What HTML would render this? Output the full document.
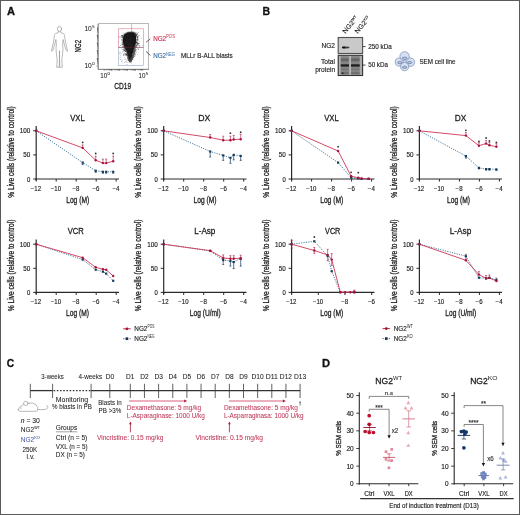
<!DOCTYPE html>
<html><head><meta charset="utf-8"><style>
html,body{margin:0;padding:0;background:#fff;}
body{width:520px;height:515px;overflow:hidden;position:relative;}
svg{display:block;position:absolute;left:0;top:0;will-change:transform;}
text{stroke:currentColor;stroke-width:0.15px;}
text.sm{stroke-width:0;}
text.md{stroke-width:0.28px;}
.lt text{stroke-width:0.06px;}
.frame{position:absolute;left:0;top:0;width:518px;height:513px;border:1px solid #5a5a5a;pointer-events:none;}
</style></head><body>
<svg width="520" height="515" viewBox="0 0 520 515" color="#222" font-family='"Liberation Sans", sans-serif'>
<rect x="0" y="0" width="520" height="515" fill="#fff"/>
<text class="md" x="7.1" y="14.9" font-size="10.5" text-anchor="start" fill="#111" color="#111" font-weight="bold" textLength="8.0" lengthAdjust="spacingAndGlyphs" >A</text>
<text class="md" x="262.5" y="15" font-size="10.5" text-anchor="start" fill="#111" color="#111" font-weight="bold" >B</text>
<text class="md" x="6.8" y="367.3" font-size="10.5" text-anchor="start" fill="#111" color="#111" font-weight="bold" textLength="7.4" lengthAdjust="spacingAndGlyphs" >C</text>
<text class="md" x="322.0" y="367.1" font-size="10.8" text-anchor="start" fill="#111" color="#111" font-weight="bold" textLength="8.1" lengthAdjust="spacingAndGlyphs" >D</text>
<text class="md" x="77.5" y="120.9" font-size="8.7" text-anchor="middle" fill="#222" color="#222" font-weight="normal" textLength="14.5" lengthAdjust="spacingAndGlyphs" >VXL</text>
<text transform="translate(13.600000000000001,152.0) rotate(-90)" x="0" y="0" class="md" font-size="8.5" text-anchor="middle" fill="#222" textLength="91.5" lengthAdjust="spacingAndGlyphs">% Live cells (relative to control)</text>
<line x1="36.2" y1="126" x2="36.2" y2="180.5" stroke="#2a2a2a" stroke-width="1.2" />
<line x1="35.6" y1="179" x2="119" y2="179" stroke="#2a2a2a" stroke-width="1.2" />
<line x1="33.2" y1="179.0" x2="36.2" y2="179.0" stroke="#2a2a2a" stroke-width="1" />
<text x="30.300000000000004" y="181.5" font-size="6.7" text-anchor="end" fill="#222" color="#222" font-weight="normal" textLength="3.3" lengthAdjust="spacingAndGlyphs" >0</text>
<line x1="33.2" y1="154.9" x2="36.2" y2="154.9" stroke="#2a2a2a" stroke-width="1" />
<text x="30.300000000000004" y="157.4" font-size="6.7" text-anchor="end" fill="#222" color="#222" font-weight="normal" textLength="7" lengthAdjust="spacingAndGlyphs" >50</text>
<line x1="33.2" y1="130.8" x2="36.2" y2="130.8" stroke="#2a2a2a" stroke-width="1" />
<text x="30.300000000000004" y="133.3" font-size="6.7" text-anchor="end" fill="#222" color="#222" font-weight="normal" textLength="10.6" lengthAdjust="spacingAndGlyphs" >100</text>
<line x1="36.2" y1="179" x2="36.2" y2="181.6" stroke="#2a2a2a" stroke-width="1" />
<text x="35.900000000000006" y="190.9" font-size="6.6" text-anchor="middle" fill="#222" color="#222" font-weight="normal" textLength="10.2" lengthAdjust="spacingAndGlyphs" >−12</text>
<line x1="56.2" y1="179" x2="56.2" y2="181.6" stroke="#2a2a2a" stroke-width="1" />
<text x="55.900000000000006" y="190.9" font-size="6.6" text-anchor="middle" fill="#222" color="#222" font-weight="normal" textLength="10.2" lengthAdjust="spacingAndGlyphs" >−10</text>
<line x1="76.2" y1="179" x2="76.2" y2="181.6" stroke="#2a2a2a" stroke-width="1" />
<text x="75.9" y="190.9" font-size="6.6" text-anchor="middle" fill="#222" color="#222" font-weight="normal" textLength="7.0" lengthAdjust="spacingAndGlyphs" >−8</text>
<line x1="96.2" y1="179" x2="96.2" y2="181.6" stroke="#2a2a2a" stroke-width="1" />
<text x="95.9" y="190.9" font-size="6.6" text-anchor="middle" fill="#222" color="#222" font-weight="normal" textLength="7.0" lengthAdjust="spacingAndGlyphs" >−6</text>
<line x1="116.2" y1="179" x2="116.2" y2="181.6" stroke="#2a2a2a" stroke-width="1" />
<text x="115.9" y="190.9" font-size="6.6" text-anchor="middle" fill="#222" color="#222" font-weight="normal" textLength="7.0" lengthAdjust="spacingAndGlyphs" >−4</text>
<text class="md" x="77.7" y="202.7" font-size="8.2" text-anchor="middle" fill="#222" color="#222" font-weight="normal" textLength="23" lengthAdjust="spacingAndGlyphs" >Log (M)</text>
<polyline points="36.2,130.8 82.7,162.6 95.7,170.8 102.9,171.8 106.2,171.8 113.2,171.8" fill="none" stroke="#3c7098" stroke-width="1" stroke-dasharray="1.1,1.3"/>
<polyline points="36.2,130.8 82.7,147.9 95.7,160.2 102.9,163.1 106.2,163.1 113.2,161.2" fill="none" stroke="#d2405e" stroke-width="0.95"/>
<line x1="82.7" y1="147.911" x2="82.7" y2="144.911" stroke="#a8163c" stroke-width="0.6" />
<line x1="81.7" y1="144.911" x2="83.7" y2="144.911" stroke="#a8163c" stroke-width="0.6" />
<line x1="95.7" y1="160.202" x2="95.7" y2="156.202" stroke="#a8163c" stroke-width="0.6" />
<line x1="94.7" y1="156.202" x2="96.7" y2="156.202" stroke="#a8163c" stroke-width="0.6" />
<line x1="102.9" y1="163.094" x2="102.9" y2="159.094" stroke="#a8163c" stroke-width="0.6" />
<line x1="101.9" y1="159.094" x2="103.9" y2="159.094" stroke="#a8163c" stroke-width="0.6" />
<line x1="106.2" y1="163.094" x2="106.2" y2="159.094" stroke="#a8163c" stroke-width="0.6" />
<line x1="105.2" y1="159.094" x2="107.2" y2="159.094" stroke="#a8163c" stroke-width="0.6" />
<line x1="113.2" y1="161.166" x2="113.2" y2="156.166" stroke="#a8163c" stroke-width="0.6" />
<line x1="112.2" y1="156.166" x2="114.2" y2="156.166" stroke="#a8163c" stroke-width="0.6" />
<line x1="82.7" y1="162.612" x2="82.7" y2="164.612" stroke="#173a5c" stroke-width="0.7" />
<line x1="81.7" y1="164.612" x2="83.7" y2="164.612" stroke="#173a5c" stroke-width="0.7" />
<line x1="95.7" y1="170.806" x2="95.7" y2="172.306" stroke="#173a5c" stroke-width="0.7" />
<line x1="94.7" y1="172.306" x2="96.7" y2="172.306" stroke="#173a5c" stroke-width="0.7" />
<line x1="102.9" y1="171.77" x2="102.9" y2="173.27" stroke="#173a5c" stroke-width="0.7" />
<line x1="101.9" y1="173.27" x2="103.9" y2="173.27" stroke="#173a5c" stroke-width="0.7" />
<line x1="106.2" y1="171.77" x2="106.2" y2="173.27" stroke="#173a5c" stroke-width="0.7" />
<line x1="105.2" y1="173.27" x2="107.2" y2="173.27" stroke="#173a5c" stroke-width="0.7" />
<line x1="113.2" y1="171.77" x2="113.2" y2="173.27" stroke="#173a5c" stroke-width="0.7" />
<line x1="112.2" y1="173.27" x2="114.2" y2="173.27" stroke="#173a5c" stroke-width="0.7" />
<rect x="35.1" y="129.7" width="2.2" height="2.2" fill="#173a5c"/>
<rect x="81.6" y="161.5" width="2.2" height="2.2" fill="#173a5c"/>
<rect x="94.6" y="169.7" width="2.2" height="2.2" fill="#173a5c"/>
<rect x="101.8" y="170.7" width="2.2" height="2.2" fill="#173a5c"/>
<rect x="105.1" y="170.7" width="2.2" height="2.2" fill="#173a5c"/>
<rect x="112.1" y="170.7" width="2.2" height="2.2" fill="#173a5c"/>
<circle cx="36.2" cy="130.8" r="1.2" fill="#a8163c"/>
<circle cx="82.7" cy="147.9" r="1.2" fill="#a8163c"/>
<circle cx="95.7" cy="160.2" r="1.2" fill="#a8163c"/>
<circle cx="102.9" cy="163.1" r="1.2" fill="#a8163c"/>
<circle cx="106.2" cy="163.1" r="1.2" fill="#a8163c"/>
<circle cx="113.2" cy="161.2" r="1.2" fill="#a8163c"/>
<circle cx="82.7" cy="142.4" r="0.9" fill="#333"/>
<circle cx="95.7" cy="153.5" r="0.9" fill="#333"/>
<circle cx="113.2" cy="153.5" r="0.9" fill="#333"/>
<text class="md" x="204.2" y="120.9" font-size="8.7" text-anchor="middle" fill="#222" color="#222" font-weight="normal" textLength="12.1" lengthAdjust="spacingAndGlyphs" >DX</text>
<text transform="translate(141.1,152.0) rotate(-90)" x="0" y="0" class="md" font-size="8.5" text-anchor="middle" fill="#222" textLength="91.5" lengthAdjust="spacingAndGlyphs">% Live cells (relative to control)</text>
<line x1="163.7" y1="126" x2="163.7" y2="180.5" stroke="#2a2a2a" stroke-width="1.2" />
<line x1="163.1" y1="179" x2="246.5" y2="179" stroke="#2a2a2a" stroke-width="1.2" />
<line x1="160.7" y1="179.0" x2="163.7" y2="179.0" stroke="#2a2a2a" stroke-width="1" />
<text x="157.79999999999998" y="181.5" font-size="6.7" text-anchor="end" fill="#222" color="#222" font-weight="normal" textLength="3.3" lengthAdjust="spacingAndGlyphs" >0</text>
<line x1="160.7" y1="154.9" x2="163.7" y2="154.9" stroke="#2a2a2a" stroke-width="1" />
<text x="157.79999999999998" y="157.4" font-size="6.7" text-anchor="end" fill="#222" color="#222" font-weight="normal" textLength="7" lengthAdjust="spacingAndGlyphs" >50</text>
<line x1="160.7" y1="130.8" x2="163.7" y2="130.8" stroke="#2a2a2a" stroke-width="1" />
<text x="157.79999999999998" y="133.3" font-size="6.7" text-anchor="end" fill="#222" color="#222" font-weight="normal" textLength="10.6" lengthAdjust="spacingAndGlyphs" >100</text>
<line x1="163.7" y1="179" x2="163.7" y2="181.6" stroke="#2a2a2a" stroke-width="1" />
<text x="163.39999999999998" y="190.9" font-size="6.6" text-anchor="middle" fill="#222" color="#222" font-weight="normal" textLength="10.2" lengthAdjust="spacingAndGlyphs" >−12</text>
<line x1="183.7" y1="179" x2="183.7" y2="181.6" stroke="#2a2a2a" stroke-width="1" />
<text x="183.39999999999998" y="190.9" font-size="6.6" text-anchor="middle" fill="#222" color="#222" font-weight="normal" textLength="10.2" lengthAdjust="spacingAndGlyphs" >−10</text>
<line x1="203.7" y1="179" x2="203.7" y2="181.6" stroke="#2a2a2a" stroke-width="1" />
<text x="203.39999999999998" y="190.9" font-size="6.6" text-anchor="middle" fill="#222" color="#222" font-weight="normal" textLength="7.0" lengthAdjust="spacingAndGlyphs" >−8</text>
<line x1="223.7" y1="179" x2="223.7" y2="181.6" stroke="#2a2a2a" stroke-width="1" />
<text x="223.39999999999998" y="190.9" font-size="6.6" text-anchor="middle" fill="#222" color="#222" font-weight="normal" textLength="7.0" lengthAdjust="spacingAndGlyphs" >−6</text>
<line x1="243.7" y1="179" x2="243.7" y2="181.6" stroke="#2a2a2a" stroke-width="1" />
<text x="243.39999999999998" y="190.9" font-size="6.6" text-anchor="middle" fill="#222" color="#222" font-weight="normal" textLength="7.0" lengthAdjust="spacingAndGlyphs" >−4</text>
<text class="md" x="205.1" y="202.7" font-size="8.2" text-anchor="middle" fill="#222" color="#222" font-weight="normal" textLength="23" lengthAdjust="spacingAndGlyphs" >Log (M)</text>
<polyline points="163.7,130.8 210.2,151.5 223.2,155.4 230.4,157.8 233.7,154.9 240.7,155.9" fill="none" stroke="#3c7098" stroke-width="1" stroke-dasharray="1.1,1.3"/>
<polyline points="163.7,130.8 210.2,137.5 223.2,140.2 230.4,140.2 233.7,139.5 240.7,139.2" fill="none" stroke="#d2405e" stroke-width="0.95"/>
<line x1="210.2" y1="137.548" x2="210.2" y2="134.548" stroke="#a8163c" stroke-width="0.6" />
<line x1="209.2" y1="134.548" x2="211.2" y2="134.548" stroke="#a8163c" stroke-width="0.6" />
<line x1="223.2" y1="140.199" x2="223.2" y2="136.199" stroke="#a8163c" stroke-width="0.6" />
<line x1="222.2" y1="136.199" x2="224.2" y2="136.199" stroke="#a8163c" stroke-width="0.6" />
<line x1="230.39999999999998" y1="140.199" x2="230.39999999999998" y2="136.199" stroke="#a8163c" stroke-width="0.6" />
<line x1="229.39999999999998" y1="136.199" x2="231.39999999999998" y2="136.199" stroke="#a8163c" stroke-width="0.6" />
<line x1="233.7" y1="139.476" x2="233.7" y2="135.476" stroke="#a8163c" stroke-width="0.6" />
<line x1="232.7" y1="135.476" x2="234.7" y2="135.476" stroke="#a8163c" stroke-width="0.6" />
<line x1="240.7" y1="139.235" x2="240.7" y2="134.235" stroke="#a8163c" stroke-width="0.6" />
<line x1="239.7" y1="134.235" x2="241.7" y2="134.235" stroke="#a8163c" stroke-width="0.6" />
<line x1="210.2" y1="151.526" x2="210.2" y2="157.026" stroke="#173a5c" stroke-width="0.7" />
<line x1="209.2" y1="157.026" x2="211.2" y2="157.026" stroke="#173a5c" stroke-width="0.7" />
<line x1="223.2" y1="155.382" x2="223.2" y2="160.382" stroke="#173a5c" stroke-width="0.7" />
<line x1="222.2" y1="160.382" x2="224.2" y2="160.382" stroke="#173a5c" stroke-width="0.7" />
<line x1="230.39999999999998" y1="157.792" x2="230.39999999999998" y2="163.292" stroke="#173a5c" stroke-width="0.7" />
<line x1="229.39999999999998" y1="163.292" x2="231.39999999999998" y2="163.292" stroke="#173a5c" stroke-width="0.7" />
<line x1="233.7" y1="154.9" x2="233.7" y2="159.9" stroke="#173a5c" stroke-width="0.7" />
<line x1="232.7" y1="159.9" x2="234.7" y2="159.9" stroke="#173a5c" stroke-width="0.7" />
<line x1="240.7" y1="155.864" x2="240.7" y2="160.364" stroke="#173a5c" stroke-width="0.7" />
<line x1="239.7" y1="160.364" x2="241.7" y2="160.364" stroke="#173a5c" stroke-width="0.7" />
<rect x="162.6" y="129.7" width="2.2" height="2.2" fill="#173a5c"/>
<rect x="209.1" y="150.4" width="2.2" height="2.2" fill="#173a5c"/>
<rect x="222.1" y="154.3" width="2.2" height="2.2" fill="#173a5c"/>
<rect x="229.3" y="156.7" width="2.2" height="2.2" fill="#173a5c"/>
<rect x="232.6" y="153.8" width="2.2" height="2.2" fill="#173a5c"/>
<rect x="239.6" y="154.8" width="2.2" height="2.2" fill="#173a5c"/>
<circle cx="163.7" cy="130.8" r="1.2" fill="#a8163c"/>
<circle cx="210.2" cy="137.5" r="1.2" fill="#a8163c"/>
<circle cx="223.2" cy="140.2" r="1.2" fill="#a8163c"/>
<circle cx="230.4" cy="140.2" r="1.2" fill="#a8163c"/>
<circle cx="233.7" cy="139.5" r="1.2" fill="#a8163c"/>
<circle cx="240.7" cy="139.2" r="1.2" fill="#a8163c"/>
<circle cx="230.4" cy="133.2" r="0.9" fill="#333"/>
<circle cx="240.7" cy="132.2" r="0.9" fill="#333"/>
<text class="md" x="75.8" y="234.29999999999998" font-size="8.7" text-anchor="middle" fill="#222" color="#222" font-weight="normal" textLength="16.0" lengthAdjust="spacingAndGlyphs" >VCR</text>
<text transform="translate(13.600000000000001,265.4) rotate(-90)" x="0" y="0" class="md" font-size="8.5" text-anchor="middle" fill="#222" textLength="91.5" lengthAdjust="spacingAndGlyphs">% Live cells (relative to control)</text>
<line x1="36.2" y1="239.39999999999998" x2="36.2" y2="293.9" stroke="#2a2a2a" stroke-width="1.2" />
<line x1="35.6" y1="292.4" x2="119" y2="292.4" stroke="#2a2a2a" stroke-width="1.2" />
<line x1="33.2" y1="292.4" x2="36.2" y2="292.4" stroke="#2a2a2a" stroke-width="1" />
<text x="30.300000000000004" y="294.9" font-size="6.7" text-anchor="end" fill="#222" color="#222" font-weight="normal" textLength="3.3" lengthAdjust="spacingAndGlyphs" >0</text>
<line x1="33.2" y1="268.29999999999995" x2="36.2" y2="268.29999999999995" stroke="#2a2a2a" stroke-width="1" />
<text x="30.300000000000004" y="270.79999999999995" font-size="6.7" text-anchor="end" fill="#222" color="#222" font-weight="normal" textLength="7" lengthAdjust="spacingAndGlyphs" >50</text>
<line x1="33.2" y1="244.2" x2="36.2" y2="244.2" stroke="#2a2a2a" stroke-width="1" />
<text x="30.300000000000004" y="246.7" font-size="6.7" text-anchor="end" fill="#222" color="#222" font-weight="normal" textLength="10.6" lengthAdjust="spacingAndGlyphs" >100</text>
<line x1="36.2" y1="292.4" x2="36.2" y2="295.0" stroke="#2a2a2a" stroke-width="1" />
<text x="35.900000000000006" y="304.29999999999995" font-size="6.6" text-anchor="middle" fill="#222" color="#222" font-weight="normal" textLength="10.2" lengthAdjust="spacingAndGlyphs" >−12</text>
<line x1="56.2" y1="292.4" x2="56.2" y2="295.0" stroke="#2a2a2a" stroke-width="1" />
<text x="55.900000000000006" y="304.29999999999995" font-size="6.6" text-anchor="middle" fill="#222" color="#222" font-weight="normal" textLength="10.2" lengthAdjust="spacingAndGlyphs" >−10</text>
<line x1="76.2" y1="292.4" x2="76.2" y2="295.0" stroke="#2a2a2a" stroke-width="1" />
<text x="75.9" y="304.29999999999995" font-size="6.6" text-anchor="middle" fill="#222" color="#222" font-weight="normal" textLength="7.0" lengthAdjust="spacingAndGlyphs" >−8</text>
<line x1="96.2" y1="292.4" x2="96.2" y2="295.0" stroke="#2a2a2a" stroke-width="1" />
<text x="95.9" y="304.29999999999995" font-size="6.6" text-anchor="middle" fill="#222" color="#222" font-weight="normal" textLength="7.0" lengthAdjust="spacingAndGlyphs" >−6</text>
<line x1="116.2" y1="292.4" x2="116.2" y2="295.0" stroke="#2a2a2a" stroke-width="1" />
<text x="115.9" y="304.29999999999995" font-size="6.6" text-anchor="middle" fill="#222" color="#222" font-weight="normal" textLength="7.0" lengthAdjust="spacingAndGlyphs" >−4</text>
<text class="md" x="77.6" y="316.09999999999997" font-size="8.2" text-anchor="middle" fill="#222" color="#222" font-weight="normal" textLength="23" lengthAdjust="spacingAndGlyphs" >Log (M)</text>
<polyline points="36.2,244.2 82.7,259.6 95.7,269.7 102.9,271.7 106.2,273.6 113.2,280.8" fill="none" stroke="#3c7098" stroke-width="1" stroke-dasharray="1.1,1.3"/>
<polyline points="36.2,244.2 82.7,257.7 95.7,267.3 102.9,269.3 106.2,269.7 113.2,276.0" fill="none" stroke="#d2405e" stroke-width="0.95"/>
<rect x="35.1" y="243.1" width="2.2" height="2.2" fill="#173a5c"/>
<rect x="81.6" y="258.5" width="2.2" height="2.2" fill="#173a5c"/>
<rect x="94.6" y="268.6" width="2.2" height="2.2" fill="#173a5c"/>
<rect x="101.8" y="270.6" width="2.2" height="2.2" fill="#173a5c"/>
<rect x="105.1" y="272.5" width="2.2" height="2.2" fill="#173a5c"/>
<rect x="112.1" y="279.7" width="2.2" height="2.2" fill="#173a5c"/>
<circle cx="36.2" cy="244.2" r="1.2" fill="#a8163c"/>
<circle cx="82.7" cy="257.7" r="1.2" fill="#a8163c"/>
<circle cx="95.7" cy="267.3" r="1.2" fill="#a8163c"/>
<circle cx="102.9" cy="269.3" r="1.2" fill="#a8163c"/>
<circle cx="106.2" cy="269.7" r="1.2" fill="#a8163c"/>
<circle cx="113.2" cy="276.0" r="1.2" fill="#a8163c"/>
<text class="md" x="204.8" y="234.29999999999998" font-size="8.7" text-anchor="middle" fill="#222" color="#222" font-weight="normal" textLength="21.2" lengthAdjust="spacingAndGlyphs" >L-Asp</text>
<text transform="translate(141.1,265.4) rotate(-90)" x="0" y="0" class="md" font-size="8.5" text-anchor="middle" fill="#222" textLength="91.5" lengthAdjust="spacingAndGlyphs">% Live cells (relative to control)</text>
<line x1="163.7" y1="239.39999999999998" x2="163.7" y2="293.9" stroke="#2a2a2a" stroke-width="1.2" />
<line x1="163.1" y1="292.4" x2="246.5" y2="292.4" stroke="#2a2a2a" stroke-width="1.2" />
<line x1="160.7" y1="292.4" x2="163.7" y2="292.4" stroke="#2a2a2a" stroke-width="1" />
<text x="157.79999999999998" y="294.9" font-size="6.7" text-anchor="end" fill="#222" color="#222" font-weight="normal" textLength="3.3" lengthAdjust="spacingAndGlyphs" >0</text>
<line x1="160.7" y1="268.29999999999995" x2="163.7" y2="268.29999999999995" stroke="#2a2a2a" stroke-width="1" />
<text x="157.79999999999998" y="270.79999999999995" font-size="6.7" text-anchor="end" fill="#222" color="#222" font-weight="normal" textLength="7" lengthAdjust="spacingAndGlyphs" >50</text>
<line x1="160.7" y1="244.2" x2="163.7" y2="244.2" stroke="#2a2a2a" stroke-width="1" />
<text x="157.79999999999998" y="246.7" font-size="6.7" text-anchor="end" fill="#222" color="#222" font-weight="normal" textLength="10.6" lengthAdjust="spacingAndGlyphs" >100</text>
<line x1="163.7" y1="292.4" x2="163.7" y2="295.0" stroke="#2a2a2a" stroke-width="1" />
<text x="163.39999999999998" y="304.29999999999995" font-size="6.6" text-anchor="middle" fill="#222" color="#222" font-weight="normal" textLength="10.2" lengthAdjust="spacingAndGlyphs" >−12</text>
<line x1="183.7" y1="292.4" x2="183.7" y2="295.0" stroke="#2a2a2a" stroke-width="1" />
<text x="183.39999999999998" y="304.29999999999995" font-size="6.6" text-anchor="middle" fill="#222" color="#222" font-weight="normal" textLength="10.2" lengthAdjust="spacingAndGlyphs" >−10</text>
<line x1="203.7" y1="292.4" x2="203.7" y2="295.0" stroke="#2a2a2a" stroke-width="1" />
<text x="203.39999999999998" y="304.29999999999995" font-size="6.6" text-anchor="middle" fill="#222" color="#222" font-weight="normal" textLength="7.0" lengthAdjust="spacingAndGlyphs" >−8</text>
<line x1="223.7" y1="292.4" x2="223.7" y2="295.0" stroke="#2a2a2a" stroke-width="1" />
<text x="223.39999999999998" y="304.29999999999995" font-size="6.6" text-anchor="middle" fill="#222" color="#222" font-weight="normal" textLength="7.0" lengthAdjust="spacingAndGlyphs" >−6</text>
<line x1="243.7" y1="292.4" x2="243.7" y2="295.0" stroke="#2a2a2a" stroke-width="1" />
<text x="243.39999999999998" y="304.29999999999995" font-size="6.6" text-anchor="middle" fill="#222" color="#222" font-weight="normal" textLength="7.0" lengthAdjust="spacingAndGlyphs" >−4</text>
<text class="md" x="205.3" y="316.09999999999997" font-size="8.2" text-anchor="middle" fill="#222" color="#222" font-weight="normal" textLength="31" lengthAdjust="spacingAndGlyphs" >Log (U/ml)</text>
<polyline points="163.7,244.2 210.2,250.9 223.2,260.1 230.4,261.1 233.7,262.0 240.7,258.7" fill="none" stroke="#3c7098" stroke-width="1" stroke-dasharray="1.1,1.3"/>
<polyline points="163.7,244.2 210.2,250.7 223.2,257.9 230.4,258.7 233.7,258.7 240.7,258.2" fill="none" stroke="#d2405e" stroke-width="0.95"/>
<line x1="223.2" y1="257.93699999999995" x2="223.2" y2="254.93699999999995" stroke="#a8163c" stroke-width="0.6" />
<line x1="222.2" y1="254.93699999999995" x2="224.2" y2="254.93699999999995" stroke="#a8163c" stroke-width="0.6" />
<line x1="230.39999999999998" y1="258.65999999999997" x2="230.39999999999998" y2="255.65999999999997" stroke="#a8163c" stroke-width="0.6" />
<line x1="229.39999999999998" y1="255.65999999999997" x2="231.39999999999998" y2="255.65999999999997" stroke="#a8163c" stroke-width="0.6" />
<line x1="233.7" y1="258.65999999999997" x2="233.7" y2="255.65999999999997" stroke="#a8163c" stroke-width="0.6" />
<line x1="232.7" y1="255.65999999999997" x2="234.7" y2="255.65999999999997" stroke="#a8163c" stroke-width="0.6" />
<line x1="240.7" y1="258.178" x2="240.7" y2="255.178" stroke="#a8163c" stroke-width="0.6" />
<line x1="239.7" y1="255.178" x2="241.7" y2="255.178" stroke="#a8163c" stroke-width="0.6" />
<line x1="223.2" y1="260.106" x2="223.2" y2="264.606" stroke="#173a5c" stroke-width="0.7" />
<line x1="222.2" y1="264.606" x2="224.2" y2="264.606" stroke="#173a5c" stroke-width="0.7" />
<line x1="230.39999999999998" y1="261.07" x2="230.39999999999998" y2="266.07" stroke="#173a5c" stroke-width="0.7" />
<line x1="229.39999999999998" y1="266.07" x2="231.39999999999998" y2="266.07" stroke="#173a5c" stroke-width="0.7" />
<line x1="233.7" y1="262.034" x2="233.7" y2="268.534" stroke="#173a5c" stroke-width="0.7" />
<line x1="232.7" y1="268.534" x2="234.7" y2="268.534" stroke="#173a5c" stroke-width="0.7" />
<line x1="240.7" y1="258.65999999999997" x2="240.7" y2="266.15999999999997" stroke="#173a5c" stroke-width="0.7" />
<line x1="239.7" y1="266.15999999999997" x2="241.7" y2="266.15999999999997" stroke="#173a5c" stroke-width="0.7" />
<rect x="162.6" y="243.1" width="2.2" height="2.2" fill="#173a5c"/>
<rect x="209.1" y="249.8" width="2.2" height="2.2" fill="#173a5c"/>
<rect x="222.1" y="259.0" width="2.2" height="2.2" fill="#173a5c"/>
<rect x="229.3" y="260.0" width="2.2" height="2.2" fill="#173a5c"/>
<rect x="232.6" y="260.9" width="2.2" height="2.2" fill="#173a5c"/>
<rect x="239.6" y="257.6" width="2.2" height="2.2" fill="#173a5c"/>
<circle cx="163.7" cy="244.2" r="1.2" fill="#a8163c"/>
<circle cx="210.2" cy="250.7" r="1.2" fill="#a8163c"/>
<circle cx="223.2" cy="257.9" r="1.2" fill="#a8163c"/>
<circle cx="230.4" cy="258.7" r="1.2" fill="#a8163c"/>
<circle cx="233.7" cy="258.7" r="1.2" fill="#a8163c"/>
<circle cx="240.7" cy="258.2" r="1.2" fill="#a8163c"/>
<text class="md" x="331.5" y="120.9" font-size="8.7" text-anchor="middle" fill="#222" color="#222" font-weight="normal" textLength="14.6" lengthAdjust="spacingAndGlyphs" >VXL</text>
<text transform="translate(269.0,152.0) rotate(-90)" x="0" y="0" class="md" font-size="8.5" text-anchor="middle" fill="#222" textLength="91.5" lengthAdjust="spacingAndGlyphs">% Live cells (relative to control)</text>
<line x1="291.6" y1="126" x2="291.6" y2="180.5" stroke="#2a2a2a" stroke-width="1.2" />
<line x1="291.0" y1="179" x2="374.5" y2="179" stroke="#2a2a2a" stroke-width="1.2" />
<line x1="288.6" y1="179.0" x2="291.6" y2="179.0" stroke="#2a2a2a" stroke-width="1" />
<text x="285.70000000000005" y="181.5" font-size="6.7" text-anchor="end" fill="#222" color="#222" font-weight="normal" textLength="3.3" lengthAdjust="spacingAndGlyphs" >0</text>
<line x1="288.6" y1="154.9" x2="291.6" y2="154.9" stroke="#2a2a2a" stroke-width="1" />
<text x="285.70000000000005" y="157.4" font-size="6.7" text-anchor="end" fill="#222" color="#222" font-weight="normal" textLength="7" lengthAdjust="spacingAndGlyphs" >50</text>
<line x1="288.6" y1="130.8" x2="291.6" y2="130.8" stroke="#2a2a2a" stroke-width="1" />
<text x="285.70000000000005" y="133.3" font-size="6.7" text-anchor="end" fill="#222" color="#222" font-weight="normal" textLength="10.6" lengthAdjust="spacingAndGlyphs" >100</text>
<line x1="291.6" y1="179" x2="291.6" y2="181.6" stroke="#2a2a2a" stroke-width="1" />
<text x="291.3" y="190.9" font-size="6.6" text-anchor="middle" fill="#222" color="#222" font-weight="normal" textLength="10.2" lengthAdjust="spacingAndGlyphs" >−12</text>
<line x1="311.6" y1="179" x2="311.6" y2="181.6" stroke="#2a2a2a" stroke-width="1" />
<text x="311.3" y="190.9" font-size="6.6" text-anchor="middle" fill="#222" color="#222" font-weight="normal" textLength="10.2" lengthAdjust="spacingAndGlyphs" >−10</text>
<line x1="331.6" y1="179" x2="331.6" y2="181.6" stroke="#2a2a2a" stroke-width="1" />
<text x="331.3" y="190.9" font-size="6.6" text-anchor="middle" fill="#222" color="#222" font-weight="normal" textLength="7.0" lengthAdjust="spacingAndGlyphs" >−8</text>
<line x1="351.6" y1="179" x2="351.6" y2="181.6" stroke="#2a2a2a" stroke-width="1" />
<text x="351.3" y="190.9" font-size="6.6" text-anchor="middle" fill="#222" color="#222" font-weight="normal" textLength="7.0" lengthAdjust="spacingAndGlyphs" >−6</text>
<line x1="371.6" y1="179" x2="371.6" y2="181.6" stroke="#2a2a2a" stroke-width="1" />
<text x="371.3" y="190.9" font-size="6.6" text-anchor="middle" fill="#222" color="#222" font-weight="normal" textLength="7.0" lengthAdjust="spacingAndGlyphs" >−4</text>
<text class="md" x="331.7" y="202.7" font-size="8.2" text-anchor="middle" fill="#222" color="#222" font-weight="normal" textLength="23" lengthAdjust="spacingAndGlyphs" >Log (M)</text>
<polyline points="291.6,130.8 338.1,162.6 351.1,177.6 358.3,178.3 361.6,178.8 368.6,178.9" fill="none" stroke="#3c7098" stroke-width="1" stroke-dasharray="1.1,1.3"/>
<polyline points="291.6,130.8 338.1,151.0 351.1,176.1 358.3,177.8 361.6,178.5 368.6,178.8" fill="none" stroke="#d2405e" stroke-width="0.95"/>
<rect x="290.5" y="129.7" width="2.2" height="2.2" fill="#173a5c"/>
<rect x="337.0" y="161.5" width="2.2" height="2.2" fill="#173a5c"/>
<rect x="350.0" y="176.5" width="2.2" height="2.2" fill="#173a5c"/>
<rect x="357.2" y="177.2" width="2.2" height="2.2" fill="#173a5c"/>
<rect x="360.5" y="177.7" width="2.2" height="2.2" fill="#173a5c"/>
<rect x="367.5" y="177.8" width="2.2" height="2.2" fill="#173a5c"/>
<circle cx="291.6" cy="130.8" r="1.2" fill="#a8163c"/>
<circle cx="338.1" cy="151.0" r="1.2" fill="#a8163c"/>
<circle cx="351.1" cy="176.1" r="1.2" fill="#a8163c"/>
<circle cx="358.3" cy="177.8" r="1.2" fill="#a8163c"/>
<circle cx="361.6" cy="178.5" r="1.2" fill="#a8163c"/>
<circle cx="368.6" cy="178.8" r="1.2" fill="#a8163c"/>
<circle cx="338.1" cy="146.7" r="0.9" fill="#333"/>
<circle cx="351.1" cy="172.3" r="0.9" fill="#333"/>
<circle cx="358.3" cy="172.7" r="0.9" fill="#333"/>
<text class="md" x="460.6" y="120.9" font-size="8.7" text-anchor="middle" fill="#222" color="#222" font-weight="normal" textLength="11.6" lengthAdjust="spacingAndGlyphs" >DX</text>
<text transform="translate(396.79999999999995,152.0) rotate(-90)" x="0" y="0" class="md" font-size="8.5" text-anchor="middle" fill="#222" textLength="91.5" lengthAdjust="spacingAndGlyphs">% Live cells (relative to control)</text>
<line x1="419.4" y1="126" x2="419.4" y2="180.5" stroke="#2a2a2a" stroke-width="1.2" />
<line x1="418.79999999999995" y1="179" x2="502" y2="179" stroke="#2a2a2a" stroke-width="1.2" />
<line x1="416.4" y1="179.0" x2="419.4" y2="179.0" stroke="#2a2a2a" stroke-width="1" />
<text x="413.5" y="181.5" font-size="6.7" text-anchor="end" fill="#222" color="#222" font-weight="normal" textLength="3.3" lengthAdjust="spacingAndGlyphs" >0</text>
<line x1="416.4" y1="154.9" x2="419.4" y2="154.9" stroke="#2a2a2a" stroke-width="1" />
<text x="413.5" y="157.4" font-size="6.7" text-anchor="end" fill="#222" color="#222" font-weight="normal" textLength="7" lengthAdjust="spacingAndGlyphs" >50</text>
<line x1="416.4" y1="130.8" x2="419.4" y2="130.8" stroke="#2a2a2a" stroke-width="1" />
<text x="413.5" y="133.3" font-size="6.7" text-anchor="end" fill="#222" color="#222" font-weight="normal" textLength="10.6" lengthAdjust="spacingAndGlyphs" >100</text>
<line x1="419.4" y1="179" x2="419.4" y2="181.6" stroke="#2a2a2a" stroke-width="1" />
<text x="419.09999999999997" y="190.9" font-size="6.6" text-anchor="middle" fill="#222" color="#222" font-weight="normal" textLength="10.2" lengthAdjust="spacingAndGlyphs" >−12</text>
<line x1="439.4" y1="179" x2="439.4" y2="181.6" stroke="#2a2a2a" stroke-width="1" />
<text x="439.09999999999997" y="190.9" font-size="6.6" text-anchor="middle" fill="#222" color="#222" font-weight="normal" textLength="10.2" lengthAdjust="spacingAndGlyphs" >−10</text>
<line x1="459.4" y1="179" x2="459.4" y2="181.6" stroke="#2a2a2a" stroke-width="1" />
<text x="459.09999999999997" y="190.9" font-size="6.6" text-anchor="middle" fill="#222" color="#222" font-weight="normal" textLength="7.0" lengthAdjust="spacingAndGlyphs" >−8</text>
<line x1="479.4" y1="179" x2="479.4" y2="181.6" stroke="#2a2a2a" stroke-width="1" />
<text x="479.09999999999997" y="190.9" font-size="6.6" text-anchor="middle" fill="#222" color="#222" font-weight="normal" textLength="7.0" lengthAdjust="spacingAndGlyphs" >−6</text>
<line x1="499.4" y1="179" x2="499.4" y2="181.6" stroke="#2a2a2a" stroke-width="1" />
<text x="499.09999999999997" y="190.9" font-size="6.6" text-anchor="middle" fill="#222" color="#222" font-weight="normal" textLength="7.0" lengthAdjust="spacingAndGlyphs" >−4</text>
<text class="md" x="458.5" y="202.7" font-size="8.2" text-anchor="middle" fill="#222" color="#222" font-weight="normal" textLength="23" lengthAdjust="spacingAndGlyphs" >Log (M)</text>
<polyline points="419.4,130.8 465.9,156.1 478.9,167.9 486.1,169.1 489.4,169.1 496.4,169.4" fill="none" stroke="#3c7098" stroke-width="1" stroke-dasharray="1.1,1.3"/>
<polyline points="419.4,130.8 465.9,135.6 478.9,145.7 486.1,143.6 489.4,145.3 496.4,146.7" fill="none" stroke="#d2405e" stroke-width="0.95"/>
<line x1="465.9" y1="135.62" x2="465.9" y2="132.62" stroke="#a8163c" stroke-width="0.6" />
<line x1="464.9" y1="132.62" x2="466.9" y2="132.62" stroke="#a8163c" stroke-width="0.6" />
<line x1="478.9" y1="145.74200000000002" x2="478.9" y2="142.74200000000002" stroke="#a8163c" stroke-width="0.6" />
<line x1="477.9" y1="142.74200000000002" x2="479.9" y2="142.74200000000002" stroke="#a8163c" stroke-width="0.6" />
<line x1="486.09999999999997" y1="143.573" x2="486.09999999999997" y2="140.573" stroke="#a8163c" stroke-width="0.6" />
<line x1="485.09999999999997" y1="140.573" x2="487.09999999999997" y2="140.573" stroke="#a8163c" stroke-width="0.6" />
<line x1="489.4" y1="145.26" x2="489.4" y2="142.26" stroke="#a8163c" stroke-width="0.6" />
<line x1="488.4" y1="142.26" x2="490.4" y2="142.26" stroke="#a8163c" stroke-width="0.6" />
<line x1="496.4" y1="146.70600000000002" x2="496.4" y2="143.70600000000002" stroke="#a8163c" stroke-width="0.6" />
<line x1="495.4" y1="143.70600000000002" x2="497.4" y2="143.70600000000002" stroke="#a8163c" stroke-width="0.6" />
<line x1="465.9" y1="156.105" x2="465.9" y2="158.105" stroke="#173a5c" stroke-width="0.7" />
<line x1="464.9" y1="158.105" x2="466.9" y2="158.105" stroke="#173a5c" stroke-width="0.7" />
<line x1="478.9" y1="167.914" x2="478.9" y2="168.914" stroke="#173a5c" stroke-width="0.7" />
<line x1="477.9" y1="168.914" x2="479.9" y2="168.914" stroke="#173a5c" stroke-width="0.7" />
<line x1="486.09999999999997" y1="169.119" x2="486.09999999999997" y2="170.119" stroke="#173a5c" stroke-width="0.7" />
<line x1="485.09999999999997" y1="170.119" x2="487.09999999999997" y2="170.119" stroke="#173a5c" stroke-width="0.7" />
<line x1="489.4" y1="169.119" x2="489.4" y2="170.119" stroke="#173a5c" stroke-width="0.7" />
<line x1="488.4" y1="170.119" x2="490.4" y2="170.119" stroke="#173a5c" stroke-width="0.7" />
<line x1="496.4" y1="169.36" x2="496.4" y2="170.36" stroke="#173a5c" stroke-width="0.7" />
<line x1="495.4" y1="170.36" x2="497.4" y2="170.36" stroke="#173a5c" stroke-width="0.7" />
<rect x="418.3" y="129.7" width="2.2" height="2.2" fill="#173a5c"/>
<rect x="464.8" y="155.0" width="2.2" height="2.2" fill="#173a5c"/>
<rect x="477.8" y="166.8" width="2.2" height="2.2" fill="#173a5c"/>
<rect x="485.0" y="168.0" width="2.2" height="2.2" fill="#173a5c"/>
<rect x="488.3" y="168.0" width="2.2" height="2.2" fill="#173a5c"/>
<rect x="495.3" y="168.3" width="2.2" height="2.2" fill="#173a5c"/>
<circle cx="419.4" cy="130.8" r="1.2" fill="#a8163c"/>
<circle cx="465.9" cy="135.6" r="1.2" fill="#a8163c"/>
<circle cx="478.9" cy="145.7" r="1.2" fill="#a8163c"/>
<circle cx="486.1" cy="143.6" r="1.2" fill="#a8163c"/>
<circle cx="489.4" cy="145.3" r="1.2" fill="#a8163c"/>
<circle cx="496.4" cy="146.7" r="1.2" fill="#a8163c"/>
<circle cx="465.9" cy="130.3" r="0.9" fill="#333"/>
<circle cx="478.9" cy="141.4" r="0.9" fill="#333"/>
<circle cx="486.1" cy="138.0" r="0.9" fill="#333"/>
<circle cx="489.4" cy="140.9" r="0.9" fill="#333"/>
<circle cx="496.4" cy="142.4" r="0.9" fill="#333"/>
<text class="md" x="332.7" y="234.29999999999998" font-size="8.7" text-anchor="middle" fill="#222" color="#222" font-weight="normal" textLength="15.2" lengthAdjust="spacingAndGlyphs" >VCR</text>
<text transform="translate(269.0,265.4) rotate(-90)" x="0" y="0" class="md" font-size="8.5" text-anchor="middle" fill="#222" textLength="91.5" lengthAdjust="spacingAndGlyphs">% Live cells (relative to control)</text>
<line x1="291.6" y1="239.39999999999998" x2="291.6" y2="293.9" stroke="#2a2a2a" stroke-width="1.2" />
<line x1="291.0" y1="292.4" x2="374.5" y2="292.4" stroke="#2a2a2a" stroke-width="1.2" />
<line x1="288.6" y1="292.4" x2="291.6" y2="292.4" stroke="#2a2a2a" stroke-width="1" />
<text x="285.70000000000005" y="294.9" font-size="6.7" text-anchor="end" fill="#222" color="#222" font-weight="normal" textLength="3.3" lengthAdjust="spacingAndGlyphs" >0</text>
<line x1="288.6" y1="268.29999999999995" x2="291.6" y2="268.29999999999995" stroke="#2a2a2a" stroke-width="1" />
<text x="285.70000000000005" y="270.79999999999995" font-size="6.7" text-anchor="end" fill="#222" color="#222" font-weight="normal" textLength="7" lengthAdjust="spacingAndGlyphs" >50</text>
<line x1="288.6" y1="244.2" x2="291.6" y2="244.2" stroke="#2a2a2a" stroke-width="1" />
<text x="285.70000000000005" y="246.7" font-size="6.7" text-anchor="end" fill="#222" color="#222" font-weight="normal" textLength="10.6" lengthAdjust="spacingAndGlyphs" >100</text>
<line x1="291.6" y1="292.4" x2="291.6" y2="295.0" stroke="#2a2a2a" stroke-width="1" />
<text x="291.3" y="304.29999999999995" font-size="6.6" text-anchor="middle" fill="#222" color="#222" font-weight="normal" textLength="10.2" lengthAdjust="spacingAndGlyphs" >−12</text>
<line x1="318.3" y1="292.4" x2="318.3" y2="295.0" stroke="#2a2a2a" stroke-width="1" />
<text x="318.0" y="304.29999999999995" font-size="6.6" text-anchor="middle" fill="#222" color="#222" font-weight="normal" textLength="10.2" lengthAdjust="spacingAndGlyphs" >−10</text>
<line x1="345.0" y1="292.4" x2="345.0" y2="295.0" stroke="#2a2a2a" stroke-width="1" />
<text x="344.7" y="304.29999999999995" font-size="6.6" text-anchor="middle" fill="#222" color="#222" font-weight="normal" textLength="7.0" lengthAdjust="spacingAndGlyphs" >−8</text>
<line x1="371.70000000000005" y1="292.4" x2="371.70000000000005" y2="295.0" stroke="#2a2a2a" stroke-width="1" />
<text x="371.40000000000003" y="304.29999999999995" font-size="6.6" text-anchor="middle" fill="#222" color="#222" font-weight="normal" textLength="7.0" lengthAdjust="spacingAndGlyphs" >−6</text>
<text class="md" x="331.8" y="316.09999999999997" font-size="8.2" text-anchor="middle" fill="#222" color="#222" font-weight="normal" textLength="23" lengthAdjust="spacingAndGlyphs" >Log (M)</text>
<polyline points="291.6,244.2 314.3,241.3 327.6,255.8 331.7,271.2 340.3,292.2 354.3,292.2" fill="none" stroke="#3c7098" stroke-width="1" stroke-dasharray="1.1,1.3"/>
<polyline points="291.6,244.2 314.3,250.5 327.6,255.0 331.7,259.6 340.3,292.2 345.0,292.2 350.3,292.2 354.3,291.7" fill="none" stroke="#d2405e" stroke-width="0.95"/>
<line x1="291.6" y1="244.2" x2="291.6" y2="240.2" stroke="#a8163c" stroke-width="0.6" />
<line x1="290.6" y1="240.2" x2="292.6" y2="240.2" stroke="#a8163c" stroke-width="0.6" />
<line x1="291.6" y1="244.2" x2="291.6" y2="248.2" stroke="#a8163c" stroke-width="0.6" />
<line x1="290.6" y1="248.2" x2="292.6" y2="248.2" stroke="#a8163c" stroke-width="0.6" />
<line x1="314.295" y1="250.46599999999998" x2="314.295" y2="247.46599999999998" stroke="#a8163c" stroke-width="0.6" />
<line x1="313.295" y1="247.46599999999998" x2="315.295" y2="247.46599999999998" stroke="#a8163c" stroke-width="0.6" />
<line x1="314.295" y1="250.46599999999998" x2="314.295" y2="253.46599999999998" stroke="#a8163c" stroke-width="0.6" />
<line x1="313.295" y1="253.46599999999998" x2="315.295" y2="253.46599999999998" stroke="#a8163c" stroke-width="0.6" />
<line x1="327.645" y1="255.045" x2="327.645" y2="249.345" stroke="#a8163c" stroke-width="0.6" />
<line x1="326.645" y1="249.345" x2="328.645" y2="249.345" stroke="#a8163c" stroke-width="0.6" />
<line x1="327.645" y1="255.045" x2="327.645" y2="260.745" stroke="#a8163c" stroke-width="0.6" />
<line x1="326.645" y1="260.745" x2="328.645" y2="260.745" stroke="#a8163c" stroke-width="0.6" />
<line x1="331.65000000000003" y1="259.62399999999997" x2="331.65000000000003" y2="253.62399999999997" stroke="#a8163c" stroke-width="0.6" />
<line x1="330.65000000000003" y1="253.62399999999997" x2="332.65000000000003" y2="253.62399999999997" stroke="#a8163c" stroke-width="0.6" />
<line x1="331.65000000000003" y1="259.62399999999997" x2="331.65000000000003" y2="265.62399999999997" stroke="#a8163c" stroke-width="0.6" />
<line x1="330.65000000000003" y1="265.62399999999997" x2="332.65000000000003" y2="265.62399999999997" stroke="#a8163c" stroke-width="0.6" />
<line x1="354.345" y1="291.67699999999996" x2="354.345" y2="290.17699999999996" stroke="#a8163c" stroke-width="0.6" />
<line x1="353.345" y1="290.17699999999996" x2="355.345" y2="290.17699999999996" stroke="#a8163c" stroke-width="0.6" />
<line x1="354.345" y1="291.67699999999996" x2="354.345" y2="293.17699999999996" stroke="#a8163c" stroke-width="0.6" />
<line x1="353.345" y1="293.17699999999996" x2="355.345" y2="293.17699999999996" stroke="#a8163c" stroke-width="0.6" />
<rect x="290.5" y="243.1" width="2.2" height="2.2" fill="#173a5c"/>
<rect x="313.2" y="240.2" width="2.2" height="2.2" fill="#173a5c"/>
<rect x="326.5" y="254.7" width="2.2" height="2.2" fill="#173a5c"/>
<rect x="330.6" y="270.1" width="2.2" height="2.2" fill="#173a5c"/>
<rect x="339.2" y="291.1" width="2.2" height="2.2" fill="#173a5c"/>
<rect x="353.2" y="291.1" width="2.2" height="2.2" fill="#173a5c"/>
<circle cx="291.6" cy="244.2" r="1.2" fill="#a8163c"/>
<circle cx="314.3" cy="250.5" r="1.2" fill="#a8163c"/>
<circle cx="327.6" cy="255.0" r="1.2" fill="#a8163c"/>
<circle cx="331.7" cy="259.6" r="1.2" fill="#a8163c"/>
<circle cx="340.3" cy="292.2" r="1.2" fill="#a8163c"/>
<circle cx="345.0" cy="292.2" r="1.2" fill="#a8163c"/>
<circle cx="350.3" cy="292.2" r="1.2" fill="#a8163c"/>
<circle cx="354.3" cy="291.7" r="1.2" fill="#a8163c"/>
<circle cx="314.3" cy="237.0" r="0.9" fill="#333"/>
<text class="md" x="460.5" y="234.29999999999998" font-size="8.7" text-anchor="middle" fill="#222" color="#222" font-weight="normal" textLength="21.6" lengthAdjust="spacingAndGlyphs" >L-Asp</text>
<text transform="translate(396.79999999999995,265.4) rotate(-90)" x="0" y="0" class="md" font-size="8.5" text-anchor="middle" fill="#222" textLength="91.5" lengthAdjust="spacingAndGlyphs">% Live cells (relative to control)</text>
<line x1="419.4" y1="239.39999999999998" x2="419.4" y2="293.9" stroke="#2a2a2a" stroke-width="1.2" />
<line x1="418.79999999999995" y1="292.4" x2="502" y2="292.4" stroke="#2a2a2a" stroke-width="1.2" />
<line x1="416.4" y1="292.4" x2="419.4" y2="292.4" stroke="#2a2a2a" stroke-width="1" />
<text x="413.5" y="294.9" font-size="6.7" text-anchor="end" fill="#222" color="#222" font-weight="normal" textLength="3.3" lengthAdjust="spacingAndGlyphs" >0</text>
<line x1="416.4" y1="268.29999999999995" x2="419.4" y2="268.29999999999995" stroke="#2a2a2a" stroke-width="1" />
<text x="413.5" y="270.79999999999995" font-size="6.7" text-anchor="end" fill="#222" color="#222" font-weight="normal" textLength="7" lengthAdjust="spacingAndGlyphs" >50</text>
<line x1="416.4" y1="244.2" x2="419.4" y2="244.2" stroke="#2a2a2a" stroke-width="1" />
<text x="413.5" y="246.7" font-size="6.7" text-anchor="end" fill="#222" color="#222" font-weight="normal" textLength="10.6" lengthAdjust="spacingAndGlyphs" >100</text>
<line x1="419.4" y1="292.4" x2="419.4" y2="295.0" stroke="#2a2a2a" stroke-width="1" />
<text x="419.09999999999997" y="304.29999999999995" font-size="6.6" text-anchor="middle" fill="#222" color="#222" font-weight="normal" textLength="10.2" lengthAdjust="spacingAndGlyphs" >−12</text>
<line x1="439.4" y1="292.4" x2="439.4" y2="295.0" stroke="#2a2a2a" stroke-width="1" />
<text x="439.09999999999997" y="304.29999999999995" font-size="6.6" text-anchor="middle" fill="#222" color="#222" font-weight="normal" textLength="10.2" lengthAdjust="spacingAndGlyphs" >−10</text>
<line x1="459.4" y1="292.4" x2="459.4" y2="295.0" stroke="#2a2a2a" stroke-width="1" />
<text x="459.09999999999997" y="304.29999999999995" font-size="6.6" text-anchor="middle" fill="#222" color="#222" font-weight="normal" textLength="7.0" lengthAdjust="spacingAndGlyphs" >−8</text>
<line x1="479.4" y1="292.4" x2="479.4" y2="295.0" stroke="#2a2a2a" stroke-width="1" />
<text x="479.09999999999997" y="304.29999999999995" font-size="6.6" text-anchor="middle" fill="#222" color="#222" font-weight="normal" textLength="7.0" lengthAdjust="spacingAndGlyphs" >−6</text>
<line x1="499.4" y1="292.4" x2="499.4" y2="295.0" stroke="#2a2a2a" stroke-width="1" />
<text x="499.09999999999997" y="304.29999999999995" font-size="6.6" text-anchor="middle" fill="#222" color="#222" font-weight="normal" textLength="7.0" lengthAdjust="spacingAndGlyphs" >−4</text>
<text class="md" x="460.79999999999995" y="316.09999999999997" font-size="8.2" text-anchor="middle" fill="#222" color="#222" font-weight="normal" textLength="31" lengthAdjust="spacingAndGlyphs" >Log (U/ml)</text>
<polyline points="419.4,244.2 465.9,256.2 478.9,277.7 486.1,278.4 489.4,277.9 496.4,279.9" fill="none" stroke="#3c7098" stroke-width="1" stroke-dasharray="1.1,1.3"/>
<polyline points="419.4,244.2 465.9,260.3 478.9,274.6 486.1,278.4 489.4,277.9 496.4,281.1" fill="none" stroke="#d2405e" stroke-width="0.95"/>
<line x1="465.9" y1="260.347" x2="465.9" y2="254.34699999999998" stroke="#a8163c" stroke-width="0.6" />
<line x1="464.9" y1="254.34699999999998" x2="466.9" y2="254.34699999999998" stroke="#a8163c" stroke-width="0.6" />
<line x1="478.9" y1="274.566" x2="478.9" y2="271.566" stroke="#a8163c" stroke-width="0.6" />
<line x1="477.9" y1="271.566" x2="479.9" y2="271.566" stroke="#a8163c" stroke-width="0.6" />
<line x1="486.09999999999997" y1="278.42199999999997" x2="486.09999999999997" y2="275.42199999999997" stroke="#a8163c" stroke-width="0.6" />
<line x1="485.09999999999997" y1="275.42199999999997" x2="487.09999999999997" y2="275.42199999999997" stroke="#a8163c" stroke-width="0.6" />
<line x1="489.4" y1="277.94" x2="489.4" y2="274.94" stroke="#a8163c" stroke-width="0.6" />
<line x1="488.4" y1="274.94" x2="490.4" y2="274.94" stroke="#a8163c" stroke-width="0.6" />
<line x1="496.4" y1="281.073" x2="496.4" y2="278.073" stroke="#a8163c" stroke-width="0.6" />
<line x1="495.4" y1="278.073" x2="497.4" y2="278.073" stroke="#a8163c" stroke-width="0.6" />
<rect x="418.3" y="243.1" width="2.2" height="2.2" fill="#173a5c"/>
<rect x="464.8" y="255.2" width="2.2" height="2.2" fill="#173a5c"/>
<rect x="477.8" y="276.6" width="2.2" height="2.2" fill="#173a5c"/>
<rect x="485.0" y="277.3" width="2.2" height="2.2" fill="#173a5c"/>
<rect x="488.3" y="276.8" width="2.2" height="2.2" fill="#173a5c"/>
<rect x="495.3" y="278.8" width="2.2" height="2.2" fill="#173a5c"/>
<circle cx="419.4" cy="244.2" r="1.2" fill="#a8163c"/>
<circle cx="465.9" cy="260.3" r="1.2" fill="#a8163c"/>
<circle cx="478.9" cy="274.6" r="1.2" fill="#a8163c"/>
<circle cx="486.1" cy="278.4" r="1.2" fill="#a8163c"/>
<circle cx="489.4" cy="277.9" r="1.2" fill="#a8163c"/>
<circle cx="496.4" cy="281.1" r="1.2" fill="#a8163c"/>
<g fill="none" stroke="#8c8c8c" stroke-width="0.6" stroke-linejoin="round" stroke-linecap="round">
<ellipse cx="59.5" cy="28.9" rx="2.1" ry="2.5"/>
<path d="M58.4,31.3 L58.3,32.6 L55.6,33.5 Q54.6,34 54.5,35.5 L53.3,43 L51.8,49.2 Q51.2,50.6 51.5,51.2 Q52.5,51.4 53,50 L54.8,44 L55.9,39.5 L56.4,44.5 L56,48.5 L56.6,56 L57.1,58.5 L57.0,63.5 L56.6,67.2 L59.2,67.4 L59.3,63.5 L59.5,58.5 L59.6,51 "/>
<path d="M60.6,31.3 L60.7,32.6 L63.4,33.5 Q64.4,34 64.5,35.5 L65.7,43 L67.2,49.2 Q67.8,50.6 67.5,51.2 Q66.5,51.4 66,50 L64.2,44 L63.1,39.5 L62.6,44.5 L63,48.5 L62.4,56 L61.9,58.5 L62.0,63.5 L62.4,67.2 L59.8,67.4 L59.7,63.5 L59.5,58.5 L59.4,51 "/>
</g>
<rect x="98.3" y="23.7" width="50.4" height="45.5" fill="none" stroke="#8a8a8a" stroke-width="0.6"/>
<line x1="98.0" y1="24.0" x2="98.0" y2="69.4" stroke="#6a6a6a" stroke-width="0.7" />
<line x1="96.5" y1="66.0" x2="98.0" y2="66.0" stroke="#444" stroke-width="0.55" />
<line x1="97.1" y1="63.68808963330063" x2="98.0" y2="63.68808963330063" stroke="#444" stroke-width="0.55" />
<line x1="97.1" y1="62.33570876375299" x2="98.0" y2="62.33570876375299" stroke="#444" stroke-width="0.55" />
<line x1="97.1" y1="61.37617926660125" x2="98.0" y2="61.37617926660125" stroke="#444" stroke-width="0.55" />
<line x1="97.1" y1="60.63191036669937" x2="98.0" y2="60.63191036669937" stroke="#444" stroke-width="0.55" />
<line x1="97.1" y1="60.02379839705362" x2="98.0" y2="60.02379839705362" stroke="#444" stroke-width="0.55" />
<line x1="97.1" y1="59.50964705269051" x2="98.0" y2="59.50964705269051" stroke="#444" stroke-width="0.55" />
<line x1="97.1" y1="59.064268899901876" x2="98.0" y2="59.064268899901876" stroke="#444" stroke-width="0.55" />
<line x1="97.1" y1="58.67141752750599" x2="98.0" y2="58.67141752750599" stroke="#444" stroke-width="0.55" />
<line x1="96.5" y1="58.32" x2="98.0" y2="58.32" stroke="#444" stroke-width="0.55" />
<line x1="97.1" y1="56.00808963330063" x2="98.0" y2="56.00808963330063" stroke="#444" stroke-width="0.55" />
<line x1="97.1" y1="54.655708763753" x2="98.0" y2="54.655708763753" stroke="#444" stroke-width="0.55" />
<line x1="97.1" y1="53.69617926660125" x2="98.0" y2="53.69617926660125" stroke="#444" stroke-width="0.55" />
<line x1="97.1" y1="52.95191036669938" x2="98.0" y2="52.95191036669938" stroke="#444" stroke-width="0.55" />
<line x1="97.1" y1="52.34379839705362" x2="98.0" y2="52.34379839705362" stroke="#444" stroke-width="0.55" />
<line x1="97.1" y1="51.829647052690504" x2="98.0" y2="51.829647052690504" stroke="#444" stroke-width="0.55" />
<line x1="97.1" y1="51.384268899901876" x2="98.0" y2="51.384268899901876" stroke="#444" stroke-width="0.55" />
<line x1="97.1" y1="50.99141752750599" x2="98.0" y2="50.99141752750599" stroke="#444" stroke-width="0.55" />
<line x1="96.5" y1="50.64" x2="98.0" y2="50.64" stroke="#444" stroke-width="0.55" />
<line x1="97.1" y1="48.32808963330062" x2="98.0" y2="48.32808963330062" stroke="#444" stroke-width="0.55" />
<line x1="97.1" y1="46.97570876375299" x2="98.0" y2="46.97570876375299" stroke="#444" stroke-width="0.55" />
<line x1="97.1" y1="46.01617926660125" x2="98.0" y2="46.01617926660125" stroke="#444" stroke-width="0.55" />
<line x1="97.1" y1="45.27191036669937" x2="98.0" y2="45.27191036669937" stroke="#444" stroke-width="0.55" />
<line x1="97.1" y1="44.66379839705361" x2="98.0" y2="44.66379839705361" stroke="#444" stroke-width="0.55" />
<line x1="97.1" y1="44.14964705269051" x2="98.0" y2="44.14964705269051" stroke="#444" stroke-width="0.55" />
<line x1="97.1" y1="43.70426889990188" x2="98.0" y2="43.70426889990188" stroke="#444" stroke-width="0.55" />
<line x1="97.1" y1="43.31141752750599" x2="98.0" y2="43.31141752750599" stroke="#444" stroke-width="0.55" />
<line x1="96.5" y1="42.96" x2="98.0" y2="42.96" stroke="#444" stroke-width="0.55" />
<line x1="97.1" y1="40.64808963330063" x2="98.0" y2="40.64808963330063" stroke="#444" stroke-width="0.55" />
<line x1="97.1" y1="39.29570876375299" x2="98.0" y2="39.29570876375299" stroke="#444" stroke-width="0.55" />
<line x1="97.1" y1="38.33617926660125" x2="98.0" y2="38.33617926660125" stroke="#444" stroke-width="0.55" />
<line x1="97.1" y1="37.59191036669938" x2="98.0" y2="37.59191036669938" stroke="#444" stroke-width="0.55" />
<line x1="97.1" y1="36.98379839705362" x2="98.0" y2="36.98379839705362" stroke="#444" stroke-width="0.55" />
<line x1="97.1" y1="36.469647052690505" x2="98.0" y2="36.469647052690505" stroke="#444" stroke-width="0.55" />
<line x1="97.1" y1="36.02426889990187" x2="98.0" y2="36.02426889990187" stroke="#444" stroke-width="0.55" />
<line x1="97.1" y1="35.63141752750599" x2="98.0" y2="35.63141752750599" stroke="#444" stroke-width="0.55" />
<line x1="96.5" y1="35.28" x2="98.0" y2="35.28" stroke="#444" stroke-width="0.55" />
<line x1="97.1" y1="32.96808963330062" x2="98.0" y2="32.96808963330062" stroke="#444" stroke-width="0.55" />
<line x1="97.1" y1="31.61570876375299" x2="98.0" y2="31.61570876375299" stroke="#444" stroke-width="0.55" />
<line x1="97.1" y1="30.65617926660125" x2="98.0" y2="30.65617926660125" stroke="#444" stroke-width="0.55" />
<line x1="97.1" y1="29.91191036669938" x2="98.0" y2="29.91191036669938" stroke="#444" stroke-width="0.55" />
<line x1="97.1" y1="29.30379839705362" x2="98.0" y2="29.30379839705362" stroke="#444" stroke-width="0.55" />
<line x1="97.1" y1="28.789647052690505" x2="98.0" y2="28.789647052690505" stroke="#444" stroke-width="0.55" />
<line x1="97.1" y1="28.34426889990187" x2="98.0" y2="28.34426889990187" stroke="#444" stroke-width="0.55" />
<line x1="97.1" y1="27.95141752750598" x2="98.0" y2="27.95141752750598" stroke="#444" stroke-width="0.55" />
<line x1="98.0" y1="69.4" x2="148.7" y2="69.4" stroke="#6a6a6a" stroke-width="0.7" />
<line x1="104.2" y1="69.4" x2="104.2" y2="70.9" stroke="#444" stroke-width="0.55" />
<line x1="106.54803396617906" y1="69.4" x2="106.54803396617906" y2="70.30000000000001" stroke="#444" stroke-width="0.55" />
<line x1="107.92154578681337" y1="69.4" x2="107.92154578681337" y2="70.30000000000001" stroke="#444" stroke-width="0.55" />
<line x1="108.89606793235811" y1="69.4" x2="108.89606793235811" y2="70.30000000000001" stroke="#444" stroke-width="0.55" />
<line x1="109.65196603382095" y1="69.4" x2="109.65196603382095" y2="70.30000000000001" stroke="#444" stroke-width="0.55" />
<line x1="110.26957975299243" y1="69.4" x2="110.26957975299243" y2="70.30000000000001" stroke="#444" stroke-width="0.55" />
<line x1="110.7917647121112" y1="69.4" x2="110.7917647121112" y2="70.30000000000001" stroke="#444" stroke-width="0.55" />
<line x1="111.24410189853717" y1="69.4" x2="111.24410189853717" y2="70.30000000000001" stroke="#444" stroke-width="0.55" />
<line x1="111.64309157362673" y1="69.4" x2="111.64309157362673" y2="70.30000000000001" stroke="#444" stroke-width="0.55" />
<line x1="112.0" y1="69.4" x2="112.0" y2="70.9" stroke="#444" stroke-width="0.55" />
<line x1="114.34803396617906" y1="69.4" x2="114.34803396617906" y2="70.30000000000001" stroke="#444" stroke-width="0.55" />
<line x1="115.72154578681337" y1="69.4" x2="115.72154578681337" y2="70.30000000000001" stroke="#444" stroke-width="0.55" />
<line x1="116.6960679323581" y1="69.4" x2="116.6960679323581" y2="70.30000000000001" stroke="#444" stroke-width="0.55" />
<line x1="117.45196603382095" y1="69.4" x2="117.45196603382095" y2="70.30000000000001" stroke="#444" stroke-width="0.55" />
<line x1="118.06957975299242" y1="69.4" x2="118.06957975299242" y2="70.30000000000001" stroke="#444" stroke-width="0.55" />
<line x1="118.5917647121112" y1="69.4" x2="118.5917647121112" y2="70.30000000000001" stroke="#444" stroke-width="0.55" />
<line x1="119.04410189853716" y1="69.4" x2="119.04410189853716" y2="70.30000000000001" stroke="#444" stroke-width="0.55" />
<line x1="119.44309157362673" y1="69.4" x2="119.44309157362673" y2="70.30000000000001" stroke="#444" stroke-width="0.55" />
<line x1="119.8" y1="69.4" x2="119.8" y2="70.9" stroke="#444" stroke-width="0.55" />
<line x1="122.14803396617906" y1="69.4" x2="122.14803396617906" y2="70.30000000000001" stroke="#444" stroke-width="0.55" />
<line x1="123.52154578681336" y1="69.4" x2="123.52154578681336" y2="70.30000000000001" stroke="#444" stroke-width="0.55" />
<line x1="124.4960679323581" y1="69.4" x2="124.4960679323581" y2="70.30000000000001" stroke="#444" stroke-width="0.55" />
<line x1="125.25196603382095" y1="69.4" x2="125.25196603382095" y2="70.30000000000001" stroke="#444" stroke-width="0.55" />
<line x1="125.86957975299242" y1="69.4" x2="125.86957975299242" y2="70.30000000000001" stroke="#444" stroke-width="0.55" />
<line x1="126.39176471211121" y1="69.4" x2="126.39176471211121" y2="70.30000000000001" stroke="#444" stroke-width="0.55" />
<line x1="126.84410189853716" y1="69.4" x2="126.84410189853716" y2="70.30000000000001" stroke="#444" stroke-width="0.55" />
<line x1="127.24309157362674" y1="69.4" x2="127.24309157362674" y2="70.30000000000001" stroke="#444" stroke-width="0.55" />
<line x1="127.6" y1="69.4" x2="127.6" y2="70.9" stroke="#444" stroke-width="0.55" />
<line x1="129.94803396617905" y1="69.4" x2="129.94803396617905" y2="70.30000000000001" stroke="#444" stroke-width="0.55" />
<line x1="131.32154578681337" y1="69.4" x2="131.32154578681337" y2="70.30000000000001" stroke="#444" stroke-width="0.55" />
<line x1="132.2960679323581" y1="69.4" x2="132.2960679323581" y2="70.30000000000001" stroke="#444" stroke-width="0.55" />
<line x1="133.05196603382095" y1="69.4" x2="133.05196603382095" y2="70.30000000000001" stroke="#444" stroke-width="0.55" />
<line x1="133.66957975299243" y1="69.4" x2="133.66957975299243" y2="70.30000000000001" stroke="#444" stroke-width="0.55" />
<line x1="134.1917647121112" y1="69.4" x2="134.1917647121112" y2="70.30000000000001" stroke="#444" stroke-width="0.55" />
<line x1="134.64410189853717" y1="69.4" x2="134.64410189853717" y2="70.30000000000001" stroke="#444" stroke-width="0.55" />
<line x1="135.04309157362673" y1="69.4" x2="135.04309157362673" y2="70.30000000000001" stroke="#444" stroke-width="0.55" />
<line x1="135.4" y1="69.4" x2="135.4" y2="70.9" stroke="#444" stroke-width="0.55" />
<line x1="137.74803396617907" y1="69.4" x2="137.74803396617907" y2="70.30000000000001" stroke="#444" stroke-width="0.55" />
<line x1="139.12154578681339" y1="69.4" x2="139.12154578681339" y2="70.30000000000001" stroke="#444" stroke-width="0.55" />
<line x1="140.0960679323581" y1="69.4" x2="140.0960679323581" y2="70.30000000000001" stroke="#444" stroke-width="0.55" />
<line x1="140.85196603382096" y1="69.4" x2="140.85196603382096" y2="70.30000000000001" stroke="#444" stroke-width="0.55" />
<line x1="141.46957975299242" y1="69.4" x2="141.46957975299242" y2="70.30000000000001" stroke="#444" stroke-width="0.55" />
<line x1="141.9917647121112" y1="69.4" x2="141.9917647121112" y2="70.30000000000001" stroke="#444" stroke-width="0.55" />
<line x1="142.44410189853716" y1="69.4" x2="142.44410189853716" y2="70.30000000000001" stroke="#444" stroke-width="0.55" />
<line x1="142.84309157362674" y1="69.4" x2="142.84309157362674" y2="70.30000000000001" stroke="#444" stroke-width="0.55" />
<rect x="118.3" y="28.8" width="25.3" height="18.5" fill="none" stroke="#d9808f" stroke-width="0.6"/>
<rect x="118.3" y="47.3" width="25.3" height="18.1" fill="none" stroke="#90a8cc" stroke-width="0.6"/>
<defs><filter id="bl" x="-20%" y="-20%" width="140%" height="140%"><feGaussianBlur stdDeviation="0.45"/></filter></defs>
<path fill="#141414" filter="url(#bl)" d="M127.5,32.6 L126.3,33.3 L125.0,34.0 L124.3,34.7 L123.7,35.4 L123.3,36.1 L123.2,36.8 L123.2,37.5 L123.1,38.2 L123.1,38.9 L123.0,39.6 L123.0,40.3 L122.9,41.0 L123.0,41.7 L123.1,42.4 L123.2,43.1 L123.4,43.8 L123.5,44.5 L123.8,45.2 L124.1,45.9 L124.3,46.6 L124.6,47.3 L125.0,48.0 L125.3,48.7 L125.6,49.4 L126.0,50.1 L126.3,50.8 L126.6,51.5 L126.9,52.2 L127.2,52.9 L127.4,53.6 L127.7,54.3 L127.9,55.0 L128.2,55.7 L128.5,56.4 L128.7,57.1 L129.0,57.8 L129.3,58.5 L129.5,59.2 L129.7,59.9 L130.1,59.9 L130.4,59.2 L130.7,58.5 L131.1,57.8 L131.4,57.1 L131.7,56.4 L131.9,55.7 L132.1,55.0 L132.3,54.3 L132.5,53.6 L132.7,52.9 L132.9,52.2 L133.1,51.5 L133.3,50.8 L133.5,50.1 L133.7,49.4 L133.8,48.7 L134.0,48.0 L134.2,47.3 L134.5,46.6 L134.8,45.9 L135.2,45.2 L135.5,44.5 L135.7,43.8 L135.8,43.1 L136.0,42.4 L136.2,41.7 L136.3,41.0 L136.2,40.3 L136.2,39.6 L136.1,38.9 L136.1,38.2 L136.0,37.5 L136.0,36.8 L135.9,36.1 L135.7,35.4 L135.3,34.7 L135.0,34.0 L134.3,33.3 L133.5,32.6 Z"/>
<path fill="#1a1a1a" fill-opacity="0.8" d="M133.9,41.4h.6v.6h-.6zM134.8,33.8h.6v.6h-.6zM128.6,47.9h.6v.6h-.6zM130.5,47.0h.6v.6h-.6zM129.4,32.7h.6v.6h-.6zM130.6,34.4h.6v.6h-.6zM130.6,44.5h.6v.6h-.6zM127.3,38.4h.6v.6h-.6zM133.8,50.7h.6v.6h-.6zM127.5,43.7h.6v.6h-.6zM132.4,36.0h.6v.6h-.6zM126.7,35.2h.6v.6h-.6zM127.0,51.0h.6v.6h-.6zM133.5,33.5h.6v.6h-.6zM131.7,33.4h.6v.6h-.6zM136.3,44.6h.6v.6h-.6zM124.7,41.2h.6v.6h-.6zM126.7,40.7h.6v.6h-.6zM129.5,55.7h.6v.6h-.6zM127.0,49.1h.6v.6h-.6zM134.0,47.6h.6v.6h-.6zM123.8,40.4h.6v.6h-.6zM130.3,61.4h.6v.6h-.6zM131.7,54.6h.6v.6h-.6zM128.2,36.2h.6v.6h-.6zM130.0,51.9h.6v.6h-.6zM127.4,52.7h.6v.6h-.6zM126.3,49.7h.6v.6h-.6zM129.0,57.1h.6v.6h-.6zM128.4,60.3h.6v.6h-.6zM131.1,33.4h.6v.6h-.6zM124.6,52.9h.6v.6h-.6zM133.2,51.9h.6v.6h-.6zM130.4,36.7h.6v.6h-.6zM137.1,35.2h.6v.6h-.6zM132.6,35.5h.6v.6h-.6zM121.7,39.1h.6v.6h-.6zM135.3,34.0h.6v.6h-.6zM120.5,45.3h.6v.6h-.6zM128.9,57.9h.6v.6h-.6zM125.5,40.1h.6v.6h-.6zM130.8,58.5h.6v.6h-.6zM130.2,60.7h.6v.6h-.6zM132.2,38.7h.6v.6h-.6zM122.9,38.7h.6v.6h-.6zM130.2,39.6h.6v.6h-.6zM129.2,31.7h.6v.6h-.6zM131.3,48.8h.6v.6h-.6zM129.5,60.6h.6v.6h-.6zM126.0,50.4h.6v.6h-.6zM135.9,52.2h.6v.6h-.6zM131.2,58.2h.6v.6h-.6zM128.3,55.9h.6v.6h-.6zM132.7,34.7h.6v.6h-.6zM130.9,50.9h.6v.6h-.6zM130.3,37.9h.6v.6h-.6zM128.7,36.5h.6v.6h-.6zM131.4,31.6h.6v.6h-.6zM133.4,36.2h.6v.6h-.6zM132.2,32.4h.6v.6h-.6zM129.3,58.2h.6v.6h-.6zM127.7,39.3h.6v.6h-.6zM127.9,42.2h.6v.6h-.6zM130.8,57.4h.6v.6h-.6zM129.4,61.8h.6v.6h-.6zM131.0,34.2h.6v.6h-.6zM127.9,34.7h.6v.6h-.6zM131.4,56.8h.6v.6h-.6zM131.4,36.1h.6v.6h-.6zM134.1,48.1h.6v.6h-.6zM130.0,61.3h.6v.6h-.6zM129.6,57.8h.6v.6h-.6zM125.9,42.7h.6v.6h-.6zM130.4,36.7h.6v.6h-.6zM127.2,55.3h.6v.6h-.6zM131.2,41.6h.6v.6h-.6zM130.8,61.5h.6v.6h-.6zM131.6,56.1h.6v.6h-.6zM122.1,38.5h.6v.6h-.6zM128.8,47.3h.6v.6h-.6zM131.1,32.4h.6v.6h-.6zM129.1,40.1h.6v.6h-.6zM131.3,60.7h.6v.6h-.6zM142.0,45.2h.6v.6h-.6zM123.8,42.7h.6v.6h-.6zM130.1,38.3h.6v.6h-.6zM132.9,37.8h.6v.6h-.6zM134.9,50.6h.6v.6h-.6zM124.6,46.2h.6v.6h-.6zM130.3,51.5h.6v.6h-.6zM128.7,51.7h.6v.6h-.6zM130.4,59.3h.6v.6h-.6zM122.4,46.1h.6v.6h-.6zM130.7,37.0h.6v.6h-.6zM128.1,55.9h.6v.6h-.6zM129.3,61.1h.6v.6h-.6zM130.5,60.4h.6v.6h-.6zM130.6,53.6h.6v.6h-.6zM131.9,36.2h.6v.6h-.6zM130.2,59.1h.6v.6h-.6zM129.0,56.7h.6v.6h-.6zM129.6,61.4h.6v.6h-.6zM126.6,48.3h.6v.6h-.6zM130.4,47.6h.6v.6h-.6zM127.7,60.0h.6v.6h-.6zM133.7,38.0h.6v.6h-.6zM128.6,39.3h.6v.6h-.6zM132.2,49.4h.6v.6h-.6zM127.2,39.5h.6v.6h-.6zM130.3,59.3h.6v.6h-.6zM123.2,42.4h.6v.6h-.6zM130.4,59.1h.6v.6h-.6zM134.4,44.4h.6v.6h-.6zM127.2,47.8h.6v.6h-.6zM133.7,47.5h.6v.6h-.6zM130.2,37.2h.6v.6h-.6zM131.2,31.7h.6v.6h-.6zM126.9,46.0h.6v.6h-.6zM127.8,53.6h.6v.6h-.6zM128.2,47.4h.6v.6h-.6zM129.9,48.5h.6v.6h-.6zM127.8,48.6h.6v.6h-.6zM128.1,39.2h.6v.6h-.6zM132.3,54.7h.6v.6h-.6zM127.8,50.2h.6v.6h-.6zM123.1,47.0h.6v.6h-.6zM128.9,45.4h.6v.6h-.6zM130.6,58.2h.6v.6h-.6zM129.8,60.2h.6v.6h-.6zM131.3,60.3h.6v.6h-.6zM130.7,57.1h.6v.6h-.6zM131.3,45.0h.6v.6h-.6zM130.2,33.8h.6v.6h-.6zM131.1,52.0h.6v.6h-.6zM131.1,55.4h.6v.6h-.6zM129.0,53.4h.6v.6h-.6zM133.8,51.7h.6v.6h-.6zM131.1,61.0h.6v.6h-.6zM134.4,38.3h.6v.6h-.6zM128.2,46.4h.6v.6h-.6zM130.0,61.7h.6v.6h-.6zM127.1,44.7h.6v.6h-.6zM128.0,47.3h.6v.6h-.6zM132.5,41.3h.6v.6h-.6zM133.3,53.6h.6v.6h-.6zM130.2,45.0h.6v.6h-.6zM129.0,32.1h.6v.6h-.6zM134.3,47.2h.6v.6h-.6zM136.8,33.6h.6v.6h-.6zM129.1,34.8h.6v.6h-.6zM131.7,35.5h.6v.6h-.6zM137.0,44.4h.6v.6h-.6zM124.6,39.5h.6v.6h-.6zM135.2,36.1h.6v.6h-.6zM128.2,52.9h.6v.6h-.6zM136.0,34.3h.6v.6h-.6zM132.1,44.5h.6v.6h-.6zM135.3,33.8h.6v.6h-.6zM128.9,56.0h.6v.6h-.6zM130.9,34.1h.6v.6h-.6zM129.5,57.8h.6v.6h-.6zM126.4,45.4h.6v.6h-.6zM131.2,59.8h.6v.6h-.6zM133.9,39.7h.6v.6h-.6zM134.1,38.8h.6v.6h-.6zM130.6,34.9h.6v.6h-.6zM131.0,37.7h.6v.6h-.6zM126.7,41.1h.6v.6h-.6zM137.7,40.4h.6v.6h-.6zM131.1,46.8h.6v.6h-.6zM132.7,32.2h.6v.6h-.6zM137.8,39.2h.6v.6h-.6zM130.1,48.4h.6v.6h-.6zM130.9,56.5h.6v.6h-.6zM129.6,47.0h.6v.6h-.6zM132.5,52.5h.6v.6h-.6zM129.9,56.9h.6v.6h-.6zM128.1,53.1h.6v.6h-.6zM125.7,42.2h.6v.6h-.6zM131.2,33.3h.6v.6h-.6zM130.7,54.1h.6v.6h-.6zM130.7,39.4h.6v.6h-.6zM130.8,57.2h.6v.6h-.6zM129.4,58.1h.6v.6h-.6zM126.0,39.0h.6v.6h-.6zM126.7,40.5h.6v.6h-.6zM130.1,45.2h.6v.6h-.6zM126.4,39.0h.6v.6h-.6zM129.6,61.0h.6v.6h-.6zM132.5,31.6h.6v.6h-.6zM123.8,43.2h.6v.6h-.6zM130.5,37.7h.6v.6h-.6zM132.6,46.9h.6v.6h-.6zM130.0,34.3h.6v.6h-.6zM130.5,43.7h.6v.6h-.6zM129.9,40.8h.6v.6h-.6zM124.3,38.7h.6v.6h-.6zM128.4,54.4h.6v.6h-.6zM128.5,51.6h.6v.6h-.6zM130.4,61.5h.6v.6h-.6zM133.9,51.2h.6v.6h-.6zM133.9,32.9h.6v.6h-.6zM131.7,56.3h.6v.6h-.6zM133.2,46.9h.6v.6h-.6zM131.3,57.0h.6v.6h-.6zM123.4,49.4h.6v.6h-.6zM129.2,52.4h.6v.6h-.6zM128.6,32.5h.6v.6h-.6zM128.2,35.6h.6v.6h-.6zM130.8,57.0h.6v.6h-.6zM125.9,48.6h.6v.6h-.6zM127.0,52.3h.6v.6h-.6zM129.6,46.9h.6v.6h-.6zM128.7,47.9h.6v.6h-.6zM129.2,54.0h.6v.6h-.6zM133.2,39.3h.6v.6h-.6zM130.9,53.8h.6v.6h-.6zM128.7,37.8h.6v.6h-.6zM126.5,46.2h.6v.6h-.6zM124.5,50.4h.6v.6h-.6zM131.4,51.1h.6v.6h-.6zM130.9,39.3h.6v.6h-.6zM128.9,54.2h.6v.6h-.6zM133.5,32.0h.6v.6h-.6zM129.6,33.4h.6v.6h-.6zM134.2,52.6h.6v.6h-.6zM129.0,52.1h.6v.6h-.6zM134.6,45.7h.6v.6h-.6zM136.3,45.8h.6v.6h-.6zM136.8,37.7h.6v.6h-.6zM130.0,61.3h.6v.6h-.6zM129.1,45.6h.6v.6h-.6zM132.3,56.5h.6v.6h-.6zM128.5,39.8h.6v.6h-.6zM132.9,38.0h.6v.6h-.6zM128.8,49.3h.6v.6h-.6zM129.3,56.5h.6v.6h-.6zM134.2,47.1h.6v.6h-.6zM124.5,38.6h.6v.6h-.6zM129.6,58.9h.6v.6h-.6zM130.9,31.7h.6v.6h-.6zM126.0,46.5h.6v.6h-.6zM130.9,35.9h.6v.6h-.6zM125.7,42.1h.6v.6h-.6zM134.1,31.7h.6v.6h-.6zM133.3,57.1h.6v.6h-.6zM134.2,53.3h.6v.6h-.6zM129.6,59.0h.6v.6h-.6zM134.1,43.5h.6v.6h-.6zM129.6,62.0h.6v.6h-.6zM127.1,44.6h.6v.6h-.6zM131.9,40.0h.6v.6h-.6zM130.4,57.0h.6v.6h-.6zM133.2,40.3h.6v.6h-.6zM128.1,39.7h.6v.6h-.6zM130.9,47.1h.6v.6h-.6zM130.7,60.7h.6v.6h-.6zM130.8,58.5h.6v.6h-.6zM128.2,59.4h.6v.6h-.6zM128.2,60.2h.6v.6h-.6zM128.7,33.1h.6v.6h-.6zM125.8,53.9h.6v.6h-.6zM131.4,51.2h.6v.6h-.6zM132.5,46.0h.6v.6h-.6zM127.1,42.0h.6v.6h-.6zM130.9,61.3h.6v.6h-.6zM127.2,39.5h.6v.6h-.6zM126.9,48.5h.6v.6h-.6zM131.0,43.6h.6v.6h-.6zM132.2,37.9h.6v.6h-.6zM129.0,59.1h.6v.6h-.6zM130.0,59.2h.6v.6h-.6zM129.7,61.9h.6v.6h-.6zM130.4,37.4h.6v.6h-.6zM128.9,34.4h.6v.6h-.6zM131.5,38.9h.6v.6h-.6zM125.3,44.1h.6v.6h-.6zM124.9,44.2h.6v.6h-.6zM128.8,41.9h.6v.6h-.6zM128.5,33.5h.6v.6h-.6zM131.3,50.7h.6v.6h-.6zM126.9,39.8h.6v.6h-.6zM125.2,39.2h.6v.6h-.6zM130.5,60.6h.6v.6h-.6zM130.3,57.4h.6v.6h-.6zM130.1,32.6h.6v.6h-.6zM132.4,53.2h.6v.6h-.6zM127.2,49.5h.6v.6h-.6zM127.7,31.6h.6v.6h-.6zM132.7,57.6h.6v.6h-.6zM129.9,61.2h.6v.6h-.6zM132.0,36.3h.6v.6h-.6zM125.5,47.5h.6v.6h-.6zM127.1,54.8h.6v.6h-.6zM131.5,32.8h.6v.6h-.6zM130.6,55.4h.6v.6h-.6zM129.6,35.5h.6v.6h-.6zM133.9,52.8h.6v.6h-.6zM134.8,35.0h.6v.6h-.6zM131.5,49.3h.6v.6h-.6zM130.6,43.4h.6v.6h-.6zM133.7,31.9h.6v.6h-.6zM131.0,58.5h.6v.6h-.6zM129.7,46.0h.6v.6h-.6zM130.5,60.8h.6v.6h-.6zM129.7,53.0h.6v.6h-.6zM130.2,46.7h.6v.6h-.6zM127.9,52.1h.6v.6h-.6zM131.0,51.9h.6v.6h-.6zM130.0,59.7h.6v.6h-.6zM130.9,41.9h.6v.6h-.6zM128.2,44.4h.6v.6h-.6zM128.7,55.8h.6v.6h-.6zM128.2,54.1h.6v.6h-.6zM129.9,61.1h.6v.6h-.6zM131.2,41.1h.6v.6h-.6zM126.3,38.3h.6v.6h-.6zM128.3,54.7h.6v.6h-.6zM123.1,38.4h.6v.6h-.6zM130.6,60.4h.6v.6h-.6zM126.9,36.1h.6v.6h-.6zM130.2,61.2h.6v.6h-.6zM131.2,35.9h.6v.6h-.6zM130.1,43.6h.6v.6h-.6zM131.7,58.9h.6v.6h-.6zM129.5,61.9h.6v.6h-.6zM129.5,59.9h.6v.6h-.6zM130.6,60.1h.6v.6h-.6zM133.7,54.3h.6v.6h-.6zM131.0,43.1h.6v.6h-.6zM128.1,43.0h.6v.6h-.6zM131.8,31.7h.6v.6h-.6zM122.0,40.1h.6v.6h-.6zM139.2,35.4h.6v.6h-.6zM123.8,37.9h.6v.6h-.6zM133.1,56.6h.6v.6h-.6zM134.5,44.7h.6v.6h-.6zM131.3,42.9h.6v.6h-.6zM130.4,59.6h.6v.6h-.6zM131.3,58.9h.6v.6h-.6zM126.1,32.5h.6v.6h-.6zM132.4,54.9h.6v.6h-.6zM131.5,32.8h.6v.6h-.6zM130.0,59.6h.6v.6h-.6zM129.4,39.4h.6v.6h-.6zM129.4,60.7h.6v.6h-.6zM128.5,53.4h.6v.6h-.6zM129.5,41.2h.6v.6h-.6zM130.2,54.6h.6v.6h-.6zM127.8,59.5h.6v.6h-.6zM126.2,39.2h.6v.6h-.6zM130.3,56.0h.6v.6h-.6zM131.9,54.1h.6v.6h-.6zM124.5,50.1h.6v.6h-.6zM127.5,41.6h.6v.6h-.6zM132.0,55.4h.6v.6h-.6zM132.3,34.0h.6v.6h-.6zM137.6,39.1h.6v.6h-.6zM134.8,33.6h.6v.6h-.6zM131.0,41.5h.6v.6h-.6zM128.3,46.8h.6v.6h-.6zM124.3,38.7h.6v.6h-.6zM124.3,44.3h.6v.6h-.6zM127.4,54.3h.6v.6h-.6zM129.6,57.3h.6v.6h-.6zM129.2,57.2h.6v.6h-.6zM125.1,40.5h.6v.6h-.6zM129.0,54.0h.6v.6h-.6zM129.7,37.7h.6v.6h-.6zM133.3,36.3h.6v.6h-.6zM128.8,58.5h.6v.6h-.6zM127.5,43.6h.6v.6h-.6zM129.6,61.8h.6v.6h-.6zM130.0,56.2h.6v.6h-.6zM131.3,51.5h.6v.6h-.6zM129.3,46.0h.6v.6h-.6zM132.6,56.5h.6v.6h-.6zM134.4,35.2h.6v.6h-.6zM138.5,49.3h.6v.6h-.6zM133.2,42.9h.6v.6h-.6zM125.5,39.5h.6v.6h-.6zM131.1,55.2h.6v.6h-.6zM129.1,49.7h.6v.6h-.6zM130.4,50.4h.6v.6h-.6zM134.2,35.9h.6v.6h-.6zM129.4,37.8h.6v.6h-.6zM134.1,51.4h.6v.6h-.6zM134.0,37.8h.6v.6h-.6zM130.1,52.2h.6v.6h-.6zM128.3,37.2h.6v.6h-.6zM131.5,55.8h.6v.6h-.6zM131.1,48.3h.6v.6h-.6zM130.4,43.6h.6v.6h-.6zM128.5,48.3h.6v.6h-.6zM127.9,36.6h.6v.6h-.6zM128.0,52.7h.6v.6h-.6zM131.9,41.0h.6v.6h-.6zM129.4,60.6h.6v.6h-.6zM135.5,42.5h.6v.6h-.6zM130.3,56.5h.6v.6h-.6zM133.5,43.9h.6v.6h-.6zM125.9,36.5h.6v.6h-.6zM127.5,32.1h.6v.6h-.6zM129.3,59.3h.6v.6h-.6zM127.0,34.3h.6v.6h-.6zM126.7,46.9h.6v.6h-.6zM128.4,36.0h.6v.6h-.6zM131.4,59.7h.6v.6h-.6zM121.6,34.9h.6v.6h-.6zM130.1,37.6h.6v.6h-.6zM127.0,33.2h.6v.6h-.6zM127.9,59.8h.6v.6h-.6zM134.4,50.5h.6v.6h-.6zM132.0,56.7h.6v.6h-.6zM137.1,38.4h.6v.6h-.6zM134.7,43.9h.6v.6h-.6zM121.9,37.2h.6v.6h-.6zM124.7,38.2h.6v.6h-.6zM133.0,43.3h.6v.6h-.6zM129.8,35.3h.6v.6h-.6zM132.3,58.9h.6v.6h-.6zM125.5,32.8h.6v.6h-.6zM128.5,32.8h.6v.6h-.6zM132.0,57.1h.6v.6h-.6zM133.0,48.3h.6v.6h-.6zM128.6,50.7h.6v.6h-.6zM133.1,49.3h.6v.6h-.6zM126.7,44.5h.6v.6h-.6zM125.3,44.9h.6v.6h-.6zM128.4,32.3h.6v.6h-.6zM125.6,38.8h.6v.6h-.6zM130.5,54.8h.6v.6h-.6zM124.2,37.1h.6v.6h-.6zM131.2,46.0h.6v.6h-.6zM131.0,44.7h.6v.6h-.6zM125.1,34.4h.6v.6h-.6zM131.8,32.8h.6v.6h-.6zM134.3,50.9h.6v.6h-.6zM131.9,55.2h.6v.6h-.6zM133.9,47.1h.6v.6h-.6zM131.5,43.1h.6v.6h-.6zM131.1,60.5h.6v.6h-.6zM130.5,61.9h.6v.6h-.6zM130.7,53.9h.6v.6h-.6zM129.6,61.4h.6v.6h-.6zM128.7,55.6h.6v.6h-.6zM130.9,59.9h.6v.6h-.6zM130.9,54.6h.6v.6h-.6zM132.8,36.4h.6v.6h-.6zM129.1,56.4h.6v.6h-.6zM129.4,39.6h.6v.6h-.6zM128.9,47.0h.6v.6h-.6zM130.8,37.1h.6v.6h-.6zM136.5,36.5h.6v.6h-.6zM129.1,58.8h.6v.6h-.6zM130.1,36.7h.6v.6h-.6zM127.6,47.7h.6v.6h-.6zM125.7,50.9h.6v.6h-.6zM135.4,48.5h.6v.6h-.6zM130.9,49.2h.6v.6h-.6zM129.8,61.8h.6v.6h-.6zM125.2,50.7h.6v.6h-.6zM135.2,39.6h.6v.6h-.6zM129.5,61.7h.6v.6h-.6zM129.0,54.8h.6v.6h-.6zM132.8,45.0h.6v.6h-.6zM135.3,33.1h.6v.6h-.6zM130.0,56.5h.6v.6h-.6zM130.7,61.5h.6v.6h-.6zM128.1,49.4h.6v.6h-.6zM129.5,31.7h.6v.6h-.6zM132.9,32.6h.6v.6h-.6zM134.7,44.7h.6v.6h-.6zM131.1,47.2h.6v.6h-.6zM128.0,38.5h.6v.6h-.6zM130.1,51.5h.6v.6h-.6zM129.6,42.4h.6v.6h-.6zM127.8,34.8h.6v.6h-.6zM131.6,49.3h.6v.6h-.6zM131.1,49.5h.6v.6h-.6zM135.3,46.0h.6v.6h-.6zM133.0,35.7h.6v.6h-.6zM128.2,36.1h.6v.6h-.6zM124.2,34.5h.6v.6h-.6zM126.5,55.4h.6v.6h-.6zM129.5,43.8h.6v.6h-.6zM130.3,51.2h.6v.6h-.6zM126.4,48.7h.6v.6h-.6zM134.8,45.1h.6v.6h-.6zM129.8,60.1h.6v.6h-.6zM128.9,59.1h.6v.6h-.6zM127.2,32.9h.6v.6h-.6zM128.6,38.8h.6v.6h-.6zM130.3,33.4h.6v.6h-.6zM129.0,48.3h.6v.6h-.6zM130.4,60.2h.6v.6h-.6zM131.5,50.1h.6v.6h-.6zM124.7,47.0h.6v.6h-.6zM122.5,36.9h.6v.6h-.6zM129.1,41.0h.6v.6h-.6zM130.5,58.6h.6v.6h-.6zM130.0,55.4h.6v.6h-.6zM129.9,57.3h.6v.6h-.6zM125.9,54.3h.6v.6h-.6zM131.1,45.4h.6v.6h-.6zM132.5,38.5h.6v.6h-.6zM131.8,32.8h.6v.6h-.6zM129.6,41.8h.6v.6h-.6zM127.1,57.3h.6v.6h-.6zM129.6,53.2h.6v.6h-.6zM135.4,44.9h.6v.6h-.6zM128.3,55.6h.6v.6h-.6zM129.5,51.1h.6v.6h-.6zM130.2,60.9h.6v.6h-.6zM129.1,38.8h.6v.6h-.6zM129.4,58.4h.6v.6h-.6zM130.9,59.2h.6v.6h-.6zM128.1,50.8h.6v.6h-.6zM129.1,61.4h.6v.6h-.6zM133.1,45.9h.6v.6h-.6zM127.7,57.7h.6v.6h-.6zM128.5,44.9h.6v.6h-.6zM123.0,41.0h.6v.6h-.6zM128.2,38.0h.6v.6h-.6zM129.6,59.3h.6v.6h-.6zM131.9,36.0h.6v.6h-.6zM130.0,59.8h.6v.6h-.6zM130.3,42.1h.6v.6h-.6zM131.0,32.9h.6v.6h-.6zM127.0,52.7h.6v.6h-.6zM127.0,54.0h.6v.6h-.6zM127.1,33.6h.6v.6h-.6zM129.0,56.5h.6v.6h-.6zM130.7,56.5h.6v.6h-.6zM129.6,58.0h.6v.6h-.6zM130.5,59.4h.6v.6h-.6zM128.8,37.9h.6v.6h-.6zM138.4,35.0h.6v.6h-.6zM131.1,50.9h.6v.6h-.6zM128.9,56.7h.6v.6h-.6zM127.2,34.6h.6v.6h-.6zM130.0,34.6h.6v.6h-.6zM126.1,41.3h.6v.6h-.6zM133.1,44.5h.6v.6h-.6zM130.1,40.2h.6v.6h-.6zM128.3,53.4h.6v.6h-.6zM130.4,60.9h.6v.6h-.6zM132.8,46.9h.6v.6h-.6zM127.3,32.5h.6v.6h-.6zM121.9,44.2h.6v.6h-.6zM133.0,42.1h.6v.6h-.6zM128.1,53.0h.6v.6h-.6zM129.7,57.8h.6v.6h-.6zM131.0,34.4h.6v.6h-.6zM129.8,31.6h.6v.6h-.6zM130.7,37.7h.6v.6h-.6zM130.2,46.5h.6v.6h-.6zM126.9,46.6h.6v.6h-.6zM131.5,42.2h.6v.6h-.6zM129.2,60.3h.6v.6h-.6zM131.3,40.2h.6v.6h-.6zM135.7,46.7h.6v.6h-.6zM128.6,34.9h.6v.6h-.6zM129.3,55.6h.6v.6h-.6zM130.9,52.8h.6v.6h-.6zM122.7,42.4h.6v.6h-.6zM121.5,43.8h.6v.6h-.6zM135.4,34.2h.6v.6h-.6zM131.0,58.6h.6v.6h-.6zM130.1,39.6h.6v.6h-.6zM128.6,59.0h.6v.6h-.6zM130.0,58.5h.6v.6h-.6zM123.6,38.7h.6v.6h-.6zM130.8,54.5h.6v.6h-.6zM128.6,54.5h.6v.6h-.6zM125.8,41.5h.6v.6h-.6zM133.6,36.3h.6v.6h-.6zM126.9,54.2h.6v.6h-.6zM121.7,36.8h.6v.6h-.6zM131.9,49.2h.6v.6h-.6zM132.1,37.4h.6v.6h-.6zM126.7,40.8h.6v.6h-.6zM126.8,39.1h.6v.6h-.6zM134.9,36.5h.6v.6h-.6zM134.8,41.6h.6v.6h-.6zM130.5,60.9h.6v.6h-.6zM130.2,61.5h.6v.6h-.6zM129.8,55.8h.6v.6h-.6zM124.3,37.6h.6v.6h-.6zM131.5,51.0h.6v.6h-.6zM131.6,43.4h.6v.6h-.6zM126.3,32.6h.6v.6h-.6zM132.9,52.7h.6v.6h-.6zM126.3,46.8h.6v.6h-.6zM125.5,35.9h.6v.6h-.6zM125.0,50.0h.6v.6h-.6zM131.2,59.2h.6v.6h-.6zM122.5,44.7h.6v.6h-.6zM126.0,44.4h.6v.6h-.6zM127.8,38.5h.6v.6h-.6zM128.9,57.5h.6v.6h-.6zM123.6,45.4h.6v.6h-.6zM128.0,41.1h.6v.6h-.6zM127.9,44.4h.6v.6h-.6zM129.3,55.4h.6v.6h-.6zM122.6,39.2h.6v.6h-.6zM123.1,44.5h.6v.6h-.6zM131.4,44.0h.6v.6h-.6zM131.6,52.1h.6v.6h-.6zM129.0,51.5h.6v.6h-.6zM128.0,55.3h.6v.6h-.6zM130.4,61.2h.6v.6h-.6zM128.7,32.8h.6v.6h-.6zM129.7,55.4h.6v.6h-.6zM129.4,60.2h.6v.6h-.6zM129.4,49.1h.6v.6h-.6zM128.6,48.0h.6v.6h-.6zM126.1,51.0h.6v.6h-.6zM128.0,56.8h.6v.6h-.6zM129.8,60.4h.6v.6h-.6zM127.6,38.0h.6v.6h-.6zM127.8,54.8h.6v.6h-.6zM134.1,35.3h.6v.6h-.6zM129.9,33.3h.6v.6h-.6zM128.9,39.9h.6v.6h-.6zM130.0,44.3h.6v.6h-.6zM128.1,44.4h.6v.6h-.6zM125.1,39.7h.6v.6h-.6zM129.0,38.4h.6v.6h-.6zM128.9,56.0h.6v.6h-.6zM131.7,35.5h.6v.6h-.6zM131.3,55.2h.6v.6h-.6zM123.7,45.9h.6v.6h-.6zM131.0,48.7h.6v.6h-.6zM131.0,56.5h.6v.6h-.6zM124.3,40.5h.6v.6h-.6zM134.6,48.3h.6v.6h-.6zM136.3,42.4h.6v.6h-.6zM129.9,57.5h.6v.6h-.6zM134.5,39.3h.6v.6h-.6zM129.6,44.6h.6v.6h-.6zM130.1,53.5h.6v.6h-.6zM129.7,40.1h.6v.6h-.6zM133.1,46.2h.6v.6h-.6zM125.0,44.6h.6v.6h-.6zM124.0,42.6h.6v.6h-.6zM130.2,59.8h.6v.6h-.6zM129.5,56.8h.6v.6h-.6zM130.1,59.1h.6v.6h-.6zM129.0,56.9h.6v.6h-.6zM130.3,50.8h.6v.6h-.6zM129.9,60.5h.6v.6h-.6zM129.9,51.5h.6v.6h-.6zM131.9,35.9h.6v.6h-.6zM130.4,38.7h.6v.6h-.6zM125.1,36.2h.6v.6h-.6zM130.2,59.1h.6v.6h-.6zM129.1,58.7h.6v.6h-.6zM130.7,50.1h.6v.6h-.6zM127.8,58.8h.6v.6h-.6zM130.9,55.6h.6v.6h-.6zM128.3,52.7h.6v.6h-.6zM129.3,47.7h.6v.6h-.6zM128.3,58.4h.6v.6h-.6zM129.3,48.5h.6v.6h-.6zM133.2,35.8h.6v.6h-.6zM133.8,46.6h.6v.6h-.6zM131.6,36.0h.6v.6h-.6zM124.2,46.5h.6v.6h-.6zM130.1,57.8h.6v.6h-.6zM132.0,31.8h.6v.6h-.6zM126.1,48.7h.6v.6h-.6zM131.5,51.8h.6v.6h-.6zM125.6,44.3h.6v.6h-.6zM131.0,60.8h.6v.6h-.6zM131.9,50.9h.6v.6h-.6zM127.3,32.5h.6v.6h-.6zM128.8,59.9h.6v.6h-.6zM135.7,41.6h.6v.6h-.6zM128.8,46.3h.6v.6h-.6zM132.3,58.9h.6v.6h-.6zM130.9,50.6h.6v.6h-.6zM132.7,41.9h.6v.6h-.6zM126.3,46.0h.6v.6h-.6zM129.8,47.6h.6v.6h-.6zM126.3,44.8h.6v.6h-.6zM128.8,56.8h.6v.6h-.6zM125.7,43.9h.6v.6h-.6zM129.3,47.0h.6v.6h-.6zM129.2,61.2h.6v.6h-.6zM122.1,41.7h.6v.6h-.6zM127.5,41.2h.6v.6h-.6zM133.9,50.9h.6v.6h-.6zM133.6,55.4h.6v.6h-.6zM130.6,58.5h.6v.6h-.6zM132.6,48.2h.6v.6h-.6zM131.3,31.8h.6v.6h-.6zM135.6,37.4h.6v.6h-.6zM127.9,51.6h.6v.6h-.6zM132.7,55.6h.6v.6h-.6zM127.3,50.3h.6v.6h-.6zM128.3,50.7h.6v.6h-.6zM126.2,52.3h.6v.6h-.6zM126.8,38.1h.6v.6h-.6zM127.7,54.8h.6v.6h-.6zM130.4,34.7h.6v.6h-.6zM130.6,55.1h.6v.6h-.6zM129.2,59.4h.6v.6h-.6zM128.4,56.6h.6v.6h-.6zM128.4,55.5h.6v.6h-.6zM128.1,40.8h.6v.6h-.6zM127.4,44.4h.6v.6h-.6zM132.9,51.1h.6v.6h-.6zM131.3,60.0h.6v.6h-.6zM131.8,32.8h.6v.6h-.6zM132.0,35.2h.6v.6h-.6zM128.4,59.5h.6v.6h-.6zM134.0,45.2h.6v.6h-.6zM130.0,49.6h.6v.6h-.6zM131.2,60.1h.6v.6h-.6zM128.9,44.1h.6v.6h-.6zM128.0,34.7h.6v.6h-.6zM126.9,36.2h.6v.6h-.6zM134.3,32.1h.6v.6h-.6zM129.9,35.3h.6v.6h-.6zM133.3,32.1h.6v.6h-.6zM130.2,53.5h.6v.6h-.6zM137.7,37.3h.6v.6h-.6zM131.1,33.1h.6v.6h-.6zM127.2,57.6h.6v.6h-.6zM133.2,53.8h.6v.6h-.6zM131.9,53.2h.6v.6h-.6zM132.6,45.6h.6v.6h-.6zM129.7,60.9h.6v.6h-.6zM130.4,53.4h.6v.6h-.6zM129.9,51.4h.6v.6h-.6zM131.7,56.4h.6v.6h-.6zM131.1,53.8h.6v.6h-.6zM133.3,36.6h.6v.6h-.6zM127.0,33.4h.6v.6h-.6zM124.8,42.8h.6v.6h-.6zM128.5,52.2h.6v.6h-.6zM131.0,36.0h.6v.6h-.6zM127.0,51.2h.6v.6h-.6zM127.0,50.7h.6v.6h-.6zM131.2,55.5h.6v.6h-.6zM130.2,60.3h.6v.6h-.6zM123.1,40.5h.6v.6h-.6zM135.8,33.4h.6v.6h-.6zM129.6,56.8h.6v.6h-.6zM118.5,41.7h.6v.6h-.6zM133.0,44.6h.6v.6h-.6zM128.1,52.4h.6v.6h-.6zM134.7,49.9h.6v.6h-.6zM124.0,40.2h.6v.6h-.6zM130.7,31.7h.6v.6h-.6zM133.3,49.4h.6v.6h-.6zM130.6,56.4h.6v.6h-.6zM129.7,56.9h.6v.6h-.6zM132.0,56.3h.6v.6h-.6zM124.7,39.9h.6v.6h-.6zM131.0,57.5h.6v.6h-.6zM128.0,59.4h.6v.6h-.6zM135.1,42.1h.6v.6h-.6zM131.5,55.8h.6v.6h-.6zM129.6,37.7h.6v.6h-.6zM128.0,52.2h.6v.6h-.6zM130.3,39.3h.6v.6h-.6zM130.7,54.4h.6v.6h-.6zM125.4,34.3h.6v.6h-.6zM130.3,56.1h.6v.6h-.6zM127.0,49.2h.6v.6h-.6zM131.3,58.9h.6v.6h-.6zM126.0,46.1h.6v.6h-.6zM130.5,49.5h.6v.6h-.6zM132.6,37.1h.6v.6h-.6zM127.6,52.9h.6v.6h-.6zM134.2,43.8h.6v.6h-.6zM130.2,47.3h.6v.6h-.6zM130.0,61.9h.6v.6h-.6zM135.0,43.0h.6v.6h-.6zM132.1,55.5h.6v.6h-.6zM125.9,36.3h.6v.6h-.6zM127.3,47.4h.6v.6h-.6zM138.3,32.2h.6v.6h-.6zM132.1,46.4h.6v.6h-.6zM129.1,48.8h.6v.6h-.6zM137.7,44.5h.6v.6h-.6zM132.6,54.9h.6v.6h-.6zM130.5,37.7h.6v.6h-.6zM131.6,33.2h.6v.6h-.6zM132.4,48.5h.6v.6h-.6zM129.1,60.4h.6v.6h-.6zM131.7,59.3h.6v.6h-.6zM132.1,43.7h.6v.6h-.6zM133.2,35.2h.6v.6h-.6zM128.9,48.8h.6v.6h-.6zM134.4,51.1h.6v.6h-.6zM127.6,43.6h.6v.6h-.6zM135.8,45.2h.6v.6h-.6zM130.4,32.8h.6v.6h-.6zM131.3,59.0h.6v.6h-.6zM130.2,59.1h.6v.6h-.6zM129.4,55.5h.6v.6h-.6zM118.2,36.0h.6v.6h-.6zM129.5,60.2h.6v.6h-.6zM127.0,49.6h.6v.6h-.6zM131.7,54.6h.6v.6h-.6zM132.4,39.4h.6v.6h-.6zM126.8,35.4h.6v.6h-.6zM130.0,38.8h.6v.6h-.6zM129.3,36.0h.6v.6h-.6zM129.6,53.4h.6v.6h-.6zM130.5,60.0h.6v.6h-.6zM130.8,57.9h.6v.6h-.6zM127.9,45.2h.6v.6h-.6zM125.7,45.4h.6v.6h-.6zM132.1,41.9h.6v.6h-.6zM126.4,50.7h.6v.6h-.6zM129.9,35.9h.6v.6h-.6zM130.9,53.3h.6v.6h-.6zM134.2,48.4h.6v.6h-.6zM137.7,39.7h.6v.6h-.6zM131.6,44.1h.6v.6h-.6zM131.4,57.1h.6v.6h-.6zM132.5,41.8h.6v.6h-.6zM134.8,41.3h.6v.6h-.6zM125.5,38.0h.6v.6h-.6zM130.2,39.4h.6v.6h-.6zM119.5,37.7h.6v.6h-.6zM131.0,40.4h.6v.6h-.6zM129.4,53.7h.6v.6h-.6zM130.5,40.5h.6v.6h-.6zM130.0,56.1h.6v.6h-.6zM129.8,42.0h.6v.6h-.6zM130.2,56.9h.6v.6h-.6zM131.1,47.6h.6v.6h-.6zM131.3,59.3h.6v.6h-.6zM127.1,38.2h.6v.6h-.6zM128.4,37.1h.6v.6h-.6zM129.6,55.0h.6v.6h-.6zM127.3,34.0h.6v.6h-.6zM126.1,34.3h.6v.6h-.6zM125.8,39.9h.6v.6h-.6zM123.6,37.9h.6v.6h-.6zM127.9,56.3h.6v.6h-.6zM130.0,49.3h.6v.6h-.6zM130.9,53.9h.6v.6h-.6zM129.2,44.0h.6v.6h-.6zM129.4,56.2h.6v.6h-.6zM135.1,41.8h.6v.6h-.6zM131.1,37.3h.6v.6h-.6zM129.3,56.9h.6v.6h-.6zM131.7,42.9h.6v.6h-.6zM133.9,49.7h.6v.6h-.6zM129.6,45.2h.6v.6h-.6zM134.0,47.3h.6v.6h-.6zM132.4,56.4h.6v.6h-.6zM128.9,57.9h.6v.6h-.6zM136.5,43.2h.6v.6h-.6zM134.7,54.4h.6v.6h-.6zM132.6,46.6h.6v.6h-.6zM124.5,47.2h.6v.6h-.6zM130.1,32.2h.6v.6h-.6zM130.0,61.0h.6v.6h-.6zM132.6,34.7h.6v.6h-.6zM130.1,39.2h.6v.6h-.6zM128.9,34.5h.6v.6h-.6zM130.1,52.8h.6v.6h-.6zM130.3,49.8h.6v.6h-.6zM124.1,49.1h.6v.6h-.6zM128.8,34.7h.6v.6h-.6zM129.9,58.0h.6v.6h-.6zM128.3,35.3h.6v.6h-.6zM126.0,46.6h.6v.6h-.6zM129.7,35.3h.6v.6h-.6zM133.7,43.9h.6v.6h-.6zM131.8,57.8h.6v.6h-.6zM122.3,36.1h.6v.6h-.6zM126.0,36.6h.6v.6h-.6zM132.0,56.7h.6v.6h-.6zM127.7,44.4h.6v.6h-.6zM128.1,57.1h.6v.6h-.6zM129.7,60.2h.6v.6h-.6zM129.1,55.2h.6v.6h-.6zM132.8,41.8h.6v.6h-.6zM137.8,44.8h.6v.6h-.6zM129.6,56.4h.6v.6h-.6zM132.2,57.4h.6v.6h-.6zM130.2,60.7h.6v.6h-.6zM129.9,60.0h.6v.6h-.6zM133.2,50.8h.6v.6h-.6zM127.7,42.7h.6v.6h-.6zM129.1,44.8h.6v.6h-.6zM131.6,46.9h.6v.6h-.6zM130.0,61.1h.6v.6h-.6zM133.1,55.2h.6v.6h-.6zM128.9,56.2h.6v.6h-.6zM130.3,58.5h.6v.6h-.6zM129.3,51.1h.6v.6h-.6zM127.8,39.7h.6v.6h-.6zM126.7,48.1h.6v.6h-.6zM129.2,59.7h.6v.6h-.6zM127.4,47.4h.6v.6h-.6zM133.1,44.8h.6v.6h-.6zM128.3,40.9h.6v.6h-.6zM132.9,51.3h.6v.6h-.6zM130.7,60.7h.6v.6h-.6zM128.9,47.2h.6v.6h-.6zM133.8,47.8h.6v.6h-.6zM131.5,36.1h.6v.6h-.6zM131.5,40.5h.6v.6h-.6zM128.7,44.0h.6v.6h-.6zM133.0,34.3h.6v.6h-.6zM132.3,48.2h.6v.6h-.6zM125.4,48.9h.6v.6h-.6zM131.3,51.4h.6v.6h-.6zM136.1,45.6h.6v.6h-.6zM126.3,48.3h.6v.6h-.6zM125.8,41.0h.6v.6h-.6zM130.7,39.0h.6v.6h-.6zM135.3,43.2h.6v.6h-.6zM132.9,49.4h.6v.6h-.6zM130.2,57.8h.6v.6h-.6zM124.1,38.9h.6v.6h-.6zM127.5,40.3h.6v.6h-.6zM129.7,61.6h.6v.6h-.6zM137.8,36.4h.6v.6h-.6zM133.0,33.6h.6v.6h-.6zM127.3,33.5h.6v.6h-.6zM122.1,43.4h.6v.6h-.6zM132.5,34.9h.6v.6h-.6zM137.6,38.4h.6v.6h-.6zM127.6,36.3h.6v.6h-.6zM125.0,41.8h.6v.6h-.6zM133.8,50.3h.6v.6h-.6zM131.0,57.4h.6v.6h-.6zM127.2,54.1h.6v.6h-.6zM130.2,54.2h.6v.6h-.6zM127.4,55.5h.6v.6h-.6zM131.2,53.1h.6v.6h-.6zM129.6,58.1h.6v.6h-.6zM131.1,31.7h.6v.6h-.6zM123.9,46.7h.6v.6h-.6zM129.1,60.9h.6v.6h-.6zM129.0,55.4h.6v.6h-.6zM128.7,58.1h.6v.6h-.6zM126.7,45.3h.6v.6h-.6zM128.8,45.5h.6v.6h-.6zM125.5,43.5h.6v.6h-.6zM127.1,48.5h.6v.6h-.6zM131.4,55.5h.6v.6h-.6zM128.0,57.4h.6v.6h-.6zM129.6,37.2h.6v.6h-.6zM133.7,40.8h.6v.6h-.6zM133.3,49.3h.6v.6h-.6zM133.2,34.3h.6v.6h-.6zM129.3,57.2h.6v.6h-.6zM131.4,57.1h.6v.6h-.6zM128.7,44.6h.6v.6h-.6zM130.4,59.3h.6v.6h-.6zM129.7,48.8h.6v.6h-.6zM135.7,46.7h.6v.6h-.6zM126.3,48.0h.6v.6h-.6zM129.5,61.9h.6v.6h-.6zM129.5,52.4h.6v.6h-.6zM125.4,43.4h.6v.6h-.6zM134.8,42.3h.6v.6h-.6zM129.4,60.4h.6v.6h-.6zM125.1,34.6h.6v.6h-.6zM124.4,43.0h.6v.6h-.6zM132.3,49.1h.6v.6h-.6zM131.8,58.3h.6v.6h-.6zM128.3,45.0h.6v.6h-.6zM132.8,50.6h.6v.6h-.6zM129.4,47.7h.6v.6h-.6zM131.0,56.4h.6v.6h-.6zM130.4,61.3h.6v.6h-.6zM129.1,56.7h.6v.6h-.6zM129.9,58.8h.6v.6h-.6zM133.7,52.6h.6v.6h-.6zM128.1,36.4h.6v.6h-.6zM134.1,46.9h.6v.6h-.6zM132.5,37.3h.6v.6h-.6zM134.1,49.9h.6v.6h-.6zM136.7,42.3h.6v.6h-.6zM130.2,32.9h.6v.6h-.6zM130.5,44.1h.6v.6h-.6zM127.5,52.6h.6v.6h-.6zM129.6,31.7h.6v.6h-.6zM123.3,37.6h.6v.6h-.6zM129.7,39.7h.6v.6h-.6zM126.3,44.1h.6v.6h-.6zM134.1,35.3h.6v.6h-.6zM136.2,34.8h.6v.6h-.6zM132.4,34.6h.6v.6h-.6zM132.3,56.6h.6v.6h-.6zM130.1,50.2h.6v.6h-.6zM130.0,32.0h.6v.6h-.6zM128.4,55.0h.6v.6h-.6zM136.7,42.4h.6v.6h-.6zM129.4,36.8h.6v.6h-.6zM130.6,59.1h.6v.6h-.6zM127.4,49.3h.6v.6h-.6zM133.9,43.3h.6v.6h-.6zM133.9,33.3h.6v.6h-.6zM129.2,60.8h.6v.6h-.6zM126.9,45.0h.6v.6h-.6zM128.7,32.9h.6v.6h-.6zM130.5,59.9h.6v.6h-.6zM129.0,58.9h.6v.6h-.6zM129.1,56.4h.6v.6h-.6zM131.0,60.8h.6v.6h-.6zM132.4,46.7h.6v.6h-.6zM128.4,43.4h.6v.6h-.6zM130.4,53.4h.6v.6h-.6zM131.4,58.2h.6v.6h-.6zM130.3,46.3h.6v.6h-.6zM126.0,36.9h.6v.6h-.6zM134.7,42.5h.6v.6h-.6zM125.3,35.1h.6v.6h-.6zM128.5,43.9h.6v.6h-.6zM135.2,33.6h.6v.6h-.6zM136.1,42.3h.6v.6h-.6zM131.1,39.0h.6v.6h-.6zM133.4,38.8h.6v.6h-.6zM129.1,32.7h.6v.6h-.6zM125.7,36.3h.6v.6h-.6zM131.8,53.1h.6v.6h-.6zM131.0,57.0h.6v.6h-.6zM121.1,35.5h.6v.6h-.6zM132.9,36.4h.6v.6h-.6zM128.7,42.3h.6v.6h-.6zM129.1,60.7h.6v.6h-.6zM135.3,37.9h.6v.6h-.6zM127.8,38.5h.6v.6h-.6zM134.3,45.4h.6v.6h-.6zM135.4,39.5h.6v.6h-.6zM128.8,58.9h.6v.6h-.6zM127.1,39.1h.6v.6h-.6zM131.3,50.1h.6v.6h-.6zM128.7,48.1h.6v.6h-.6zM128.2,48.9h.6v.6h-.6zM133.9,34.2h.6v.6h-.6zM132.2,37.0h.6v.6h-.6zM127.7,51.7h.6v.6h-.6zM125.8,34.9h.6v.6h-.6zM127.9,46.8h.6v.6h-.6zM133.7,40.6h.6v.6h-.6zM131.4,38.5h.6v.6h-.6zM128.9,35.4h.6v.6h-.6zM125.7,43.9h.6v.6h-.6zM130.4,59.2h.6v.6h-.6zM137.2,40.0h.6v.6h-.6zM130.7,51.8h.6v.6h-.6zM123.3,42.3h.6v.6h-.6zM132.1,52.9h.6v.6h-.6zM132.3,39.2h.6v.6h-.6zM127.3,50.7h.6v.6h-.6zM137.8,37.1h.6v.6h-.6zM133.8,53.9h.6v.6h-.6zM130.7,53.3h.6v.6h-.6zM130.0,36.5h.6v.6h-.6zM128.0,37.6h.6v.6h-.6zM133.3,32.8h.6v.6h-.6zM127.5,41.1h.6v.6h-.6zM129.1,57.1h.6v.6h-.6zM129.0,48.9h.6v.6h-.6zM126.0,44.8h.6v.6h-.6zM129.8,52.4h.6v.6h-.6zM130.2,57.0h.6v.6h-.6zM129.9,55.2h.6v.6h-.6zM130.6,57.6h.6v.6h-.6zM132.1,50.1h.6v.6h-.6zM130.8,35.0h.6v.6h-.6zM131.3,55.7h.6v.6h-.6zM126.2,52.7h.6v.6h-.6zM132.2,56.8h.6v.6h-.6zM131.5,59.9h.6v.6h-.6zM129.5,52.6h.6v.6h-.6zM129.1,33.3h.6v.6h-.6zM125.4,47.2h.6v.6h-.6zM131.4,59.8h.6v.6h-.6zM134.3,32.9h.6v.6h-.6zM130.7,53.0h.6v.6h-.6zM126.7,48.2h.6v.6h-.6zM129.3,61.1h.6v.6h-.6zM124.8,39.2h.6v.6h-.6zM127.9,33.4h.6v.6h-.6zM133.6,37.7h.6v.6h-.6zM134.9,41.0h.6v.6h-.6zM133.4,52.0h.6v.6h-.6zM129.9,38.8h.6v.6h-.6zM135.0,45.1h.6v.6h-.6zM129.3,60.0h.6v.6h-.6zM131.1,58.5h.6v.6h-.6zM125.5,35.9h.6v.6h-.6zM129.3,56.4h.6v.6h-.6zM129.7,48.3h.6v.6h-.6zM128.1,51.9h.6v.6h-.6zM124.0,49.8h.6v.6h-.6zM130.9,56.9h.6v.6h-.6zM128.7,35.1h.6v.6h-.6zM134.2,37.9h.6v.6h-.6zM129.7,33.4h.6v.6h-.6zM131.8,52.9h.6v.6h-.6zM132.5,45.2h.6v.6h-.6zM132.0,45.8h.6v.6h-.6zM130.5,42.6h.6v.6h-.6zM131.5,31.9h.6v.6h-.6zM129.9,61.8h.6v.6h-.6zM128.8,53.4h.6v.6h-.6zM129.6,61.4h.6v.6h-.6zM128.6,46.5h.6v.6h-.6zM131.6,44.8h.6v.6h-.6zM133.2,31.9h.6v.6h-.6zM128.8,59.6h.6v.6h-.6zM128.6,60.0h.6v.6h-.6zM129.8,51.4h.6v.6h-.6zM133.3,35.8h.6v.6h-.6zM131.4,32.4h.6v.6h-.6zM133.9,51.0h.6v.6h-.6zM120.3,36.7h.6v.6h-.6zM130.0,56.8h.6v.6h-.6zM125.2,37.2h.6v.6h-.6zM129.3,56.7h.6v.6h-.6zM132.8,48.4h.6v.6h-.6zM131.3,42.8h.6v.6h-.6zM128.4,32.9h.6v.6h-.6zM124.9,48.8h.6v.6h-.6zM126.2,53.0h.6v.6h-.6zM131.5,59.1h.6v.6h-.6zM127.8,46.8h.6v.6h-.6zM127.6,36.4h.6v.6h-.6zM135.2,34.0h.6v.6h-.6zM131.5,52.5h.6v.6h-.6zM130.6,61.1h.6v.6h-.6zM134.4,34.3h.6v.6h-.6zM130.9,37.4h.6v.6h-.6zM135.1,53.6h.6v.6h-.6zM130.1,55.5h.6v.6h-.6zM128.1,44.5h.6v.6h-.6zM135.2,47.2h.6v.6h-.6zM126.8,44.4h.6v.6h-.6zM132.6,51.8h.6v.6h-.6zM131.1,56.7h.6v.6h-.6zM127.9,40.6h.6v.6h-.6zM125.6,45.1h.6v.6h-.6zM127.8,37.5h.6v.6h-.6zM127.9,34.2h.6v.6h-.6zM130.6,61.1h.6v.6h-.6zM132.4,59.2h.6v.6h-.6zM123.0,50.4h.6v.6h-.6zM128.0,33.4h.6v.6h-.6zM123.3,40.6h.6v.6h-.6zM133.6,49.0h.6v.6h-.6zM128.8,51.3h.6v.6h-.6zM123.7,40.7h.6v.6h-.6zM128.7,52.2h.6v.6h-.6zM130.3,51.7h.6v.6h-.6zM125.1,42.9h.6v.6h-.6zM127.5,47.7h.6v.6h-.6zM128.1,48.8h.6v.6h-.6zM131.1,37.1h.6v.6h-.6zM129.3,58.7h.6v.6h-.6zM129.8,57.8h.6v.6h-.6zM134.8,39.3h.6v.6h-.6zM133.1,39.2h.6v.6h-.6zM126.6,46.5h.6v.6h-.6zM128.7,49.0h.6v.6h-.6zM123.7,35.0h.6v.6h-.6zM129.5,34.0h.6v.6h-.6zM134.1,44.0h.6v.6h-.6zM130.9,57.8h.6v.6h-.6zM128.1,48.3h.6v.6h-.6zM122.2,35.1h.6v.6h-.6zM129.9,61.7h.6v.6h-.6zM129.2,56.8h.6v.6h-.6zM135.4,43.5h.6v.6h-.6zM137.8,48.7h.6v.6h-.6zM129.9,35.8h.6v.6h-.6zM127.9,38.8h.6v.6h-.6zM136.2,42.9h.6v.6h-.6zM130.2,38.1h.6v.6h-.6zM128.2,40.7h.6v.6h-.6zM128.4,58.6h.6v.6h-.6zM132.7,50.5h.6v.6h-.6zM128.7,59.5h.6v.6h-.6zM131.4,58.1h.6v.6h-.6zM136.9,42.0h.6v.6h-.6zM128.1,54.8h.6v.6h-.6zM133.9,54.0h.6v.6h-.6zM128.8,32.9h.6v.6h-.6zM133.2,50.0h.6v.6h-.6zM131.7,56.0h.6v.6h-.6zM135.9,35.0h.6v.6h-.6zM126.2,39.3h.6v.6h-.6zM132.6,35.1h.6v.6h-.6zM134.2,32.2h.6v.6h-.6zM135.3,37.2h.6v.6h-.6zM128.1,48.4h.6v.6h-.6zM136.8,43.2h.6v.6h-.6zM133.9,36.0h.6v.6h-.6zM127.4,52.6h.6v.6h-.6zM130.4,56.2h.6v.6h-.6zM129.3,42.0h.6v.6h-.6zM119.6,36.2h.6v.6h-.6zM130.4,32.7h.6v.6h-.6zM132.7,37.1h.6v.6h-.6zM122.9,43.5h.6v.6h-.6zM134.0,46.1h.6v.6h-.6zM137.4,43.6h.6v.6h-.6zM129.5,58.1h.6v.6h-.6zM128.3,41.6h.6v.6h-.6zM134.9,38.2h.6v.6h-.6zM127.8,32.9h.6v.6h-.6zM126.0,36.8h.6v.6h-.6zM132.7,49.1h.6v.6h-.6zM129.2,43.4h.6v.6h-.6zM129.9,49.2h.6v.6h-.6zM135.2,41.7h.6v.6h-.6zM130.0,61.6h.6v.6h-.6zM133.3,33.0h.6v.6h-.6zM135.6,39.9h.6v.6h-.6zM125.6,39.9h.6v.6h-.6zM129.6,48.9h.6v.6h-.6zM126.5,48.6h.6v.6h-.6zM132.9,55.0h.6v.6h-.6zM125.8,50.8h.6v.6h-.6zM128.1,50.9h.6v.6h-.6zM131.4,55.8h.6v.6h-.6zM132.4,58.1h.6v.6h-.6zM126.7,40.8h.6v.6h-.6zM129.8,54.8h.6v.6h-.6zM126.0,50.9h.6v.6h-.6zM124.7,42.3h.6v.6h-.6zM129.0,33.4h.6v.6h-.6zM122.8,41.9h.6v.6h-.6zM130.0,39.0h.6v.6h-.6zM134.1,35.7h.6v.6h-.6zM132.4,31.8h.6v.6h-.6zM125.8,45.1h.6v.6h-.6zM128.9,48.9h.6v.6h-.6zM132.3,33.6h.6v.6h-.6zM126.6,40.8h.6v.6h-.6zM135.2,48.4h.6v.6h-.6zM128.5,60.1h.6v.6h-.6zM126.6,55.1h.6v.6h-.6zM130.7,44.6h.6v.6h-.6zM128.3,46.3h.6v.6h-.6zM129.8,58.9h.6v.6h-.6zM132.6,32.3h.6v.6h-.6zM128.7,36.6h.6v.6h-.6zM137.4,38.2h.6v.6h-.6zM131.5,43.7h.6v.6h-.6zM132.3,57.9h.6v.6h-.6zM131.5,51.3h.6v.6h-.6zM131.1,60.9h.6v.6h-.6zM135.2,49.9h.6v.6h-.6zM131.5,58.2h.6v.6h-.6zM131.7,42.0h.6v.6h-.6zM131.4,47.9h.6v.6h-.6zM127.6,58.2h.6v.6h-.6zM128.5,54.4h.6v.6h-.6zM127.5,52.2h.6v.6h-.6zM134.5,41.9h.6v.6h-.6zM131.6,33.0h.6v.6h-.6zM127.8,50.6h.6v.6h-.6zM133.2,49.8h.6v.6h-.6zM128.8,39.4h.6v.6h-.6zM130.0,59.7h.6v.6h-.6zM130.8,48.7h.6v.6h-.6zM129.6,50.3h.6v.6h-.6zM129.4,53.6h.6v.6h-.6zM131.5,36.3h.6v.6h-.6zM129.8,35.9h.6v.6h-.6zM129.2,56.3h.6v.6h-.6zM123.4,44.5h.6v.6h-.6zM128.3,48.5h.6v.6h-.6zM127.7,51.6h.6v.6h-.6zM128.6,54.1h.6v.6h-.6zM127.5,39.4h.6v.6h-.6zM126.2,55.2h.6v.6h-.6zM131.6,41.0h.6v.6h-.6zM131.4,47.5h.6v.6h-.6zM130.4,31.9h.6v.6h-.6zM125.3,46.1h.6v.6h-.6zM122.4,42.6h.6v.6h-.6zM130.0,61.7h.6v.6h-.6zM137.1,34.3h.6v.6h-.6zM131.2,32.4h.6v.6h-.6zM130.5,46.9h.6v.6h-.6zM133.2,48.5h.6v.6h-.6zM128.7,37.0h.6v.6h-.6zM130.3,55.3h.6v.6h-.6zM131.3,42.1h.6v.6h-.6zM124.2,41.4h.6v.6h-.6zM131.8,59.1h.6v.6h-.6zM134.0,33.6h.6v.6h-.6zM124.7,51.2h.6v.6h-.6zM134.4,33.4h.6v.6h-.6zM122.6,48.8h.6v.6h-.6zM133.7,50.7h.6v.6h-.6zM129.6,38.4h.6v.6h-.6zM133.1,44.8h.6v.6h-.6zM132.1,38.6h.6v.6h-.6zM134.9,51.1h.6v.6h-.6zM133.2,40.7h.6v.6h-.6zM129.5,48.9h.6v.6h-.6zM136.1,36.4h.6v.6h-.6zM121.8,39.7h.6v.6h-.6zM130.9,54.4h.6v.6h-.6zM125.9,41.7h.6v.6h-.6zM131.4,46.4h.6v.6h-.6zM128.8,52.4h.6v.6h-.6zM125.3,49.8h.6v.6h-.6zM130.6,58.4h.6v.6h-.6zM133.1,38.0h.6v.6h-.6zM128.6,55.3h.6v.6h-.6zM131.5,57.8h.6v.6h-.6zM131.3,54.0h.6v.6h-.6zM130.9,52.4h.6v.6h-.6zM124.8,34.3h.6v.6h-.6zM135.1,53.4h.6v.6h-.6zM130.3,61.4h.6v.6h-.6zM130.4,55.7h.6v.6h-.6zM133.2,52.6h.6v.6h-.6zM131.0,38.6h.6v.6h-.6zM130.2,44.7h.6v.6h-.6zM130.0,61.7h.6v.6h-.6zM131.5,41.2h.6v.6h-.6zM127.9,46.4h.6v.6h-.6zM126.9,35.7h.6v.6h-.6zM130.7,52.4h.6v.6h-.6zM129.2,36.1h.6v.6h-.6zM124.4,35.0h.6v.6h-.6zM129.9,38.1h.6v.6h-.6zM130.8,61.0h.6v.6h-.6zM124.1,39.9h.6v.6h-.6zM129.4,37.0h.6v.6h-.6zM131.6,32.9h.6v.6h-.6zM125.1,47.1h.6v.6h-.6zM133.0,42.6h.6v.6h-.6zM129.6,31.9h.6v.6h-.6zM124.4,48.1h.6v.6h-.6zM125.6,48.3h.6v.6h-.6zM127.4,43.7h.6v.6h-.6zM130.5,61.2h.6v.6h-.6zM125.8,43.4h.6v.6h-.6zM132.9,35.9h.6v.6h-.6zM130.4,61.9h.6v.6h-.6zM130.0,59.8h.6v.6h-.6zM125.8,39.3h.6v.6h-.6zM126.4,38.9h.6v.6h-.6zM136.8,37.6h.6v.6h-.6zM133.0,55.4h.6v.6h-.6zM132.0,59.2h.6v.6h-.6zM132.0,41.5h.6v.6h-.6zM127.2,51.2h.6v.6h-.6zM129.7,61.1h.6v.6h-.6zM130.8,31.6h.6v.6h-.6zM130.0,61.8h.6v.6h-.6zM133.6,54.2h.6v.6h-.6zM128.4,43.1h.6v.6h-.6zM125.6,47.6h.6v.6h-.6zM128.4,50.2h.6v.6h-.6zM127.2,50.7h.6v.6h-.6zM130.4,48.1h.6v.6h-.6zM136.5,39.7h.6v.6h-.6zM127.8,59.2h.6v.6h-.6zM130.5,47.5h.6v.6h-.6zM129.9,46.1h.6v.6h-.6zM130.6,59.8h.6v.6h-.6zM124.7,47.7h.6v.6h-.6zM129.7,56.3h.6v.6h-.6zM134.0,38.9h.6v.6h-.6zM136.8,45.6h.6v.6h-.6zM133.0,51.1h.6v.6h-.6zM134.0,43.2h.6v.6h-.6zM122.1,35.3h.6v.6h-.6zM129.6,36.3h.6v.6h-.6zM131.9,42.4h.6v.6h-.6zM127.7,56.0h.6v.6h-.6zM129.3,34.3h.6v.6h-.6zM137.0,43.6h.6v.6h-.6zM129.3,45.3h.6v.6h-.6zM131.6,46.1h.6v.6h-.6zM121.7,36.2h.6v.6h-.6zM127.5,52.3h.6v.6h-.6zM134.1,38.8h.6v.6h-.6zM126.9,42.9h.6v.6h-.6zM132.7,32.1h.6v.6h-.6zM128.0,37.7h.6v.6h-.6zM128.9,37.0h.6v.6h-.6zM129.6,53.4h.6v.6h-.6zM134.0,39.0h.6v.6h-.6zM132.5,57.0h.6v.6h-.6zM131.4,57.7h.6v.6h-.6zM121.7,37.7h.6v.6h-.6zM132.5,50.4h.6v.6h-.6zM134.7,42.9h.6v.6h-.6zM131.0,42.8h.6v.6h-.6zM129.2,53.3h.6v.6h-.6zM132.9,51.3h.6v.6h-.6zM128.8,56.2h.6v.6h-.6zM132.5,49.2h.6v.6h-.6zM131.1,59.7h.6v.6h-.6zM129.3,51.8h.6v.6h-.6zM130.8,54.6h.6v.6h-.6zM123.9,43.1h.6v.6h-.6zM129.7,59.0h.6v.6h-.6zM133.3,54.6h.6v.6h-.6zM130.4,45.7h.6v.6h-.6zM131.9,45.7h.6v.6h-.6zM125.6,46.0h.6v.6h-.6zM128.3,58.7h.6v.6h-.6zM131.2,47.2h.6v.6h-.6zM128.5,56.7h.6v.6h-.6zM122.6,43.8h.6v.6h-.6zM128.7,32.8h.6v.6h-.6zM127.3,55.0h.6v.6h-.6zM131.3,55.0h.6v.6h-.6zM132.0,33.9h.6v.6h-.6zM130.8,56.5h.6v.6h-.6zM130.6,54.5h.6v.6h-.6zM134.8,48.8h.6v.6h-.6zM131.4,53.2h.6v.6h-.6zM135.6,46.3h.6v.6h-.6zM132.0,44.3h.6v.6h-.6zM136.2,49.4h.6v.6h-.6zM129.5,36.0h.6v.6h-.6zM129.0,41.8h.6v.6h-.6zM129.9,61.7h.6v.6h-.6zM129.3,39.9h.6v.6h-.6zM134.0,39.4h.6v.6h-.6zM128.0,57.7h.6v.6h-.6zM127.6,44.4h.6v.6h-.6zM128.0,33.2h.6v.6h-.6zM134.2,56.0h.6v.6h-.6zM130.1,39.4h.6v.6h-.6zM130.7,47.9h.6v.6h-.6zM124.0,43.0h.6v.6h-.6zM130.6,49.3h.6v.6h-.6zM130.6,42.7h.6v.6h-.6zM129.1,59.5h.6v.6h-.6zM132.6,48.5h.6v.6h-.6zM130.6,47.8h.6v.6h-.6zM125.6,44.0h.6v.6h-.6zM127.8,39.9h.6v.6h-.6zM129.2,55.8h.6v.6h-.6zM133.4,56.0h.6v.6h-.6zM131.1,58.3h.6v.6h-.6zM125.6,33.4h.6v.6h-.6zM132.3,33.1h.6v.6h-.6zM132.2,57.8h.6v.6h-.6zM132.5,37.1h.6v.6h-.6zM127.8,59.6h.6v.6h-.6zM126.6,46.7h.6v.6h-.6zM128.8,52.1h.6v.6h-.6zM125.9,38.0h.6v.6h-.6zM132.8,57.1h.6v.6h-.6zM132.2,34.5h.6v.6h-.6zM136.0,39.4h.6v.6h-.6zM125.4,36.3h.6v.6h-.6zM129.9,33.3h.6v.6h-.6zM129.5,57.0h.6v.6h-.6zM130.3,40.5h.6v.6h-.6zM136.4,41.3h.6v.6h-.6zM134.2,48.6h.6v.6h-.6zM138.9,41.5h.6v.6h-.6zM133.8,36.2h.6v.6h-.6zM127.3,43.2h.6v.6h-.6zM127.4,48.2h.6v.6h-.6zM123.1,34.4h.6v.6h-.6zM131.2,44.7h.6v.6h-.6zM134.1,52.2h.6v.6h-.6zM135.5,35.3h.6v.6h-.6zM129.3,40.4h.6v.6h-.6zM129.6,42.2h.6v.6h-.6zM128.5,59.9h.6v.6h-.6zM130.2,48.0h.6v.6h-.6zM132.1,34.3h.6v.6h-.6zM130.9,58.7h.6v.6h-.6zM130.7,57.3h.6v.6h-.6zM128.9,61.0h.6v.6h-.6zM125.9,41.7h.6v.6h-.6zM130.6,54.2h.6v.6h-.6zM130.6,37.0h.6v.6h-.6zM126.9,33.7h.6v.6h-.6zM133.5,48.6h.6v.6h-.6zM131.7,55.6h.6v.6h-.6zM128.8,49.7h.6v.6h-.6zM129.7,47.2h.6v.6h-.6zM128.5,34.6h.6v.6h-.6zM128.1,49.2h.6v.6h-.6zM124.3,42.3h.6v.6h-.6zM134.8,36.6h.6v.6h-.6zM133.8,36.8h.6v.6h-.6zM129.5,57.2h.6v.6h-.6zM129.1,58.2h.6v.6h-.6zM130.2,34.5h.6v.6h-.6zM131.4,58.3h.6v.6h-.6zM132.5,47.9h.6v.6h-.6zM127.0,35.2h.6v.6h-.6zM130.0,47.9h.6v.6h-.6zM127.6,47.0h.6v.6h-.6zM131.9,43.9h.6v.6h-.6zM132.2,37.8h.6v.6h-.6zM130.9,58.1h.6v.6h-.6zM130.0,46.9h.6v.6h-.6zM129.8,60.3h.6v.6h-.6zM130.8,46.4h.6v.6h-.6zM126.3,52.5h.6v.6h-.6zM129.6,38.6h.6v.6h-.6zM126.7,39.6h.6v.6h-.6zM127.8,32.5h.6v.6h-.6zM133.4,40.5h.6v.6h-.6zM131.7,58.7h.6v.6h-.6zM133.0,38.7h.6v.6h-.6zM130.8,49.7h.6v.6h-.6zM124.5,33.5h.6v.6h-.6zM124.2,50.4h.6v.6h-.6zM131.0,52.6h.6v.6h-.6zM128.3,56.2h.6v.6h-.6zM130.0,45.6h.6v.6h-.6zM129.8,60.2h.6v.6h-.6zM127.8,44.1h.6v.6h-.6zM130.8,39.0h.6v.6h-.6zM129.3,53.9h.6v.6h-.6zM127.0,42.1h.6v.6h-.6zM130.7,35.9h.6v.6h-.6zM133.0,41.7h.6v.6h-.6zM129.3,46.7h.6v.6h-.6zM133.3,55.3h.6v.6h-.6zM126.9,50.9h.6v.6h-.6zM122.8,37.7h.6v.6h-.6zM126.9,55.5h.6v.6h-.6zM129.1,34.4h.6v.6h-.6zM125.1,36.5h.6v.6h-.6zM129.3,61.0h.6v.6h-.6zM122.5,35.7h.6v.6h-.6zM128.4,56.9h.6v.6h-.6zM128.1,56.0h.6v.6h-.6zM128.9,56.7h.6v.6h-.6zM131.4,55.4h.6v.6h-.6zM129.4,60.8h.6v.6h-.6zM131.3,47.8h.6v.6h-.6zM129.8,61.0h.6v.6h-.6zM130.0,55.5h.6v.6h-.6zM129.9,45.5h.6v.6h-.6zM131.6,59.2h.6v.6h-.6zM129.2,52.4h.6v.6h-.6zM127.8,55.4h.6v.6h-.6zM127.9,55.7h.6v.6h-.6zM125.3,34.2h.6v.6h-.6zM121.7,41.9h.6v.6h-.6zM132.9,49.7h.6v.6h-.6zM127.8,31.7h.6v.6h-.6zM131.5,46.5h.6v.6h-.6zM130.2,56.3h.6v.6h-.6zM125.3,44.3h.6v.6h-.6zM126.1,41.8h.6v.6h-.6zM123.7,38.1h.6v.6h-.6zM134.9,50.4h.6v.6h-.6zM133.1,40.5h.6v.6h-.6zM131.1,52.9h.6v.6h-.6zM125.1,45.0h.6v.6h-.6zM122.5,35.3h.6v.6h-.6zM132.0,39.9h.6v.6h-.6zM129.5,60.7h.6v.6h-.6zM130.8,58.7h.6v.6h-.6zM132.4,50.2h.6v.6h-.6zM126.8,46.8h.6v.6h-.6zM129.8,56.9h.6v.6h-.6zM129.5,36.5h.6v.6h-.6zM129.6,36.9h.6v.6h-.6zM132.1,42.3h.6v.6h-.6zM126.4,43.1h.6v.6h-.6zM131.3,59.8h.6v.6h-.6zM126.3,33.9h.6v.6h-.6zM132.5,51.7h.6v.6h-.6zM127.0,50.8h.6v.6h-.6zM132.4,52.2h.6v.6h-.6zM128.6,59.2h.6v.6h-.6zM129.9,61.3h.6v.6h-.6zM133.0,33.3h.6v.6h-.6zM124.7,48.5h.6v.6h-.6zM129.5,45.2h.6v.6h-.6zM129.8,32.7h.6v.6h-.6zM130.4,60.6h.6v.6h-.6zM131.2,58.7h.6v.6h-.6zM133.4,49.1h.6v.6h-.6zM126.1,33.0h.6v.6h-.6zM133.1,51.1h.6v.6h-.6zM129.9,40.1h.6v.6h-.6zM126.4,48.1h.6v.6h-.6zM136.3,44.4h.6v.6h-.6zM129.6,56.1h.6v.6h-.6zM121.4,36.5h.6v.6h-.6zM128.1,55.7h.6v.6h-.6zM133.5,42.2h.6v.6h-.6zM131.5,58.3h.6v.6h-.6zM129.4,36.5h.6v.6h-.6zM126.5,41.1h.6v.6h-.6zM129.3,33.2h.6v.6h-.6zM130.6,61.0h.6v.6h-.6zM130.2,60.8h.6v.6h-.6zM130.7,60.3h.6v.6h-.6zM127.3,37.6h.6v.6h-.6zM134.2,34.9h.6v.6h-.6zM125.7,39.5h.6v.6h-.6zM130.4,60.9h.6v.6h-.6zM132.8,39.7h.6v.6h-.6zM139.0,45.3h.6v.6h-.6zM130.3,51.0h.6v.6h-.6zM125.4,36.2h.6v.6h-.6zM126.9,54.6h.6v.6h-.6zM130.6,52.0h.6v.6h-.6zM129.6,54.5h.6v.6h-.6zM131.2,59.5h.6v.6h-.6zM128.1,47.7h.6v.6h-.6zM136.6,39.5h.6v.6h-.6zM132.0,42.4h.6v.6h-.6zM129.8,60.2h.6v.6h-.6zM133.0,33.7h.6v.6h-.6zM129.7,48.3h.6v.6h-.6zM122.3,44.1h.6v.6h-.6zM131.5,56.2h.6v.6h-.6zM131.6,51.2h.6v.6h-.6zM129.1,61.0h.6v.6h-.6zM127.3,55.1h.6v.6h-.6zM137.0,43.6h.6v.6h-.6zM126.5,42.0h.6v.6h-.6zM131.1,43.5h.6v.6h-.6zM125.3,37.2h.6v.6h-.6zM128.0,58.1h.6v.6h-.6zM129.2,52.0h.6v.6h-.6zM130.8,59.0h.6v.6h-.6zM132.7,33.6h.6v.6h-.6zM129.5,49.2h.6v.6h-.6zM126.1,43.9h.6v.6h-.6zM129.4,57.3h.6v.6h-.6zM130.7,55.6h.6v.6h-.6zM128.5,52.0h.6v.6h-.6zM124.7,54.5h.6v.6h-.6zM130.0,54.2h.6v.6h-.6zM127.5,56.6h.6v.6h-.6zM121.7,35.6h.6v.6h-.6zM128.8,53.0h.6v.6h-.6zM122.9,40.0h.6v.6h-.6zM124.4,33.6h.6v.6h-.6zM123.9,39.9h.6v.6h-.6zM130.0,38.1h.6v.6h-.6zM131.2,52.2h.6v.6h-.6zM130.1,61.2h.6v.6h-.6zM127.4,52.9h.6v.6h-.6zM131.9,33.8h.6v.6h-.6zM129.4,31.7h.6v.6h-.6zM131.5,50.7h.6v.6h-.6zM132.4,33.4h.6v.6h-.6zM128.8,56.8h.6v.6h-.6zM130.8,35.0h.6v.6h-.6zM136.6,41.9h.6v.6h-.6zM126.3,41.7h.6v.6h-.6zM129.4,55.7h.6v.6h-.6zM134.5,38.0h.6v.6h-.6zM123.5,47.9h.6v.6h-.6zM130.7,32.5h.6v.6h-.6zM128.4,46.9h.6v.6h-.6zM135.7,44.5h.6v.6h-.6zM131.4,53.6h.6v.6h-.6zM126.2,49.4h.6v.6h-.6zM132.1,49.5h.6v.6h-.6zM140.8,38.5h.6v.6h-.6zM130.4,61.6h.6v.6h-.6zM132.0,35.7h.6v.6h-.6zM126.6,45.4h.6v.6h-.6zM123.0,45.4h.6v.6h-.6zM131.5,42.0h.6v.6h-.6zM134.4,40.2h.6v.6h-.6zM129.1,37.5h.6v.6h-.6zM123.9,44.9h.6v.6h-.6zM128.7,37.6h.6v.6h-.6zM126.4,39.7h.6v.6h-.6zM126.5,48.6h.6v.6h-.6zM123.5,54.3h.6v.6h-.6zM129.6,59.6h.6v.6h-.6zM124.3,33.5h.6v.6h-.6zM130.3,50.8h.6v.6h-.6zM127.7,39.6h.6v.6h-.6zM131.3,50.8h.6v.6h-.6zM129.9,61.7h.6v.6h-.6zM131.0,36.9h.6v.6h-.6zM136.9,42.4h.6v.6h-.6zM124.6,45.4h.6v.6h-.6zM131.9,34.7h.6v.6h-.6zM130.9,55.2h.6v.6h-.6zM139.0,45.9h.6v.6h-.6zM128.9,46.1h.6v.6h-.6zM130.8,56.6h.6v.6h-.6zM130.9,48.7h.6v.6h-.6zM130.2,47.0h.6v.6h-.6zM132.5,32.2h.6v.6h-.6zM129.1,59.2h.6v.6h-.6zM126.4,53.9h.6v.6h-.6zM132.4,57.2h.6v.6h-.6zM133.0,35.7h.6v.6h-.6zM129.8,49.4h.6v.6h-.6zM138.8,43.1h.6v.6h-.6zM129.9,45.7h.6v.6h-.6zM133.4,32.9h.6v.6h-.6zM127.0,33.8h.6v.6h-.6zM122.0,41.4h.6v.6h-.6zM123.2,46.3h.6v.6h-.6zM130.5,51.0h.6v.6h-.6zM131.0,59.1h.6v.6h-.6zM134.8,43.2h.6v.6h-.6zM133.6,35.4h.6v.6h-.6zM123.2,37.7h.6v.6h-.6zM131.0,50.9h.6v.6h-.6zM129.0,53.1h.6v.6h-.6zM130.3,53.6h.6v.6h-.6zM126.8,33.2h.6v.6h-.6zM130.5,52.1h.6v.6h-.6zM130.2,53.3h.6v.6h-.6zM134.1,52.6h.6v.6h-.6zM135.4,45.9h.6v.6h-.6zM133.2,38.9h.6v.6h-.6zM129.2,43.5h.6v.6h-.6zM131.5,55.6h.6v.6h-.6zM126.7,54.1h.6v.6h-.6zM137.4,32.8h.6v.6h-.6zM135.1,32.8h.6v.6h-.6zM130.8,33.1h.6v.6h-.6zM128.2,59.9h.6v.6h-.6zM130.7,32.2h.6v.6h-.6zM129.6,61.2h.6v.6h-.6zM131.9,53.2h.6v.6h-.6zM132.0,34.8h.6v.6h-.6zM127.6,50.4h.6v.6h-.6zM130.1,49.7h.6v.6h-.6zM128.9,33.2h.6v.6h-.6zM128.5,48.2h.6v.6h-.6zM132.8,31.8h.6v.6h-.6zM134.7,54.2h.6v.6h-.6zM130.7,45.5h.6v.6h-.6zM127.8,35.3h.6v.6h-.6zM126.9,44.6h.6v.6h-.6zM135.4,35.0h.6v.6h-.6zM128.6,42.3h.6v.6h-.6zM128.8,34.5h.6v.6h-.6zM126.8,42.8h.6v.6h-.6zM137.5,36.1h.6v.6h-.6zM129.1,33.9h.6v.6h-.6zM127.6,35.1h.6v.6h-.6zM124.4,47.4h.6v.6h-.6zM124.3,45.5h.6v.6h-.6zM132.2,51.3h.6v.6h-.6zM129.7,59.5h.6v.6h-.6zM127.6,59.4h.6v.6h-.6zM134.0,53.4h.6v.6h-.6zM130.6,57.4h.6v.6h-.6zM131.6,44.7h.6v.6h-.6zM129.4,60.3h.6v.6h-.6zM128.5,45.0h.6v.6h-.6zM125.8,40.7h.6v.6h-.6zM128.6,42.2h.6v.6h-.6zM131.3,45.1h.6v.6h-.6zM129.1,61.4h.6v.6h-.6zM125.4,54.8h.6v.6h-.6zM129.9,61.8h.6v.6h-.6zM125.5,39.2h.6v.6h-.6zM132.9,44.1h.6v.6h-.6zM130.1,58.5h.6v.6h-.6zM128.9,59.6h.6v.6h-.6zM133.6,55.2h.6v.6h-.6zM130.5,58.7h.6v.6h-.6zM124.5,34.8h.6v.6h-.6zM129.0,56.7h.6v.6h-.6zM136.0,42.8h.6v.6h-.6zM131.7,47.9h.6v.6h-.6zM129.0,47.7h.6v.6h-.6zM129.2,59.4h.6v.6h-.6zM131.1,52.6h.6v.6h-.6zM129.2,38.1h.6v.6h-.6zM130.3,40.3h.6v.6h-.6zM129.1,39.5h.6v.6h-.6zM131.6,53.4h.6v.6h-.6zM129.3,44.9h.6v.6h-.6zM128.2,52.5h.6v.6h-.6zM126.2,54.5h.6v.6h-.6zM129.5,39.2h.6v.6h-.6zM130.6,52.6h.6v.6h-.6zM128.8,38.0h.6v.6h-.6zM126.0,51.5h.6v.6h-.6zM125.0,40.8h.6v.6h-.6zM130.8,33.5h.6v.6h-.6zM129.9,42.6h.6v.6h-.6zM134.0,35.9h.6v.6h-.6zM130.4,61.1h.6v.6h-.6zM129.2,52.5h.6v.6h-.6zM123.0,40.8h.6v.6h-.6zM133.3,45.1h.6v.6h-.6zM132.7,56.9h.6v.6h-.6zM131.5,32.5h.6v.6h-.6zM128.9,57.6h.6v.6h-.6zM129.2,56.0h.6v.6h-.6zM129.2,31.9h.6v.6h-.6zM132.0,37.4h.6v.6h-.6zM128.9,51.6h.6v.6h-.6zM128.5,49.4h.6v.6h-.6zM127.0,36.0h.6v.6h-.6zM134.2,34.6h.6v.6h-.6zM129.5,51.4h.6v.6h-.6zM129.8,48.9h.6v.6h-.6zM131.6,32.1h.6v.6h-.6zM130.0,55.6h.6v.6h-.6zM133.2,47.5h.6v.6h-.6zM129.9,35.0h.6v.6h-.6zM130.3,54.8h.6v.6h-.6zM132.9,38.3h.6v.6h-.6zM124.9,43.3h.6v.6h-.6zM134.1,45.9h.6v.6h-.6zM132.4,58.0h.6v.6h-.6zM131.0,57.0h.6v.6h-.6zM134.9,38.7h.6v.6h-.6zM130.7,35.1h.6v.6h-.6zM129.0,45.6h.6v.6h-.6zM127.7,35.2h.6v.6h-.6zM130.9,46.2h.6v.6h-.6zM132.4,45.0h.6v.6h-.6zM133.7,35.2h.6v.6h-.6zM131.2,45.9h.6v.6h-.6zM129.5,60.1h.6v.6h-.6zM128.9,38.4h.6v.6h-.6zM125.2,54.2h.6v.6h-.6zM128.6,57.7h.6v.6h-.6zM135.0,34.9h.6v.6h-.6zM127.5,38.9h.6v.6h-.6zM131.9,36.8h.6v.6h-.6zM127.8,34.1h.6v.6h-.6zM134.6,39.7h.6v.6h-.6zM128.6,53.8h.6v.6h-.6zM126.7,33.9h.6v.6h-.6zM130.9,37.8h.6v.6h-.6zM128.9,51.8h.6v.6h-.6zM130.1,61.5h.6v.6h-.6zM129.7,46.2h.6v.6h-.6zM130.3,51.5h.6v.6h-.6zM133.9,47.2h.6v.6h-.6zM130.4,54.1h.6v.6h-.6zM129.9,47.9h.6v.6h-.6zM133.7,50.0h.6v.6h-.6zM133.3,51.4h.6v.6h-.6zM131.4,60.3h.6v.6h-.6zM131.5,54.1h.6v.6h-.6zM128.9,59.0h.6v.6h-.6zM130.6,37.1h.6v.6h-.6zM131.9,59.0h.6v.6h-.6zM130.2,34.1h.6v.6h-.6zM130.7,44.9h.6v.6h-.6zM132.5,35.9h.6v.6h-.6zM135.2,49.3h.6v.6h-.6zM128.5,60.2h.6v.6h-.6zM132.7,32.0h.6v.6h-.6zM130.0,60.4h.6v.6h-.6zM134.0,47.2h.6v.6h-.6zM130.4,38.2h.6v.6h-.6zM132.4,57.0h.6v.6h-.6zM129.5,60.8h.6v.6h-.6zM134.2,42.0h.6v.6h-.6zM132.8,51.9h.6v.6h-.6zM130.3,36.5h.6v.6h-.6zM132.9,56.8h.6v.6h-.6zM129.6,39.4h.6v.6h-.6zM122.9,45.4h.6v.6h-.6zM126.7,35.8h.6v.6h-.6zM130.6,49.3h.6v.6h-.6zM128.5,38.7h.6v.6h-.6zM124.9,36.7h.6v.6h-.6zM126.8,44.0h.6v.6h-.6zM128.4,58.6h.6v.6h-.6zM129.6,60.2h.6v.6h-.6zM130.2,59.4h.6v.6h-.6zM133.5,34.8h.6v.6h-.6zM130.1,40.4h.6v.6h-.6zM130.4,61.0h.6v.6h-.6zM126.5,47.7h.6v.6h-.6zM131.0,57.4h.6v.6h-.6zM123.9,47.2h.6v.6h-.6zM130.0,35.1h.6v.6h-.6zM134.8,49.4h.6v.6h-.6zM123.9,33.9h.6v.6h-.6zM129.1,58.9h.6v.6h-.6zM129.2,52.6h.6v.6h-.6zM130.0,39.4h.6v.6h-.6zM133.2,47.5h.6v.6h-.6zM134.2,52.2h.6v.6h-.6zM132.2,50.6h.6v.6h-.6zM125.8,45.9h.6v.6h-.6zM127.4,31.9h.6v.6h-.6zM126.5,46.1h.6v.6h-.6zM125.4,51.3h.6v.6h-.6zM127.4,44.7h.6v.6h-.6zM130.1,60.7h.6v.6h-.6zM130.7,60.8h.6v.6h-.6zM130.2,59.0h.6v.6h-.6zM137.7,42.5h.6v.6h-.6zM130.1,51.8h.6v.6h-.6zM127.0,38.4h.6v.6h-.6zM129.5,38.1h.6v.6h-.6zM130.9,35.7h.6v.6h-.6zM127.8,43.9h.6v.6h-.6zM130.3,49.3h.6v.6h-.6zM129.0,60.2h.6v.6h-.6zM128.7,53.0h.6v.6h-.6zM131.9,44.9h.6v.6h-.6zM133.2,32.1h.6v.6h-.6zM131.4,52.1h.6v.6h-.6zM130.6,60.9h.6v.6h-.6zM131.8,54.9h.6v.6h-.6zM125.8,50.9h.6v.6h-.6zM131.7,53.0h.6v.6h-.6zM129.7,54.9h.6v.6h-.6zM129.3,40.7h.6v.6h-.6zM136.1,49.9h.6v.6h-.6zM129.1,58.2h.6v.6h-.6zM129.9,32.1h.6v.6h-.6zM129.0,47.9h.6v.6h-.6zM127.0,33.7h.6v.6h-.6zM132.2,31.7h.6v.6h-.6zM133.5,31.7h.6v.6h-.6zM128.8,38.6h.6v.6h-.6zM130.7,61.6h.6v.6h-.6zM135.1,32.2h.6v.6h-.6zM137.2,36.1h.6v.6h-.6zM125.2,41.8h.6v.6h-.6zM128.9,44.3h.6v.6h-.6zM129.4,46.2h.6v.6h-.6zM131.4,34.2h.6v.6h-.6zM135.4,36.5h.6v.6h-.6zM132.1,52.8h.6v.6h-.6zM131.7,39.6h.6v.6h-.6zM121.7,42.0h.6v.6h-.6zM133.1,46.6h.6v.6h-.6zM127.9,36.3h.6v.6h-.6zM127.5,53.4h.6v.6h-.6zM132.2,38.6h.6v.6h-.6zM127.2,37.4h.6v.6h-.6zM127.0,34.4h.6v.6h-.6zM124.2,35.8h.6v.6h-.6zM127.5,37.5h.6v.6h-.6zM129.0,50.9h.6v.6h-.6zM129.3,38.9h.6v.6h-.6zM133.6,47.8h.6v.6h-.6zM134.2,53.6h.6v.6h-.6zM131.2,38.3h.6v.6h-.6zM124.6,40.4h.6v.6h-.6zM125.8,50.3h.6v.6h-.6zM130.3,59.0h.6v.6h-.6zM132.4,51.7h.6v.6h-.6zM131.6,39.5h.6v.6h-.6zM131.5,55.0h.6v.6h-.6zM129.0,56.7h.6v.6h-.6zM129.3,41.2h.6v.6h-.6zM128.6,50.1h.6v.6h-.6zM134.8,34.3h.6v.6h-.6zM131.4,36.2h.6v.6h-.6zM130.9,59.9h.6v.6h-.6zM125.7,37.6h.6v.6h-.6zM124.1,35.2h.6v.6h-.6zM129.3,42.6h.6v.6h-.6zM128.9,33.7h.6v.6h-.6zM125.8,43.4h.6v.6h-.6zM130.1,51.9h.6v.6h-.6zM127.2,38.3h.6v.6h-.6zM132.8,53.3h.6v.6h-.6zM128.2,55.0h.6v.6h-.6zM130.9,59.8h.6v.6h-.6zM129.5,60.0h.6v.6h-.6zM128.0,45.5h.6v.6h-.6zM129.6,51.0h.6v.6h-.6zM130.1,61.4h.6v.6h-.6zM131.0,59.3h.6v.6h-.6zM132.4,50.4h.6v.6h-.6zM137.4,40.7h.6v.6h-.6zM131.7,55.0h.6v.6h-.6zM133.5,44.9h.6v.6h-.6zM132.1,34.5h.6v.6h-.6zM130.5,60.9h.6v.6h-.6zM130.7,54.9h.6v.6h-.6zM131.1,35.7h.6v.6h-.6zM130.8,36.6h.6v.6h-.6zM130.7,47.8h.6v.6h-.6zM127.0,36.9h.6v.6h-.6zM128.1,54.9h.6v.6h-.6zM131.6,35.3h.6v.6h-.6zM132.1,39.0h.6v.6h-.6zM129.2,39.5h.6v.6h-.6zM128.7,60.7h.6v.6h-.6zM128.8,50.0h.6v.6h-.6zM132.9,53.4h.6v.6h-.6zM131.2,53.9h.6v.6h-.6zM130.3,60.7h.6v.6h-.6zM131.4,34.9h.6v.6h-.6zM125.4,39.1h.6v.6h-.6zM131.1,57.6h.6v.6h-.6zM133.6,41.4h.6v.6h-.6zM137.0,42.0h.6v.6h-.6zM121.5,37.3h.6v.6h-.6zM131.6,57.8h.6v.6h-.6zM130.1,58.9h.6v.6h-.6zM129.0,60.5h.6v.6h-.6zM126.3,42.7h.6v.6h-.6zM132.8,43.1h.6v.6h-.6zM131.2,35.0h.6v.6h-.6zM130.0,58.6h.6v.6h-.6zM129.0,59.6h.6v.6h-.6zM133.6,56.0h.6v.6h-.6zM129.8,54.5h.6v.6h-.6zM130.0,56.3h.6v.6h-.6zM136.7,43.2h.6v.6h-.6zM131.7,57.1h.6v.6h-.6zM134.3,41.8h.6v.6h-.6zM127.8,56.5h.6v.6h-.6zM133.1,57.4h.6v.6h-.6zM132.5,58.3h.6v.6h-.6zM132.2,45.5h.6v.6h-.6zM131.4,41.9h.6v.6h-.6zM129.6,41.9h.6v.6h-.6zM132.0,41.5h.6v.6h-.6zM131.2,32.4h.6v.6h-.6zM127.4,33.7h.6v.6h-.6zM130.0,33.7h.6v.6h-.6zM126.5,45.6h.6v.6h-.6zM133.4,43.8h.6v.6h-.6zM131.6,41.1h.6v.6h-.6zM129.3,58.2h.6v.6h-.6zM128.9,49.5h.6v.6h-.6zM127.8,56.8h.6v.6h-.6zM128.9,44.3h.6v.6h-.6zM129.4,58.4h.6v.6h-.6zM126.6,42.6h.6v.6h-.6zM137.0,42.6h.6v.6h-.6zM127.8,35.4h.6v.6h-.6zM131.7,59.4h.6v.6h-.6zM130.8,44.7h.6v.6h-.6zM128.9,53.4h.6v.6h-.6zM130.2,47.5h.6v.6h-.6zM130.6,56.5h.6v.6h-.6zM125.0,38.4h.6v.6h-.6zM130.6,54.2h.6v.6h-.6zM128.9,58.4h.6v.6h-.6zM129.5,61.8h.6v.6h-.6zM131.0,53.2h.6v.6h-.6zM130.2,59.9h.6v.6h-.6zM133.7,41.6h.6v.6h-.6zM131.3,53.9h.6v.6h-.6zM134.2,46.8h.6v.6h-.6zM134.6,51.9h.6v.6h-.6zM132.1,55.8h.6v.6h-.6zM137.1,48.4h.6v.6h-.6zM127.5,58.0h.6v.6h-.6zM136.5,46.9h.6v.6h-.6zM124.2,47.1h.6v.6h-.6zM129.3,60.0h.6v.6h-.6zM129.1,50.8h.6v.6h-.6zM127.4,56.0h.6v.6h-.6zM132.8,39.5h.6v.6h-.6zM124.2,40.0h.6v.6h-.6zM132.0,45.8h.6v.6h-.6zM133.8,34.4h.6v.6h-.6zM130.0,53.4h.6v.6h-.6zM130.2,54.4h.6v.6h-.6zM132.5,47.3h.6v.6h-.6zM125.0,49.4h.6v.6h-.6zM129.9,53.5h.6v.6h-.6zM125.6,53.2h.6v.6h-.6zM135.7,39.9h.6v.6h-.6zM123.6,33.2h.6v.6h-.6zM131.0,45.1h.6v.6h-.6zM130.5,55.8h.6v.6h-.6zM132.0,52.2h.6v.6h-.6zM132.6,51.0h.6v.6h-.6zM129.6,61.9h.6v.6h-.6zM137.0,39.1h.6v.6h-.6zM132.3,37.6h.6v.6h-.6zM132.7,50.4h.6v.6h-.6zM131.5,40.8h.6v.6h-.6zM132.5,34.2h.6v.6h-.6zM127.2,37.5h.6v.6h-.6zM135.0,37.2h.6v.6h-.6zM130.9,60.3h.6v.6h-.6zM131.3,45.9h.6v.6h-.6zM135.8,36.0h.6v.6h-.6zM136.5,36.7h.6v.6h-.6zM130.4,61.0h.6v.6h-.6zM126.4,43.9h.6v.6h-.6zM133.8,42.3h.6v.6h-.6zM128.6,52.6h.6v.6h-.6zM130.7,57.9h.6v.6h-.6zM130.0,42.4h.6v.6h-.6zM132.7,50.8h.6v.6h-.6zM127.2,44.7h.6v.6h-.6zM122.5,40.7h.6v.6h-.6zM128.7,53.9h.6v.6h-.6zM130.5,60.5h.6v.6h-.6zM131.5,57.5h.6v.6h-.6zM127.2,55.6h.6v.6h-.6zM125.5,41.9h.6v.6h-.6zM128.9,60.3h.6v.6h-.6zM128.1,37.1h.6v.6h-.6zM136.4,35.1h.6v.6h-.6zM127.6,32.4h.6v.6h-.6zM123.6,41.4h.6v.6h-.6zM130.3,42.6h.6v.6h-.6zM128.9,58.8h.6v.6h-.6zM131.1,59.9h.6v.6h-.6zM127.0,51.0h.6v.6h-.6zM130.2,43.4h.6v.6h-.6zM130.3,50.1h.6v.6h-.6zM125.8,42.9h.6v.6h-.6zM122.5,43.4h.6v.6h-.6zM130.9,41.7h.6v.6h-.6zM128.4,52.6h.6v.6h-.6zM131.0,32.3h.6v.6h-.6zM130.8,56.1h.6v.6h-.6zM129.8,36.1h.6v.6h-.6zM131.3,39.6h.6v.6h-.6zM128.9,53.9h.6v.6h-.6zM135.7,37.5h.6v.6h-.6zM131.6,54.3h.6v.6h-.6zM126.6,34.4h.6v.6h-.6zM130.1,58.1h.6v.6h-.6zM129.1,61.3h.6v.6h-.6zM131.9,32.8h.6v.6h-.6zM131.1,32.3h.6v.6h-.6zM129.0,53.1h.6v.6h-.6zM127.8,36.5h.6v.6h-.6zM123.8,37.1h.6v.6h-.6zM129.2,61.1h.6v.6h-.6zM134.8,42.6h.6v.6h-.6zM128.8,43.5h.6v.6h-.6zM131.1,39.3h.6v.6h-.6zM130.8,36.9h.6v.6h-.6zM132.2,42.3h.6v.6h-.6zM133.0,54.0h.6v.6h-.6zM131.2,52.3h.6v.6h-.6zM125.7,32.6h.6v.6h-.6zM132.0,49.1h.6v.6h-.6zM134.0,45.3h.6v.6h-.6zM124.9,41.8h.6v.6h-.6zM138.5,43.6h.6v.6h-.6zM127.0,48.6h.6v.6h-.6zM131.8,35.9h.6v.6h-.6zM132.4,52.6h.6v.6h-.6zM131.9,31.7h.6v.6h-.6zM122.7,47.3h.6v.6h-.6zM131.4,31.8h.6v.6h-.6zM126.9,51.9h.6v.6h-.6zM129.1,48.9h.6v.6h-.6zM129.0,60.8h.6v.6h-.6zM131.0,60.6h.6v.6h-.6zM126.5,41.2h.6v.6h-.6zM128.3,43.0h.6v.6h-.6zM134.9,55.7h.6v.6h-.6zM133.3,56.6h.6v.6h-.6zM129.1,41.3h.6v.6h-.6zM129.8,54.6h.6v.6h-.6zM136.4,36.4h.6v.6h-.6zM128.6,57.7h.6v.6h-.6zM130.0,59.7h.6v.6h-.6zM136.4,34.1h.6v.6h-.6zM126.1,36.1h.6v.6h-.6zM124.9,44.6h.6v.6h-.6zM131.6,60.0h.6v.6h-.6zM133.9,34.7h.6v.6h-.6zM137.4,40.0h.6v.6h-.6zM135.6,45.0h.6v.6h-.6zM129.8,53.7h.6v.6h-.6zM134.9,51.3h.6v.6h-.6zM122.9,34.6h.6v.6h-.6zM129.9,38.1h.6v.6h-.6zM129.3,51.5h.6v.6h-.6zM131.2,59.6h.6v.6h-.6zM131.0,60.3h.6v.6h-.6zM129.6,49.0h.6v.6h-.6zM130.2,56.2h.6v.6h-.6zM128.1,57.9h.6v.6h-.6zM134.7,43.8h.6v.6h-.6zM128.1,35.2h.6v.6h-.6zM132.3,54.4h.6v.6h-.6zM134.4,33.2h.6v.6h-.6zM129.1,61.6h.6v.6h-.6zM127.6,35.6h.6v.6h-.6zM128.1,51.0h.6v.6h-.6zM131.2,56.4h.6v.6h-.6zM129.3,32.6h.6v.6h-.6zM130.2,57.5h.6v.6h-.6zM131.6,58.8h.6v.6h-.6zM130.5,45.9h.6v.6h-.6zM129.6,53.4h.6v.6h-.6zM128.8,60.0h.6v.6h-.6zM135.6,37.2h.6v.6h-.6zM136.2,35.3h.6v.6h-.6zM125.1,37.3h.6v.6h-.6zM129.6,36.6h.6v.6h-.6zM130.3,59.3h.6v.6h-.6zM135.4,38.3h.6v.6h-.6zM129.4,61.1h.6v.6h-.6zM128.0,55.0h.6v.6h-.6zM128.4,57.6h.6v.6h-.6zM137.8,45.1h.6v.6h-.6zM133.7,52.3h.6v.6h-.6zM130.3,54.2h.6v.6h-.6zM132.4,56.6h.6v.6h-.6zM130.3,60.8h.6v.6h-.6zM129.1,52.4h.6v.6h-.6zM127.7,48.4h.6v.6h-.6zM131.3,35.8h.6v.6h-.6zM126.0,45.9h.6v.6h-.6zM129.7,42.8h.6v.6h-.6zM129.9,48.4h.6v.6h-.6zM123.0,36.5h.6v.6h-.6zM127.3,58.5h.6v.6h-.6zM129.2,61.0h.6v.6h-.6zM133.9,41.1h.6v.6h-.6zM131.0,32.5h.6v.6h-.6zM132.1,40.2h.6v.6h-.6zM124.9,42.6h.6v.6h-.6zM129.1,60.5h.6v.6h-.6zM128.4,57.8h.6v.6h-.6zM127.3,52.0h.6v.6h-.6zM135.0,40.7h.6v.6h-.6zM130.0,61.1h.6v.6h-.6zM130.8,48.4h.6v.6h-.6zM135.1,35.2h.6v.6h-.6zM128.6,57.0h.6v.6h-.6zM128.3,59.8h.6v.6h-.6zM129.6,61.8h.6v.6h-.6zM128.2,31.7h.6v.6h-.6zM133.9,48.9h.6v.6h-.6zM132.3,56.7h.6v.6h-.6zM131.2,32.0h.6v.6h-.6zM131.3,56.9h.6v.6h-.6zM133.0,34.7h.6v.6h-.6zM129.5,58.4h.6v.6h-.6zM124.8,47.3h.6v.6h-.6zM135.4,33.6h.6v.6h-.6zM132.5,39.8h.6v.6h-.6zM132.2,51.7h.6v.6h-.6zM129.5,51.5h.6v.6h-.6zM128.7,36.5h.6v.6h-.6zM123.3,42.5h.6v.6h-.6zM129.9,59.0h.6v.6h-.6zM132.3,36.4h.6v.6h-.6zM122.1,36.1h.6v.6h-.6zM124.9,36.5h.6v.6h-.6zM124.7,46.9h.6v.6h-.6zM126.7,44.1h.6v.6h-.6zM130.8,48.1h.6v.6h-.6zM129.7,44.4h.6v.6h-.6zM129.8,38.8h.6v.6h-.6zM128.6,56.6h.6v.6h-.6zM134.4,38.9h.6v.6h-.6zM132.6,43.4h.6v.6h-.6zM129.9,41.8h.6v.6h-.6zM127.8,52.0h.6v.6h-.6zM127.8,57.0h.6v.6h-.6zM130.4,59.7h.6v.6h-.6zM130.2,50.0h.6v.6h-.6zM131.4,34.1h.6v.6h-.6zM135.9,41.7h.6v.6h-.6zM133.1,44.5h.6v.6h-.6zM128.7,36.3h.6v.6h-.6zM124.5,40.9h.6v.6h-.6zM132.0,36.6h.6v.6h-.6zM130.3,57.4h.6v.6h-.6zM132.3,51.3h.6v.6h-.6zM134.4,33.4h.6v.6h-.6zM128.4,47.0h.6v.6h-.6zM131.0,54.2h.6v.6h-.6zM128.3,53.4h.6v.6h-.6zM129.8,52.0h.6v.6h-.6zM128.4,44.8h.6v.6h-.6zM129.4,59.0h.6v.6h-.6zM131.2,31.7h.6v.6h-.6zM134.6,37.6h.6v.6h-.6zM124.7,34.3h.6v.6h-.6zM130.4,52.0h.6v.6h-.6zM132.8,52.5h.6v.6h-.6zM130.5,44.7h.6v.6h-.6zM130.7,48.1h.6v.6h-.6zM130.1,61.7h.6v.6h-.6zM128.5,46.9h.6v.6h-.6zM131.6,46.4h.6v.6h-.6zM135.2,46.7h.6v.6h-.6zM128.8,56.2h.6v.6h-.6zM127.0,35.9h.6v.6h-.6zM130.1,52.4h.6v.6h-.6zM126.5,53.3h.6v.6h-.6zM131.5,55.9h.6v.6h-.6zM132.3,33.2h.6v.6h-.6zM129.1,49.3h.6v.6h-.6zM127.4,52.7h.6v.6h-.6zM128.6,42.7h.6v.6h-.6zM129.4,61.3h.6v.6h-.6zM131.5,44.9h.6v.6h-.6zM130.0,53.7h.6v.6h-.6zM129.4,57.9h.6v.6h-.6zM129.3,58.1h.6v.6h-.6zM131.9,53.4h.6v.6h-.6zM131.8,52.0h.6v.6h-.6zM132.6,31.7h.6v.6h-.6zM130.4,58.2h.6v.6h-.6zM129.6,61.9h.6v.6h-.6zM134.6,55.5h.6v.6h-.6zM134.6,49.5h.6v.6h-.6zM129.6,60.4h.6v.6h-.6zM131.1,48.8h.6v.6h-.6zM134.3,46.3h.6v.6h-.6zM125.3,41.9h.6v.6h-.6zM132.7,49.5h.6v.6h-.6zM128.6,38.4h.6v.6h-.6zM134.2,46.9h.6v.6h-.6zM127.9,44.3h.6v.6h-.6zM127.3,47.8h.6v.6h-.6zM130.6,40.0h.6v.6h-.6zM126.4,55.3h.6v.6h-.6zM129.5,47.3h.6v.6h-.6zM123.0,40.4h.6v.6h-.6zM132.0,56.5h.6v.6h-.6zM129.1,46.3h.6v.6h-.6zM126.4,45.3h.6v.6h-.6zM127.9,42.5h.6v.6h-.6zM132.2,54.5h.6v.6h-.6zM130.5,53.9h.6v.6h-.6zM131.7,55.4h.6v.6h-.6zM127.9,51.5h.6v.6h-.6zM126.3,52.7h.6v.6h-.6zM134.1,39.9h.6v.6h-.6zM131.6,32.6h.6v.6h-.6zM128.7,60.8h.6v.6h-.6zM129.7,61.0h.6v.6h-.6zM130.3,56.1h.6v.6h-.6zM133.9,34.9h.6v.6h-.6zM129.8,55.8h.6v.6h-.6zM123.8,42.8h.6v.6h-.6zM121.6,39.8h.6v.6h-.6zM130.2,58.8h.6v.6h-.6zM131.4,57.4h.6v.6h-.6zM125.7,44.4h.6v.6h-.6zM132.8,41.1h.6v.6h-.6zM129.1,36.4h.6v.6h-.6zM128.4,57.5h.6v.6h-.6zM129.1,58.7h.6v.6h-.6zM130.7,55.1h.6v.6h-.6zM137.3,43.0h.6v.6h-.6zM136.3,45.0h.6v.6h-.6zM126.5,43.7h.6v.6h-.6zM129.6,32.2h.6v.6h-.6zM129.0,43.5h.6v.6h-.6zM130.1,42.9h.6v.6h-.6zM128.2,54.7h.6v.6h-.6zM134.1,50.6h.6v.6h-.6zM137.0,37.3h.6v.6h-.6zM130.4,50.2h.6v.6h-.6zM132.7,40.5h.6v.6h-.6zM126.9,49.4h.6v.6h-.6zM129.3,32.7h.6v.6h-.6zM125.3,41.5h.6v.6h-.6zM125.1,47.1h.6v.6h-.6zM130.6,35.3h.6v.6h-.6zM133.5,44.3h.6v.6h-.6zM131.6,42.6h.6v.6h-.6zM129.8,61.6h.6v.6h-.6zM131.9,38.9h.6v.6h-.6zM127.6,49.5h.6v.6h-.6zM138.1,43.1h.6v.6h-.6zM131.7,39.8h.6v.6h-.6zM131.4,43.2h.6v.6h-.6zM123.4,38.5h.6v.6h-.6zM127.7,57.2h.6v.6h-.6zM124.4,48.3h.6v.6h-.6zM135.1,34.8h.6v.6h-.6zM129.7,39.5h.6v.6h-.6zM129.5,61.8h.6v.6h-.6zM127.0,34.4h.6v.6h-.6zM131.2,31.7h.6v.6h-.6zM133.4,34.4h.6v.6h-.6zM131.9,44.8h.6v.6h-.6zM127.9,47.0h.6v.6h-.6zM135.5,47.3h.6v.6h-.6zM130.2,61.4h.6v.6h-.6zM133.8,46.6h.6v.6h-.6zM131.7,42.9h.6v.6h-.6zM129.2,58.3h.6v.6h-.6zM126.0,42.5h.6v.6h-.6zM134.0,48.7h.6v.6h-.6zM135.6,35.1h.6v.6h-.6zM127.2,51.6h.6v.6h-.6zM128.7,41.6h.6v.6h-.6zM129.0,57.3h.6v.6h-.6zM130.7,60.7h.6v.6h-.6zM127.1,42.6h.6v.6h-.6zM130.9,51.7h.6v.6h-.6zM127.0,51.8h.6v.6h-.6zM131.3,38.7h.6v.6h-.6zM131.3,53.9h.6v.6h-.6zM131.9,32.5h.6v.6h-.6zM126.7,46.7h.6v.6h-.6zM130.2,36.9h.6v.6h-.6zM129.0,51.2h.6v.6h-.6zM127.5,51.2h.6v.6h-.6z"/>
<path fill="#444" fill-opacity="0.7" d="M131.3,58.3h.55v.55h-.55zM129.9,58.4h.55v.55h-.55zM125.4,59.3h.55v.55h-.55zM130.7,56.9h.55v.55h-.55zM125.8,47.1h.55v.55h-.55zM125.2,61.2h.55v.55h-.55zM121.9,46.8h.55v.55h-.55zM128.5,39.8h.55v.55h-.55zM128.3,58.5h.55v.55h-.55zM130.1,40.9h.55v.55h-.55zM127.6,42.4h.55v.55h-.55zM130.2,39.5h.55v.55h-.55zM132.0,56.8h.55v.55h-.55zM137.1,53.9h.55v.55h-.55zM134.2,47.7h.55v.55h-.55zM131.0,63.5h.55v.55h-.55zM126.8,49.8h.55v.55h-.55zM131.0,44.5h.55v.55h-.55zM130.6,39.3h.55v.55h-.55zM119.3,46.7h.55v.55h-.55zM127.0,51.6h.55v.55h-.55zM126.7,52.5h.55v.55h-.55zM132.8,54.9h.55v.55h-.55zM129.3,53.2h.55v.55h-.55zM126.6,56.2h.55v.55h-.55zM135.5,41.6h.55v.55h-.55zM136.2,32.3h.55v.55h-.55zM120.5,55.2h.55v.55h-.55zM130.0,37.9h.55v.55h-.55zM127.8,53.5h.55v.55h-.55zM132.2,45.4h.55v.55h-.55zM121.1,39.7h.55v.55h-.55zM131.5,59.7h.55v.55h-.55zM120.3,53.2h.55v.55h-.55zM124.8,51.4h.55v.55h-.55zM130.8,48.2h.55v.55h-.55zM127.2,34.9h.55v.55h-.55zM127.6,62.3h.55v.55h-.55zM125.1,53.5h.55v.55h-.55zM124.1,57.0h.55v.55h-.55zM126.5,50.0h.55v.55h-.55zM127.7,36.8h.55v.55h-.55zM130.3,44.7h.55v.55h-.55zM128.5,57.2h.55v.55h-.55zM126.8,38.4h.55v.55h-.55zM123.2,55.4h.55v.55h-.55zM132.8,64.8h.55v.55h-.55zM122.6,51.7h.55v.55h-.55zM128.1,44.8h.55v.55h-.55zM126.8,42.6h.55v.55h-.55zM128.2,46.7h.55v.55h-.55zM126.5,61.2h.55v.55h-.55zM123.4,50.9h.55v.55h-.55zM124.9,47.3h.55v.55h-.55zM127.3,50.2h.55v.55h-.55zM128.5,44.2h.55v.55h-.55zM130.1,41.1h.55v.55h-.55zM122.8,43.3h.55v.55h-.55zM132.6,59.8h.55v.55h-.55zM128.9,38.3h.55v.55h-.55zM129.3,42.1h.55v.55h-.55zM122.7,32.5h.55v.55h-.55zM128.2,53.4h.55v.55h-.55zM123.2,55.0h.55v.55h-.55zM129.3,54.6h.55v.55h-.55zM130.3,44.1h.55v.55h-.55zM129.1,54.1h.55v.55h-.55zM125.1,47.6h.55v.55h-.55zM122.3,51.6h.55v.55h-.55zM122.9,53.5h.55v.55h-.55zM127.9,48.7h.55v.55h-.55zM130.0,47.7h.55v.55h-.55zM134.5,53.3h.55v.55h-.55zM122.8,45.8h.55v.55h-.55zM121.0,60.9h.5v.5h-.5zM121.8,60.0h.5v.5h-.5zM121.1,57.5h.5v.5h-.5zM124.8,54.1h.5v.5h-.5zM123.3,49.1h.5v.5h-.5zM124.8,59.4h.5v.5h-.5zM120.4,57.1h.5v.5h-.5zM125.6,49.7h.5v.5h-.5zM126.6,62.4h.5v.5h-.5zM119.5,52.1h.5v.5h-.5zM119.8,52.2h.5v.5h-.5zM119.8,56.1h.5v.5h-.5zM121.3,53.0h.5v.5h-.5zM123.2,54.1h.5v.5h-.5zM126.1,59.9h.5v.5h-.5zM120.0,51.7h.5v.5h-.5zM119.1,53.4h.5v.5h-.5zM120.0,59.5h.5v.5h-.5zM126.0,64.4h.5v.5h-.5zM120.9,48.6h.5v.5h-.5zM125.8,54.8h.5v.5h-.5zM127.4,54.5h.5v.5h-.5zM121.8,49.2h.5v.5h-.5zM127.5,56.5h.5v.5h-.5zM123.0,55.2h.5v.5h-.5zM125.9,61.7h.5v.5h-.5zM123.3,50.9h.5v.5h-.5zM122.7,62.7h.5v.5h-.5zM122.7,58.9h.5v.5h-.5zM124.0,55.6h.5v.5h-.5zM124.2,52.0h.5v.5h-.5zM124.0,62.3h.5v.5h-.5zM119.7,54.1h.5v.5h-.5zM126.9,64.1h.5v.5h-.5zM119.1,58.3h.5v.5h-.5zM124.7,61.9h.5v.5h-.5zM123.2,50.2h.5v.5h-.5zM121.7,59.8h.5v.5h-.5zM125.6,51.4h.5v.5h-.5zM124.8,58.8h.5v.5h-.5zM124.9,48.4h.5v.5h-.5zM123.0,53.4h.5v.5h-.5zM124.4,53.6h.5v.5h-.5zM120.2,59.1h.5v.5h-.5zM121.6,61.0h.5v.5h-.5z"/>
<line x1="118.3" y1="47.3" x2="143.6" y2="47.3" stroke="#b0303f" stroke-opacity="0.55" stroke-width="0.6"/>
<line x1="131.6" y1="24" x2="131.6" y2="32" stroke="#666" stroke-width="0.4" />
<g class="lt">
<text x="84.4" y="30.6" font-size="6.5" text-anchor="start" fill="#222" color="#222" font-weight="normal" textLength="7.4" lengthAdjust="spacingAndGlyphs" >10</text>
<text class="sm" x="92.2" y="27.6" font-size="4.2" text-anchor="start" fill="#222" color="#222" font-weight="normal" >5</text>
<text x="84.4" y="67.9" font-size="6.5" text-anchor="start" fill="#222" color="#222" font-weight="normal" textLength="7.4" lengthAdjust="spacingAndGlyphs" >10</text>
<text class="sm" x="92.2" y="64.9" font-size="4.2" text-anchor="start" fill="#222" color="#222" font-weight="normal" >0</text>
<text x="100.3" y="78.4" font-size="6.5" text-anchor="start" fill="#222" color="#222" font-weight="normal" textLength="6.9" lengthAdjust="spacingAndGlyphs" >10</text>
<text class="sm" x="107.4" y="75.4" font-size="4.2" text-anchor="start" fill="#222" color="#222" font-weight="normal" >0</text>
<text x="138.6" y="78.4" font-size="6.5" text-anchor="start" fill="#222" color="#222" font-weight="normal" textLength="6.9" lengthAdjust="spacingAndGlyphs" >10</text>
<text class="sm" x="145.7" y="75.4" font-size="4.2" text-anchor="start" fill="#222" color="#222" font-weight="normal" >5</text>
</g>
<text class="md" x="114.3" y="89.1" font-size="8.8" text-anchor="start" fill="#222" color="#222" font-weight="normal" textLength="16.9" lengthAdjust="spacingAndGlyphs" >CD19</text>
<text class="md" transform="translate(81,46.2) rotate(-90)" font-size="8.6" text-anchor="middle" fill="#222" textLength="12.4" lengthAdjust="spacingAndGlyphs">NG2</text>
<line x1="146" y1="42.3" x2="150.4" y2="38.9" stroke="#6a2030" stroke-width="0.75" />
<line x1="146" y1="51.4" x2="150.4" y2="55.4" stroke="#1c2c44" stroke-width="0.75" />
<text x="153.2" y="41.3" font-size="7.1" text-anchor="start" fill="#c8324f" color="#c8324f" font-weight="normal" textLength="12.9" lengthAdjust="spacingAndGlyphs" >NG2</text>
<text class="sm" x="166.0" y="38.4" font-size="4.5" text-anchor="start" fill="#c8324f" color="#c8324f" font-weight="normal" textLength="9.0" lengthAdjust="spacingAndGlyphs" >POS</text>
<text x="153.2" y="58.4" font-size="7.1" text-anchor="start" fill="#3d6fa8" color="#3d6fa8" font-weight="normal" textLength="12.9" lengthAdjust="spacingAndGlyphs" >NG2</text>
<text class="sm" x="166.0" y="55.5" font-size="4.5" text-anchor="start" fill="#3d6fa8" color="#3d6fa8" font-weight="normal" textLength="9.0" lengthAdjust="spacingAndGlyphs" >NEG</text>
<text x="181" y="58.3" font-size="6.9" text-anchor="start" fill="#222" color="#222" font-weight="normal" textLength="51.8" lengthAdjust="spacingAndGlyphs" >MLLr B-ALL blasts</text>
<g transform="translate(345.5,34.0) rotate(-51)"><text font-size="6.6" fill="#333" textLength="14.5" lengthAdjust="spacingAndGlyphs">NG2</text><text x="14.9" y="-2.4" font-size="3.6" fill="#333">WT</text></g>
<g transform="translate(357.8,34.0) rotate(-51)"><text font-size="6.6" fill="#333" textLength="14.5" lengthAdjust="spacingAndGlyphs">NG2</text><text x="14.9" y="-2.4" font-size="3.6" fill="#333">KO</text></g>
<defs><filter id="bl2" x="-30%" y="-60%" width="160%" height="220%"><feGaussianBlur stdDeviation="0.6"/></filter></defs>
<rect x="338.2" y="37.5" width="24.4" height="16" fill="#c9c9c9" stroke="#505050" stroke-width="1.1"/>
<ellipse cx="345.8" cy="47.5" rx="3.6" ry="0.9" fill="#3a3a3a" filter="url(#bl2)"/>
<ellipse cx="343.6" cy="47.5" rx="1.7" ry="1.1" fill="#111" filter="url(#bl2)"/>
<rect x="338.2" y="55.3" width="24.4" height="20.2" fill="#9a9a9a" stroke="#333" stroke-width="1.1"/>
<g filter="url(#bl2)">
<rect x="340.9" y="56.2" width="7.9" height="18.6" fill="#858585"/><rect x="351.1" y="56.2" width="8.4" height="18.6" fill="#858585"/>
<rect x="340.9" y="58.3" width="7.9" height="3" fill="#666"/><rect x="351.1" y="58.3" width="8.4" height="3" fill="#666"/>
<rect x="340.6" y="64.3" width="8.4" height="2.3" fill="#1e1e1e"/><rect x="350.9" y="64.3" width="8.8" height="2.3" fill="#1e1e1e"/>
<rect x="340.9" y="68.6" width="7.9" height="1.6" fill="#777"/><rect x="351.1" y="68.6" width="8.4" height="1.6" fill="#777"/>
<rect x="340.9" y="72.2" width="7.9" height="1.8" fill="#6e6e6e"/><rect x="351.1" y="72.2" width="8.4" height="1.8" fill="#6e6e6e"/>
<circle cx="342.6" cy="73.2" r="0.9" fill="#222"/>
<rect x="349.4" y="56" width="1.5" height="19" fill="#b8b8b8"/>
<rect x="339" y="56" width="1.3" height="19" fill="#b3b3b3"/><rect x="360.3" y="56" width="1.4" height="19" fill="#b3b3b3"/>
</g>
<line x1="362.6" y1="46.6" x2="365.6" y2="46.6" stroke="#222" stroke-width="0.8" />
<line x1="362.6" y1="65.1" x2="365.6" y2="65.1" stroke="#222" stroke-width="0.8" />
<text x="321.6" y="47.9" font-size="7.1" text-anchor="start" fill="#222" color="#222" font-weight="normal" textLength="13.4" lengthAdjust="spacingAndGlyphs" >NG2</text>
<text x="320.9" y="64.1" font-size="7.1" text-anchor="start" fill="#222" color="#222" font-weight="normal" textLength="14.2" lengthAdjust="spacingAndGlyphs" >Total</text>
<text x="315.2" y="71.7" font-size="7.1" text-anchor="start" fill="#222" color="#222" font-weight="normal" textLength="19.9" lengthAdjust="spacingAndGlyphs" >protein</text>
<text x="368.2" y="48.7" font-size="7.0" text-anchor="start" fill="#222" color="#222" font-weight="normal" textLength="23.6" lengthAdjust="spacingAndGlyphs" >250 kDa</text>
<text x="368.2" y="66.9" font-size="7.0" text-anchor="start" fill="#222" color="#222" font-weight="normal" textLength="19.8" lengthAdjust="spacingAndGlyphs" >50 kDa</text>
<g stroke="#7384ad" stroke-width="0.65" fill="#d6e0f1">
<circle cx="399.3" cy="62.0" r="4.1"/>
<circle cx="410.4" cy="62.2" r="4.3"/>
<circle cx="404.6" cy="66.6" r="4.2"/>
<circle cx="404.6" cy="56.4" r="4.7"/>
</g>
<g fill="#b4c2df" stroke="#56699a" stroke-width="0.6">
<ellipse cx="404.6" cy="58.3" rx="2.6" ry="1.2"/>
<ellipse cx="399.8" cy="62.6" rx="2.4" ry="1.1"/>
<ellipse cx="409.6" cy="62.6" rx="2.4" ry="1.1"/>
<ellipse cx="404.6" cy="67.3" rx="2.4" ry="1.1"/>
</g>
<text x="419.4" y="64.1" font-size="7.1" text-anchor="start" fill="#222" color="#222" font-weight="normal" textLength="36.2" lengthAdjust="spacingAndGlyphs" >SEM cell line</text>
<line x1="123.1" y1="328.8" x2="130.7" y2="328.8" stroke="#c8324f" stroke-width="1"/>
<circle cx="126.89999999999999" cy="328.8" r="1.4" fill="#a0102f"/>
<text x="134.29999999999998" y="331.2" font-size="7.4" text-anchor="start" fill="#222" color="#222" font-weight="normal" textLength="13.1" lengthAdjust="spacingAndGlyphs" >NG2</text>
<text class="sm" x="147.5" y="327.90000000000003" font-size="4.5" text-anchor="start" fill="#222" color="#222" font-weight="normal" textLength="6.9" lengthAdjust="spacingAndGlyphs" >POS</text>
<line x1="123.1" y1="338.7" x2="124.39999999999999" y2="338.7" stroke="#506a90" stroke-width="1"/>
<line x1="129.4" y1="338.7" x2="130.7" y2="338.7" stroke="#506a90" stroke-width="1"/>
<rect x="125.55" y="337.34999999999997" width="2.7" height="2.7" fill="#1b2f55"/>
<text x="134.29999999999998" y="341.09999999999997" font-size="7.4" text-anchor="start" fill="#222" color="#222" font-weight="normal" textLength="13.1" lengthAdjust="spacingAndGlyphs" >NG2</text>
<text class="sm" x="147.5" y="337.8" font-size="4.5" text-anchor="start" fill="#222" color="#222" font-weight="normal" textLength="6.9" lengthAdjust="spacingAndGlyphs" >NEG</text>
<line x1="382.5" y1="328.6" x2="390.1" y2="328.6" stroke="#c8324f" stroke-width="1"/>
<circle cx="386.3" cy="328.6" r="1.4" fill="#a0102f"/>
<text x="393.7" y="331.0" font-size="7.4" text-anchor="start" fill="#222" color="#222" font-weight="normal" textLength="13.1" lengthAdjust="spacingAndGlyphs" >NG2</text>
<text class="sm" x="406.9" y="327.70000000000005" font-size="4.5" text-anchor="start" fill="#222" color="#222" font-weight="normal" textLength="5.8" lengthAdjust="spacingAndGlyphs" >WT</text>
<line x1="382.5" y1="338.6" x2="383.8" y2="338.6" stroke="#506a90" stroke-width="1"/>
<line x1="388.8" y1="338.6" x2="390.1" y2="338.6" stroke="#506a90" stroke-width="1"/>
<rect x="384.95" y="337.25" width="2.7" height="2.7" fill="#1b2f55"/>
<text x="393.7" y="341.0" font-size="7.4" text-anchor="start" fill="#222" color="#222" font-weight="normal" textLength="13.1" lengthAdjust="spacingAndGlyphs" >NG2</text>
<text class="sm" x="406.9" y="337.70000000000005" font-size="4.5" text-anchor="start" fill="#222" color="#222" font-weight="normal" textLength="5.8" lengthAdjust="spacingAndGlyphs" >KO</text>
<g class="lt">
<line x1="30.3" y1="390.6" x2="52.6" y2="390.6" stroke="#333" stroke-width="1.3" />
<line x1="53.6" y1="390.6" x2="90.5" y2="390.6" stroke="#333" stroke-width="1.3" stroke-dasharray="1.6,1.6"/>
<line x1="91.1" y1="390.6" x2="300.1" y2="390.6" stroke="#333" stroke-width="1.1" />
<line x1="30.3" y1="383.8" x2="30.3" y2="398" stroke="#3a3a3a" stroke-width="0.8" />
<line x1="52.6" y1="383.8" x2="52.6" y2="398" stroke="#3a3a3a" stroke-width="0.8" />
<line x1="91.1" y1="383.8" x2="91.1" y2="398" stroke="#3a3a3a" stroke-width="0.8" />
<line x1="109.8" y1="383.8" x2="109.8" y2="398" stroke="#3a3a3a" stroke-width="0.8" />
<line x1="130.3" y1="383.8" x2="130.3" y2="398" stroke="#3a3a3a" stroke-width="0.8" />
<line x1="144.45000000000002" y1="383.8" x2="144.45000000000002" y2="398" stroke="#3a3a3a" stroke-width="0.8" />
<line x1="158.60000000000002" y1="383.8" x2="158.60000000000002" y2="398" stroke="#3a3a3a" stroke-width="0.8" />
<line x1="172.75" y1="383.8" x2="172.75" y2="398" stroke="#3a3a3a" stroke-width="0.8" />
<line x1="186.9" y1="383.8" x2="186.9" y2="398" stroke="#3a3a3a" stroke-width="0.8" />
<line x1="201.05" y1="383.8" x2="201.05" y2="398" stroke="#3a3a3a" stroke-width="0.8" />
<line x1="215.20000000000002" y1="383.8" x2="215.20000000000002" y2="398" stroke="#3a3a3a" stroke-width="0.8" />
<line x1="229.35000000000002" y1="383.8" x2="229.35000000000002" y2="398" stroke="#3a3a3a" stroke-width="0.8" />
<line x1="243.5" y1="383.8" x2="243.5" y2="398" stroke="#3a3a3a" stroke-width="0.8" />
<line x1="257.65000000000003" y1="383.8" x2="257.65000000000003" y2="398" stroke="#3a3a3a" stroke-width="0.8" />
<line x1="271.8" y1="383.8" x2="271.8" y2="398" stroke="#3a3a3a" stroke-width="0.8" />
<line x1="285.95000000000005" y1="383.8" x2="285.95000000000005" y2="398" stroke="#3a3a3a" stroke-width="0.8" />
<line x1="300.1" y1="383.8" x2="300.1" y2="398" stroke="#3a3a3a" stroke-width="0.8" />
<text x="41.3" y="378.9" font-size="6.9" text-anchor="start" fill="#222" color="#222" font-weight="normal" textLength="22.4" lengthAdjust="spacingAndGlyphs" >3-weeks</text>
<text x="78.5" y="378.9" font-size="6.9" text-anchor="start" fill="#222" color="#222" font-weight="normal" textLength="23.6" lengthAdjust="spacingAndGlyphs" >4-weeks</text>
<text x="109.9" y="378.9" font-size="7.0" text-anchor="middle" fill="#222" color="#222" font-weight="normal" textLength="8.4" lengthAdjust="spacingAndGlyphs" >D0</text>
<text x="130.3" y="378.9" font-size="7.0" text-anchor="middle" fill="#222" color="#222" font-weight="normal" textLength="8.4" lengthAdjust="spacingAndGlyphs" >D1</text>
<text x="144.45000000000002" y="378.9" font-size="7.0" text-anchor="middle" fill="#222" color="#222" font-weight="normal" textLength="8.4" lengthAdjust="spacingAndGlyphs" >D2</text>
<text x="158.60000000000002" y="378.9" font-size="7.0" text-anchor="middle" fill="#222" color="#222" font-weight="normal" textLength="8.4" lengthAdjust="spacingAndGlyphs" >D3</text>
<text x="172.75" y="378.9" font-size="7.0" text-anchor="middle" fill="#222" color="#222" font-weight="normal" textLength="8.4" lengthAdjust="spacingAndGlyphs" >D4</text>
<text x="186.9" y="378.9" font-size="7.0" text-anchor="middle" fill="#222" color="#222" font-weight="normal" textLength="8.4" lengthAdjust="spacingAndGlyphs" >D5</text>
<text x="201.05" y="378.9" font-size="7.0" text-anchor="middle" fill="#222" color="#222" font-weight="normal" textLength="8.4" lengthAdjust="spacingAndGlyphs" >D6</text>
<text x="215.20000000000002" y="378.9" font-size="7.0" text-anchor="middle" fill="#222" color="#222" font-weight="normal" textLength="8.4" lengthAdjust="spacingAndGlyphs" >D7</text>
<text x="229.35000000000002" y="378.9" font-size="7.0" text-anchor="middle" fill="#222" color="#222" font-weight="normal" textLength="8.4" lengthAdjust="spacingAndGlyphs" >D8</text>
<text x="243.5" y="378.9" font-size="7.0" text-anchor="middle" fill="#222" color="#222" font-weight="normal" textLength="8.4" lengthAdjust="spacingAndGlyphs" >D9</text>
<text x="257.65000000000003" y="378.9" font-size="7.0" text-anchor="middle" fill="#222" color="#222" font-weight="normal" textLength="12.2" lengthAdjust="spacingAndGlyphs" >D10</text>
<text x="271.8" y="378.9" font-size="7.0" text-anchor="middle" fill="#222" color="#222" font-weight="normal" textLength="12.2" lengthAdjust="spacingAndGlyphs" >D11</text>
<text x="285.95000000000005" y="378.9" font-size="7.0" text-anchor="middle" fill="#222" color="#222" font-weight="normal" textLength="12.2" lengthAdjust="spacingAndGlyphs" >D12</text>
<text x="300.1" y="378.9" font-size="7.0" text-anchor="middle" fill="#222" color="#222" font-weight="normal" textLength="12.2" lengthAdjust="spacingAndGlyphs" >D13</text>
<text x="55.8" y="401.6" font-size="6.9" text-anchor="start" fill="#222" color="#222" font-weight="normal" textLength="32.4" lengthAdjust="spacingAndGlyphs" >Monitoring</text>
<text x="52.0" y="408.9" font-size="6.9" text-anchor="start" fill="#222" color="#222" font-weight="normal" textLength="39.8" lengthAdjust="spacingAndGlyphs" >% blasts in PB</text>
<text x="98.2" y="405.2" font-size="6.9" text-anchor="start" fill="#222" color="#222" font-weight="normal" textLength="23.4" lengthAdjust="spacingAndGlyphs" >Blasts in</text>
<text x="98.6" y="412.8" font-size="6.9" text-anchor="start" fill="#222" color="#222" font-weight="normal" textLength="22.7" lengthAdjust="spacingAndGlyphs" >PB &gt;3%</text>
<line x1="129.1" y1="401" x2="185.2" y2="401" stroke="#d8607e" stroke-width="1.2" />
<path d="M187.2,401 L184.2,399.6 L184.2,402.4 Z" fill="#a81a3a"/>
<line x1="229.0" y1="401" x2="283.9" y2="401" stroke="#d8607e" stroke-width="1.2" />
<path d="M285.9,401 L282.9,399.6 L282.9,402.4 Z" fill="#a81a3a"/>
<text x="126.8" y="409.9" font-size="6.8" text-anchor="start" fill="#c0385a" color="#c0385a" font-weight="normal" textLength="74.3" lengthAdjust="spacingAndGlyphs" >Dexamethasone: 5 mg/kg</text>
<text x="126.8" y="417.8" font-size="6.8" text-anchor="start" fill="#c0385a" color="#c0385a" font-weight="normal" textLength="78.1" lengthAdjust="spacingAndGlyphs" >L-Asparaginase: 1000 U/kg</text>
<text x="223.9" y="409.9" font-size="6.8" text-anchor="start" fill="#c0385a" color="#c0385a" font-weight="normal" textLength="74.0" lengthAdjust="spacingAndGlyphs" >Dexamethasone: 5 mg/kg</text>
<text x="223.9" y="417.8" font-size="6.8" text-anchor="start" fill="#c0385a" color="#c0385a" font-weight="normal" textLength="79.7" lengthAdjust="spacingAndGlyphs" >L-Asparraginasa: 1000 U/kg</text>
<line x1="130.4" y1="432.4" x2="130.4" y2="423.5" stroke="#a81a3a" stroke-width="0.8" />
<path d="M130.4,421.4 L129.1,424.3 L131.70000000000002,424.3 Z" fill="#a81a3a"/>
<line x1="229.4" y1="432.4" x2="229.4" y2="423.5" stroke="#a81a3a" stroke-width="0.8" />
<path d="M229.4,421.4 L228.1,424.3 L230.70000000000002,424.3 Z" fill="#a81a3a"/>
<text x="96.9" y="439.8" font-size="6.8" text-anchor="start" fill="#c0385a" color="#c0385a" font-weight="normal" textLength="66.5" lengthAdjust="spacingAndGlyphs" >Vincristine: 0.15 mg/kg</text>
<text x="195.5" y="439.8" font-size="6.8" text-anchor="start" fill="#c0385a" color="#c0385a" font-weight="normal" textLength="67.5" lengthAdjust="spacingAndGlyphs" >Vincristine: 0.15 mg/kg</text>
<line x1="300.1" y1="401.2" x2="300.1" y2="405.6" stroke="#333" stroke-width="0.6" />
<line x1="299.2" y1="402.4" x2="301.0" y2="402.4" stroke="#333" stroke-width="0.5" />
<g fill="none" stroke="#8a8a8a" stroke-width="0.6" stroke-linecap="round" stroke-linejoin="round">
<path d="M18.2,409.6 Q19.5,406.2 23.3,404.6 Q27.5,402.6 32.5,403.1 Q36.5,403.8 37.8,407.6 Q38.3,410.6 36.5,411.3 L20.2,411.3 Q18,411 18.2,409.6 Z"/>
<circle cx="25.8" cy="403.4" r="2.2" fill="#fff"/>
<path d="M37.8,409.6 L43,409.6 Q47.6,409.6 47.9,407.4 Q48,405.8 46.7,405.6"/>
</g>
<circle cx="21" cy="408" r="0.5" fill="#666"/>
<text x="20.8" y="423.0" font-size="7.0" text-anchor="start" fill="#222" color="#222" font-weight="normal" textLength="19.1" lengthAdjust="spacingAndGlyphs" ><tspan font-style="italic">n</tspan> = 30</text>
<text x="20.8" y="432.2" font-size="7.0" text-anchor="start" fill="#222" color="#222" font-weight="normal" textLength="13.4" lengthAdjust="spacingAndGlyphs" >NG2</text>
<text class="sm" x="34.3" y="429.0" font-size="4.3" text-anchor="start" fill="#222" color="#222" font-weight="normal" textLength="5.6" lengthAdjust="spacingAndGlyphs" >WT</text>
<text x="20.8" y="442.2" font-size="7.0" text-anchor="start" fill="#4b5ba6" color="#4b5ba6" font-weight="normal" textLength="13.4" lengthAdjust="spacingAndGlyphs" >NG2</text>
<text class="sm" x="34.3" y="439.0" font-size="4.3" text-anchor="start" fill="#4b5ba6" color="#4b5ba6" font-weight="normal" textLength="5.6" lengthAdjust="spacingAndGlyphs" >KO</text>
<text x="22.4" y="451.6" font-size="7.0" text-anchor="start" fill="#222" color="#222" font-weight="normal" textLength="14.9" lengthAdjust="spacingAndGlyphs" >250K</text>
<text x="26.5" y="458.8" font-size="7.0" text-anchor="start" fill="#222" color="#222" font-weight="normal" textLength="8.3" lengthAdjust="spacingAndGlyphs" >i.v.</text>
<text x="55.8" y="430.4" font-size="7.0" text-anchor="start" fill="#222" color="#222" font-weight="normal" textLength="21.5" lengthAdjust="spacingAndGlyphs" >Groups</text>
<line x1="55.8" y1="431.8" x2="77.3" y2="431.8" stroke="#333" stroke-width="0.45" />
<text x="55.8" y="439.6" font-size="7.0" text-anchor="start" fill="#222" color="#222" font-weight="normal" textLength="31.5" lengthAdjust="spacingAndGlyphs" >Ctrl (n = 5)</text>
<text x="55.8" y="449.2" font-size="7.0" text-anchor="start" fill="#222" color="#222" font-weight="normal" textLength="31.8" lengthAdjust="spacingAndGlyphs" >VXL (n = 5)</text>
<text x="55.8" y="456.5" font-size="7.0" text-anchor="start" fill="#222" color="#222" font-weight="normal" textLength="29.2" lengthAdjust="spacingAndGlyphs" >DX (n = 5)</text>
</g>
<text class="md" transform="translate(341.4,438.3) rotate(-90)" font-size="8.0" text-anchor="middle" fill="#222" textLength="35" lengthAdjust="spacingAndGlyphs">% SEM cells</text>
<line x1="359.3" y1="392.2" x2="359.3" y2="484.40000000000003" stroke="#2a2a2a" stroke-width="1.1" />
<line x1="358.8" y1="483.8" x2="418.3" y2="483.8" stroke="#2a2a2a" stroke-width="1.1" />
<line x1="356.3" y1="483.8" x2="359.3" y2="483.8" stroke="#2a2a2a" stroke-width="0.9" />
<text x="353.7" y="486.2" font-size="6.6" text-anchor="end" fill="#222" color="#222" font-weight="normal" textLength="3.6" lengthAdjust="spacingAndGlyphs" >0</text>
<line x1="356.3" y1="466.15000000000003" x2="359.3" y2="466.15000000000003" stroke="#2a2a2a" stroke-width="0.9" />
<text x="353.7" y="468.55" font-size="6.6" text-anchor="end" fill="#222" color="#222" font-weight="normal" textLength="7.3" lengthAdjust="spacingAndGlyphs" >10</text>
<line x1="356.3" y1="448.5" x2="359.3" y2="448.5" stroke="#2a2a2a" stroke-width="0.9" />
<text x="353.7" y="450.9" font-size="6.6" text-anchor="end" fill="#222" color="#222" font-weight="normal" textLength="7.3" lengthAdjust="spacingAndGlyphs" >20</text>
<line x1="356.3" y1="430.85" x2="359.3" y2="430.85" stroke="#2a2a2a" stroke-width="0.9" />
<text x="353.7" y="433.25" font-size="6.6" text-anchor="end" fill="#222" color="#222" font-weight="normal" textLength="7.3" lengthAdjust="spacingAndGlyphs" >30</text>
<line x1="356.3" y1="413.20000000000005" x2="359.3" y2="413.20000000000005" stroke="#2a2a2a" stroke-width="0.9" />
<text x="353.7" y="415.6" font-size="6.6" text-anchor="end" fill="#222" color="#222" font-weight="normal" textLength="7.3" lengthAdjust="spacingAndGlyphs" >40</text>
<line x1="356.3" y1="395.55" x2="359.3" y2="395.55" stroke="#2a2a2a" stroke-width="0.9" />
<text x="353.7" y="397.95" font-size="6.6" text-anchor="end" fill="#222" color="#222" font-weight="normal" textLength="7.3" lengthAdjust="spacingAndGlyphs" >50</text>
<line x1="369.3" y1="483.8" x2="369.3" y2="486.2" stroke="#2a2a2a" stroke-width="0.9" />
<text x="369.3" y="495.7" font-size="6.4" text-anchor="middle" fill="#222" color="#222" font-weight="normal" textLength="10.2" lengthAdjust="spacingAndGlyphs" >Ctrl</text>
<line x1="389.0" y1="483.8" x2="389.0" y2="486.2" stroke="#2a2a2a" stroke-width="0.9" />
<text x="389.0" y="495.7" font-size="6.4" text-anchor="middle" fill="#222" color="#222" font-weight="normal" textLength="11.2" lengthAdjust="spacingAndGlyphs" >VXL</text>
<line x1="408.7" y1="483.8" x2="408.7" y2="486.2" stroke="#2a2a2a" stroke-width="0.9" />
<text x="408.7" y="495.7" font-size="6.4" text-anchor="middle" fill="#222" color="#222" font-weight="normal" textLength="8.0" lengthAdjust="spacingAndGlyphs" >DX</text>
<text class="md" x="375.3" y="383.8" font-size="8.6" text-anchor="start" fill="#222" color="#222" font-weight="normal" textLength="17.6" lengthAdjust="spacingAndGlyphs" >NG2</text>
<text class="sm" x="392.90000000000003" y="380.2" font-size="4.6" text-anchor="start" fill="#222" color="#222" font-weight="normal" textLength="9.1" lengthAdjust="spacingAndGlyphs" >WT</text>
<line x1="369.2" y1="398.79999999999995" x2="369.2" y2="396.4" stroke="#555" stroke-width="0.7" />
<line x1="369.2" y1="396.4" x2="408.7" y2="396.4" stroke="#555" stroke-width="0.7" />
<line x1="408.7" y1="396.4" x2="408.7" y2="398.79999999999995" stroke="#555" stroke-width="0.7" />
<text x="388.95" y="394.5" font-size="6.2" text-anchor="middle" fill="#333" color="#333" font-weight="normal" >n.s</text>
<line x1="369.2" y1="411.7" x2="369.2" y2="409.3" stroke="#555" stroke-width="0.7" />
<line x1="369.2" y1="409.3" x2="389.1" y2="409.3" stroke="#555" stroke-width="0.7" />
<line x1="389.1" y1="409.3" x2="389.1" y2="436.1" stroke="#555" stroke-width="0.7" />
<path d="M389.1,438.8 L387.5,435.3 L390.70000000000005,435.3 Z" fill="#111"/>
<text x="378.95" y="409.90000000000003" font-size="6.5" text-anchor="middle" fill="#333" color="#333" font-weight="normal" >***</text>
<text x="391.7" y="433.0" font-size="6.4" text-anchor="start" fill="#333" color="#333" font-weight="normal" textLength="6.6" lengthAdjust="spacingAndGlyphs" >x2</text>
<circle cx="369.2" cy="415.7" r="1.85" fill="#c0102f"/>
<circle cx="369.2" cy="424.3" r="1.85" fill="#c0102f"/>
<circle cx="365.2" cy="431.5" r="1.85" fill="#c0102f"/>
<circle cx="369.2" cy="432.5" r="1.85" fill="#c0102f"/>
<circle cx="373.4" cy="432.5" r="1.85" fill="#c0102f"/>
<line x1="363.3" y1="427.5" x2="375.9" y2="427.5" stroke="#a0102c" stroke-width="0.9" />
<line x1="369.6" y1="424.2" x2="369.6" y2="430.8" stroke="#a0102c" stroke-width="0.7" />
<line x1="367.40000000000003" y1="424.2" x2="371.8" y2="424.2" stroke="#a0102c" stroke-width="0.7" />
<line x1="367.40000000000003" y1="430.8" x2="371.8" y2="430.8" stroke="#a0102c" stroke-width="0.7" />
<rect x="384.65" y="450.34999999999997" width="2.7" height="2.7" fill="#e4899a"/>
<rect x="390.34999999999997" y="448.04999999999995" width="2.7" height="2.7" fill="#e4899a"/>
<rect x="384.65" y="457.95" width="2.7" height="2.7" fill="#e4899a"/>
<rect x="390.34999999999997" y="459.25" width="2.7" height="2.7" fill="#e4899a"/>
<rect x="387.54999999999995" y="466.45" width="2.7" height="2.7" fill="#e4899a"/>
<line x1="383.0" y1="457.4" x2="395.2" y2="457.4" stroke="#c4566c" stroke-width="0.9" />
<line x1="389.1" y1="453.8" x2="389.1" y2="461.0" stroke="#c4566c" stroke-width="0.7" />
<line x1="386.90000000000003" y1="453.8" x2="391.3" y2="453.8" stroke="#c4566c" stroke-width="0.7" />
<line x1="386.90000000000003" y1="461.0" x2="391.3" y2="461.0" stroke="#c4566c" stroke-width="0.7" />
<path d="M408.3,400.7 L410.2,404.15 L406.40000000000003,404.15 Z" fill="#eba3ae"/>
<path d="M405.6,406.0 L407.5,409.45 L403.70000000000005,409.45 Z" fill="#eba3ae"/>
<path d="M411.5,406.0 L413.4,409.45 L409.6,409.45 Z" fill="#eba3ae"/>
<path d="M408.3,430.8 L410.2,434.25 L406.40000000000003,434.25 Z" fill="#eba3ae"/>
<path d="M408.3,443.4 L410.2,446.84999999999997 L406.40000000000003,446.84999999999997 Z" fill="#eba3ae"/>
<line x1="402.4" y1="418.9" x2="415.0" y2="418.9" stroke="#cf7385" stroke-width="0.9" />
<line x1="408.7" y1="410.8" x2="408.7" y2="427.0" stroke="#cf7385" stroke-width="0.7" />
<line x1="406.5" y1="410.8" x2="410.9" y2="410.8" stroke="#cf7385" stroke-width="0.7" />
<line x1="406.5" y1="427.0" x2="410.9" y2="427.0" stroke="#cf7385" stroke-width="0.7" />
<text class="md" transform="translate(436.5,438.3) rotate(-90)" font-size="8.0" text-anchor="middle" fill="#222" textLength="35" lengthAdjust="spacingAndGlyphs">% SEM cells</text>
<line x1="454.2" y1="392.2" x2="454.2" y2="484.40000000000003" stroke="#2a2a2a" stroke-width="1.1" />
<line x1="453.7" y1="483.8" x2="513.2" y2="483.8" stroke="#2a2a2a" stroke-width="1.1" />
<line x1="451.2" y1="483.8" x2="454.2" y2="483.8" stroke="#2a2a2a" stroke-width="0.9" />
<text x="448.59999999999997" y="486.2" font-size="6.6" text-anchor="end" fill="#222" color="#222" font-weight="normal" textLength="3.6" lengthAdjust="spacingAndGlyphs" >0</text>
<line x1="451.2" y1="466.15000000000003" x2="454.2" y2="466.15000000000003" stroke="#2a2a2a" stroke-width="0.9" />
<text x="448.59999999999997" y="468.55" font-size="6.6" text-anchor="end" fill="#222" color="#222" font-weight="normal" textLength="7.3" lengthAdjust="spacingAndGlyphs" >10</text>
<line x1="451.2" y1="448.5" x2="454.2" y2="448.5" stroke="#2a2a2a" stroke-width="0.9" />
<text x="448.59999999999997" y="450.9" font-size="6.6" text-anchor="end" fill="#222" color="#222" font-weight="normal" textLength="7.3" lengthAdjust="spacingAndGlyphs" >20</text>
<line x1="451.2" y1="430.85" x2="454.2" y2="430.85" stroke="#2a2a2a" stroke-width="0.9" />
<text x="448.59999999999997" y="433.25" font-size="6.6" text-anchor="end" fill="#222" color="#222" font-weight="normal" textLength="7.3" lengthAdjust="spacingAndGlyphs" >30</text>
<line x1="451.2" y1="413.20000000000005" x2="454.2" y2="413.20000000000005" stroke="#2a2a2a" stroke-width="0.9" />
<text x="448.59999999999997" y="415.6" font-size="6.6" text-anchor="end" fill="#222" color="#222" font-weight="normal" textLength="7.3" lengthAdjust="spacingAndGlyphs" >40</text>
<line x1="451.2" y1="395.55" x2="454.2" y2="395.55" stroke="#2a2a2a" stroke-width="0.9" />
<text x="448.59999999999997" y="397.95" font-size="6.6" text-anchor="end" fill="#222" color="#222" font-weight="normal" textLength="7.3" lengthAdjust="spacingAndGlyphs" >50</text>
<line x1="464.2" y1="483.8" x2="464.2" y2="486.2" stroke="#2a2a2a" stroke-width="0.9" />
<text x="464.2" y="495.7" font-size="6.4" text-anchor="middle" fill="#222" color="#222" font-weight="normal" textLength="10.2" lengthAdjust="spacingAndGlyphs" >Ctrl</text>
<line x1="483.9" y1="483.8" x2="483.9" y2="486.2" stroke="#2a2a2a" stroke-width="0.9" />
<text x="483.9" y="495.7" font-size="6.4" text-anchor="middle" fill="#222" color="#222" font-weight="normal" textLength="11.2" lengthAdjust="spacingAndGlyphs" >VXL</text>
<line x1="503.59999999999997" y1="483.8" x2="503.59999999999997" y2="486.2" stroke="#2a2a2a" stroke-width="0.9" />
<text x="503.59999999999997" y="495.7" font-size="6.4" text-anchor="middle" fill="#222" color="#222" font-weight="normal" textLength="8.0" lengthAdjust="spacingAndGlyphs" >DX</text>
<text class="md" x="470.2" y="383.8" font-size="8.6" text-anchor="start" fill="#222" color="#222" font-weight="normal" textLength="17.6" lengthAdjust="spacingAndGlyphs" >NG2</text>
<text class="sm" x="487.8" y="380.2" font-size="4.6" text-anchor="start" fill="#222" color="#222" font-weight="normal" textLength="9.8" lengthAdjust="spacingAndGlyphs" >KO</text>
<line x1="464.1" y1="408.0" x2="464.1" y2="405.6" stroke="#555" stroke-width="0.7" />
<line x1="464.1" y1="405.6" x2="503.0" y2="405.6" stroke="#555" stroke-width="0.7" />
<line x1="503.0" y1="405.6" x2="503.0" y2="443.5" stroke="#555" stroke-width="0.7" />
<path d="M503.0,446.2 L501.4,442.7 L504.6,442.7 Z" fill="#111"/>
<text x="483.55" y="406.20000000000005" font-size="6.5" text-anchor="middle" fill="#333" color="#333" font-weight="normal" >**</text>
<line x1="464.1" y1="426.9" x2="464.1" y2="424.5" stroke="#555" stroke-width="0.7" />
<line x1="464.1" y1="424.5" x2="483.4" y2="424.5" stroke="#555" stroke-width="0.7" />
<line x1="483.4" y1="424.5" x2="483.4" y2="463.70000000000005" stroke="#555" stroke-width="0.7" />
<path d="M483.4,466.40000000000003 L481.79999999999995,462.90000000000003 L485.0,462.90000000000003 Z" fill="#111"/>
<text x="473.55" y="425.1" font-size="6.5" text-anchor="middle" fill="#333" color="#333" font-weight="normal" >****</text>
<text x="487.2" y="461.0" font-size="6.4" text-anchor="start" fill="#333" color="#333" font-weight="normal" textLength="6.6" lengthAdjust="spacingAndGlyphs" >x6</text>
<circle cx="461.4" cy="431.6" r="1.85" fill="#17396f"/>
<circle cx="463.9" cy="431.1" r="1.85" fill="#17396f"/>
<circle cx="466.2" cy="432" r="1.85" fill="#17396f"/>
<circle cx="464.9" cy="433.9" r="1.85" fill="#17396f"/>
<circle cx="463.9" cy="447.8" r="1.85" fill="#17396f"/>
<line x1="457.6" y1="435.4" x2="470.2" y2="435.4" stroke="#14325f" stroke-width="0.9" />
<line x1="463.9" y1="431.8" x2="463.9" y2="439.0" stroke="#14325f" stroke-width="0.7" />
<line x1="461.7" y1="431.8" x2="466.09999999999997" y2="431.8" stroke="#14325f" stroke-width="0.7" />
<line x1="461.7" y1="439.0" x2="466.09999999999997" y2="439.0" stroke="#14325f" stroke-width="0.7" />
<rect x="480.25" y="472.25" width="2.7" height="2.7" fill="#7d8fc6"/>
<rect x="484.04999999999995" y="472.84999999999997" width="2.7" height="2.7" fill="#7d8fc6"/>
<rect x="480.84999999999997" y="475.45" width="2.7" height="2.7" fill="#7d8fc6"/>
<rect x="483.65" y="476.04999999999995" width="2.7" height="2.7" fill="#7d8fc6"/>
<rect x="482.15" y="477.65" width="2.7" height="2.7" fill="#7d8fc6"/>
<rect x="482.25" y="471.04999999999995" width="2.7" height="2.7" fill="#7d8fc6"/>
<line x1="478.4" y1="475.6" x2="489.1" y2="475.6" stroke="#5868a8" stroke-width="0.9" />
<line x1="483.75" y1="473.0" x2="483.75" y2="478.2" stroke="#5868a8" stroke-width="0.7" />
<line x1="481.55" y1="473.0" x2="485.95" y2="473.0" stroke="#5868a8" stroke-width="0.7" />
<line x1="481.55" y1="478.2" x2="485.95" y2="478.2" stroke="#5868a8" stroke-width="0.7" />
<path d="M503,451.1 L504.9,454.55 L501.1,454.55 Z" fill="#a9b6df"/>
<path d="M500.3,455.9 L502.2,459.34999999999997 L498.40000000000003,459.34999999999997 Z" fill="#a9b6df"/>
<path d="M503.7,458.2 L505.59999999999997,461.65 L501.8,461.65 Z" fill="#a9b6df"/>
<path d="M505.6,459.4 L507.5,462.84999999999997 L503.70000000000005,462.84999999999997 Z" fill="#a9b6df"/>
<path d="M500.3,476.1 L502.2,479.55 L498.40000000000003,479.55 Z" fill="#a9b6df"/>
<path d="M505.6,475.1 L507.5,478.55 L503.70000000000005,478.55 Z" fill="#a9b6df"/>
<line x1="496.7" y1="465.2" x2="509.6" y2="465.2" stroke="#6d7cab" stroke-width="0.9" />
<line x1="503.15" y1="459.0" x2="503.15" y2="469.9" stroke="#6d7cab" stroke-width="0.7" />
<line x1="500.95" y1="459.0" x2="505.34999999999997" y2="459.0" stroke="#6d7cab" stroke-width="0.7" />
<line x1="500.95" y1="469.9" x2="505.34999999999997" y2="469.9" stroke="#6d7cab" stroke-width="0.7" />
<line x1="360.2" y1="498.7" x2="513.7" y2="498.7" stroke="#333" stroke-width="1.2" />
<text x="389.3" y="507.5" font-size="6.6" text-anchor="start" fill="#222" color="#222" font-weight="normal" textLength="89.4" lengthAdjust="spacingAndGlyphs" >End of induction treatment (D13)</text>
</svg>
<div class="frame"></div>
</body></html>
